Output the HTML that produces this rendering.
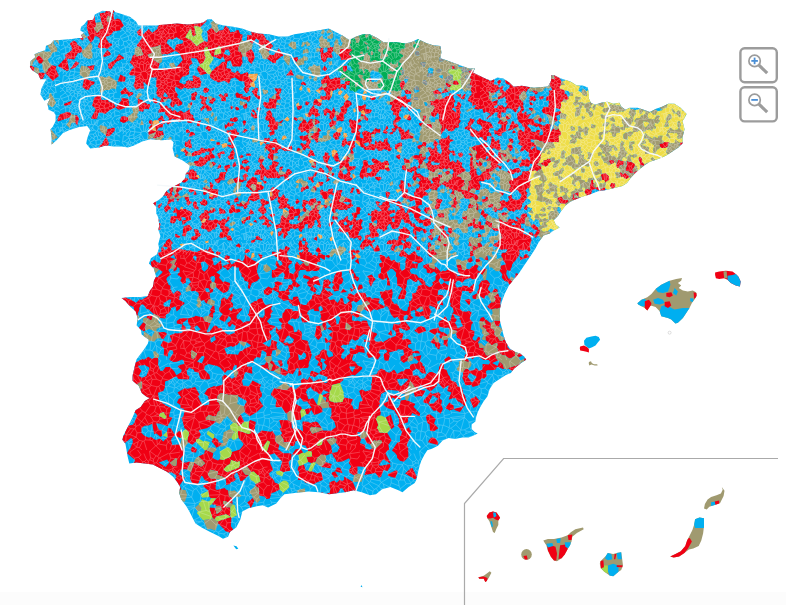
<!DOCTYPE html>
<html><head><meta charset="utf-8"><style>
html,body{margin:0;padding:0;background:#fff;width:786px;height:605px;overflow:hidden;font-family:"Liberation Sans",sans-serif;}
svg{display:block;}
</style></head><body><svg width="786" height="605" viewBox="0 0 786 605"><rect x="0" y="592" width="786" height="13" fill="#fcfcfc"/><polygon points="136.0,21.4 129.9,16.8 120.8,13.7 115.4,12.2 113.1,9.9 111.6,15.3 110.1,11.4 102.4,10.7 99.4,12.2 94.8,14.5 93.3,19.8 87.2,20.6 84.1,24.4 81.1,26.7 80.3,30.5 84.1,32.8 81.1,35.1 82.6,38.1 78.0,38.1 71.9,38.9 62.7,39.7 53.6,40.4 50.5,44.2 46.0,45.8 45.2,50.3 38.3,52.6 34.5,54.2 35.3,57.2 30.7,61.0 29.9,67.1 32.2,70.2 38.3,74.2 40.4,79.3 46.5,79.3 44.4,82.4 41.4,88.5 40.4,94.6 44.4,100.7 50.5,97.6 47.5,103.7 48.5,109.8 53.6,111.9 55.6,114.9 55.6,121.0 52.6,127.1 50.5,129.2 51.6,137.3 51.6,144.4 56.6,140.3 62.7,133.2 68.9,130.2 79.0,127.1 87.2,126.1 90.2,130.2 87.2,138.3 86.2,143.4 90.2,148.5 99.4,147.5 105.5,145.4 113.6,146.4 121.8,146.4 127.9,147.5 134.0,145.4 142.1,141.4 150.3,139.3 162.5,140.3 170.5,139.2 173.6,142.2 172.6,148.3 174.6,156.4 182.7,160.5 189.9,165.6 188.9,169.7 185.8,173.7 184.8,178.8 180.7,182.9 176.6,184.9 170.5,188.0 166.5,191.0 162.4,197.1 158.3,200.2 153.2,203.2 156.3,207.3 156.3,213.4 158.3,217.5 159.3,225.6 158.3,229.7 160.4,235.8 158.3,243.9 159.0,248.1 157.0,254.2 150.9,258.3 148.9,263.4 153.9,268.5 156.0,276.6 153.9,280.7 152.9,286.8 149.9,290.8 147.8,295.9 140.7,296.9 130.5,296.9 121.4,298.0 125.4,301.0 130.5,307.1 135.6,311.2 137.7,318.3 136.6,325.4 140.7,329.5 141.7,334.6 148.9,339.7 147.8,343.7 143.8,349.8 136.6,359.3 134.6,366.4 132.6,375.6 132.6,380.7 138.7,385.8 141.7,392.9 146.8,396.9 149.9,398.0 144.8,401.0 140.7,407.1 135.6,410.2 132.6,417.3 128.5,425.4 123.4,435.6 122.4,439.7 125.4,443.7 126.5,449.8 127.5,455.9 129.3,463.6 136.5,462.5 144.6,463.6 152.7,464.6 158.9,467.6 167.0,471.7 173.1,476.8 177.2,481.9 180.2,486.9 179.2,493.1 181.2,499.2 186.3,506.3 189.4,511.4 192.4,517.5 195.5,523.6 201.6,527.6 209.7,531.7 217.9,535.8 223.0,538.8 228.1,536.8 230.1,531.7 236.2,527.6 240.3,519.5 242.3,511.4 248.4,508.3 256.6,506.3 262.7,505.3 268.1,507.5 276.3,503.4 280.4,498.3 284.4,494.2 292.6,493.2 300.7,492.2 308.9,491.6 319.0,492.2 329.2,494.2 337.4,493.2 345.5,492.2 353.6,490.2 361.8,492.2 369.9,495.3 376.0,494.2 382.1,489.2 390.3,487.1 398.4,490.2 402.5,492.2 408.6,487.1 414.7,483.1 416.7,479.0 417.8,472.9 419.7,465.6 421.2,461.0 424.3,454.9 427.3,450.3 431.9,448.8 438.0,445.8 442.6,440.4 448.7,438.1 454.8,438.9 462.4,437.4 468.5,437.4 473.1,435.8 477.7,433.6 474.7,432.0 471.6,429.0 471.6,424.4 475.4,421.4 476.2,416.8 477.7,412.2 480.0,407.6 483.5,401.4 487.5,396.3 489.6,389.2 493.6,383.1 499.7,379.0 505.9,374.9 510.9,372.9 514.0,368.8 520.1,363.7 526.2,359.7 524.2,356.6 520.1,353.6 514.0,351.5 509.9,348.5 505.9,342.4 503.8,336.3 501.8,328.1 499.7,320.0 499.7,309.8 501.7,301.7 504.8,293.6 508.9,285.4 513.9,279.3 519.0,273.2 523.1,267.1 527.2,261.0 531.2,254.9 535.3,248.8 538.4,242.7 541.4,238.6 543.5,235.6 549.6,233.6 553.6,230.5 559.7,227.5 555.7,224.4 553.6,220.3 557.7,216.3 561.8,210.2 565.9,205.1 569.9,202.0 574.0,200.0 576.6,198.9 582.7,196.6 590.4,194.3 598.0,191.3 604.1,190.5 610.2,189.0 616.3,187.5 622.4,185.9 627.0,182.9 631.6,176.8 637.7,170.8 643.8,165.8 649.9,161.7 656.0,159.7 662.1,157.6 666.2,155.6 672.3,151.5 678.4,147.5 682.5,143.4 682.5,137.3 684.5,129.2 682.5,121.0 684.5,118.0 686.6,113.9 680.5,107.8 674.4,103.7 668.2,103.7 662.1,106.8 656.0,108.8 649.9,111.9 643.8,109.8 637.7,107.8 629.6,107.8 625.5,109.8 621.4,106.8 619.4,102.7 613.3,103.7 607.2,101.7 601.1,102.7 595.0,104.7 590.9,102.7 588.9,98.6 588.9,93.6 587.8,87.5 582.7,85.4 576.6,85.4 570.5,81.4 566.5,80.3 560.4,78.3 554.2,75.3 551.2,75.3 551.2,80.3 548.1,86.4 534.0,87.8 527.9,86.8 521.8,85.8 513.6,86.8 509.6,82.7 503.5,78.6 497.4,77.6 491.2,80.7 485.1,78.6 479.0,75.6 472.9,72.5 475.0,68.5 468.9,68.5 460.7,65.4 452.6,62.4 446.5,60.3 440.4,58.3 441.4,52.2 440.4,46.1 432.2,45.1 426.1,43.1 418.0,38.9 411.1,42.3 404.3,43.5 397.4,42.3 390.5,42.3 383.7,42.3 376.8,37.8 369.9,34.3 363.1,34.3 356.2,36.6 349.3,40.0 342.4,35.5 335.6,32.0 328.7,28.6 321.8,29.7 315.0,30.9 308.1,32.0 301.2,33.2 294.4,34.3 287.5,36.6 278.3,36.6 269.2,34.3 258.4,33.6 250.3,31.5 242.1,28.5 232.0,26.4 223.8,25.4 215.7,23.4 211.6,19.3 207.5,19.3 203.5,22.4 197.4,23.4 187.2,24.4 177.0,23.4 166.8,24.4 156.6,25.4 146.5,25.4 138.3,25.4" fill="#00aff0" /><path d="M103.1 28.5L101.0 28.8L97.1 33.0L93.8 28.3L96.2 26.3L95.9 22.8L95.3 22.2L94.7 16.0L94.3 16.2L93.3 19.8L87.6 20.5L87.6 24.0L86.8 25.6L87.1 27.0L86.7 27.8L89.2 35.4L87.0 37.0L90.9 42.9L93.4 39.5L94.8 36.4L96.1 36.1L99.6 37.9L100.0 42.0L99.0 43.3L97.8 46.6L98.9 48.2L103.8 48.1L104.5 47.7L107.1 49.0L112.2 45.1L111.7 43.7L109.2 42.9L106.4 38.9L105.9 36.4L108.8 36.0L111.8 34.1L113.1 31.4L120.3 30.3L120.7 28.4L123.9 25.4L120.2 19.5L117.5 18.4L115.3 19.8L113.9 18.8L113.3 12.9L114.5 11.3L113.1 9.9L111.6 15.3L110.1 11.4L106.0 11.0L105.1 12.6L100.1 13.2L99.7 13.5L101.2 21.8L103.4 27.2ZM106.6 20.0L108.2 15.6L111.9 19.0L109.6 21.3L108.0 22.0ZM143.3 54.3L142.0 55.2L136.9 56.3L134.5 54.3L132.6 56.0L131.5 59.5L129.7 62.6L132.5 65.3L133.9 67.6L131.9 69.3L128.8 74.1L131.0 75.6L135.5 75.4L134.9 81.6L133.4 85.5L135.7 89.6L137.5 89.4L139.6 88.2L143.7 88.9L143.9 88.0L143.4 81.4L147.6 85.5L149.6 85.9L149.6 77.5L156.6 77.5L156.0 86.4L157.6 88.1L156.2 92.8L157.6 96.6L161.3 98.2L159.8 102.6L164.0 102.1L163.6 99.2L164.6 98.9L167.1 99.5L168.0 98.2L171.0 98.9L171.8 101.0L170.1 103.9L171.0 106.8L173.5 107.3L174.7 104.8L176.2 103.7L177.2 105.3L178.8 106.3L182.2 104.3L182.3 102.2L180.4 100.8L180.2 99.9L176.9 96.8L178.1 95.1L174.6 89.8L175.7 86.6L180.6 89.5L182.8 89.0L184.0 87.5L188.3 88.7L190.1 88.2L191.2 88.5L194.9 87.6L195.7 88.3L199.0 87.5L200.5 86.7L201.4 81.4L200.7 80.9L199.5 77.3L198.1 77.2L193.9 75.2L192.5 76.1L193.1 81.0L188.4 80.2L186.0 81.4L185.8 83.4L184.5 84.6L179.2 82.4L179.7 80.2L182.5 76.4L183.3 76.7L185.5 76.1L189.2 73.9L188.9 71.3L189.8 69.6L188.8 67.6L190.1 65.1L192.6 63.6L190.8 58.9L191.6 58.1L196.7 58.5L200.0 64.6L203.3 62.4L206.0 57.3L204.8 56.0L204.3 48.6L207.1 46.4L211.5 56.5L213.1 56.8L213.6 56.4L220.4 59.3L223.0 56.6L225.6 61.5L222.3 62.1L218.2 66.3L217.3 66.2L211.8 70.9L209.7 74.5L210.4 77.7L214.1 80.5L215.9 80.9L218.4 82.5L224.5 80.7L229.1 83.7L231.0 78.6L235.2 77.6L238.3 79.8L239.0 80.9L244.2 81.6L244.9 87.1L243.6 89.1L245.5 92.5L246.3 93.1L247.0 93.0L249.3 90.3L248.6 88.4L251.0 86.4L249.9 84.1L253.2 81.2L248.2 76.5L248.6 74.1L247.4 72.1L240.7 74.5L237.7 70.5L234.9 73.1L231.5 71.7L230.8 69.0L226.3 67.9L227.3 61.8L229.6 60.6L230.7 61.0L232.6 66.4L240.5 66.4L242.6 62.8L242.0 57.4L242.6 56.8L241.3 52.2L238.5 50.9L238.6 47.0L240.6 41.4L241.9 39.9L242.7 34.7L240.2 33.9L238.5 30.1L236.4 30.3L234.1 32.0L232.5 31.7L230.4 32.5L228.7 28.6L225.9 26.0L224.9 26.6L223.1 30.0L218.9 30.6L216.5 33.1L211.4 27.6L206.8 31.7L207.5 32.8L207.9 40.1L207.4 42.0L204.1 40.9L199.0 44.3L198.8 44.9L196.4 45.9L191.1 40.1L185.9 37.8L185.5 36.8L189.6 30.0L190.8 29.1L192.8 36.9L196.0 35.0L194.3 26.4L194.9 25.7L200.4 27.3L206.8 21.0L206.2 20.3L203.5 22.4L197.4 23.4L187.2 24.4L177.0 23.4L159.2 25.1L157.7 26.8L157.4 29.1L152.3 32.7L149.8 30.4L148.9 28.8L143.2 34.2L140.6 28.4L136.6 32.1L138.8 35.4L142.8 36.5L142.9 37.1L136.7 45.3L137.0 46.4L140.2 47.2ZM154.2 60.2L154.2 59.3L148.5 56.4L147.7 54.8L152.2 53.3L150.8 47.9L153.5 46.8L154.9 47.1L159.9 45.2L160.6 45.3L161.1 53.4L162.7 54.5L165.7 54.1L167.3 54.6L174.8 51.0L177.1 51.8L179.8 54.0L182.8 60.0L176.3 67.3L176.3 68.0L175.3 68.4L171.1 67.8L167.0 69.6L165.5 67.7L158.0 70.2L159.6 63.4ZM172.9 39.5L176.6 36.9L179.3 39.3L183.3 40.5L182.6 43.6L177.4 44.3L176.0 44.9L174.7 50.4L166.5 42.9L167.9 39.8L169.7 39.0ZM164.5 96.7L163.0 96.1L164.8 92.0L167.8 95.4L167.5 97.2ZM214.8 50.8L218.5 46.3L220.7 46.8L221.1 53.4L214.4 55.3ZM225.7 49.8L228.4 49.5L230.5 53.7L229.0 55.7L223.9 53.7ZM79.3 38.1L82.4 40.4L83.8 38.7L81.6 34.8L81.1 35.1L82.6 38.1ZM66.9 71.1L69.0 69.9L67.0 58.6L74.2 59.6L77.7 53.3L81.6 52.2L82.5 50.0L81.0 46.6L77.9 45.2L76.2 42.0L73.4 40.6L69.8 43.6L72.0 48.2L71.4 50.6L65.0 55.0L65.8 57.4L57.8 66.0ZM102.7 56.0L104.3 57.1L110.6 54.9L110.5 53.0L107.5 50.1ZM110.8 69.4L116.6 61.4L116.9 61.6L124.6 58.1L119.0 53.9L115.6 59.5L108.1 64.1L108.4 67.9ZM43.9 60.1L39.9 55.8L39.0 55.6L36.3 57.3L36.2 59.0L39.1 63.5L41.5 63.4ZM79.4 63.1L75.9 61.2L70.0 69.4L75.3 67.5ZM93.6 69.8L94.5 65.1L87.0 66.5L90.8 70.4ZM43.1 78.6L45.2 73.1L53.2 81.2L54.0 79.8L59.0 75.8L55.7 69.1L56.5 66.4L51.6 65.0L47.6 69.6L46.9 71.9L45.2 73.0L39.8 72.6L37.5 73.7L38.3 74.2L40.4 79.3ZM34.3 67.3L32.1 65.9L30.1 65.7L29.9 67.1L32.2 70.2L34.2 71.5ZM125.6 77.3L120.2 74.6L117.7 81.5L125.0 81.8ZM85.2 78.0L84.3 78.0L82.4 87.1L86.2 89.8L88.8 89.7L91.0 85.5L93.9 84.6L94.8 82.0L86.2 78.9ZM128.8 97.1L133.3 94.1L132.9 92.2L128.9 91.8L125.5 87.2L120.3 91.8L121.5 94.6L127.2 93.8ZM98.6 112.6L102.2 112.8L105.0 113.9L108.5 111.2L108.9 110.4L115.7 107.3L113.6 103.3L108.6 101.6L108.3 99.8L101.6 100.1L100.5 94.5L94.5 97.5L93.9 98.6L92.1 105.4L94.8 107.9L95.6 109.8L91.0 118.3L93.5 119.0L97.0 118.7ZM121.5 109.5L126.6 107.6L127.2 106.9L129.3 106.1L128.6 99.7L128.2 99.0L121.5 97.7L121.4 100.6L115.8 107.4L118.1 109.5ZM138.9 111.1L143.1 111.7L144.0 109.2L147.1 108.7L148.6 109.6L150.3 106.0L149.6 104.0L147.1 104.2L146.3 103.1L143.1 102.0L142.9 100.5L138.4 98.6L137.7 98.7L137.9 106.1L138.2 106.3ZM64.6 105.7L70.1 104.7L72.5 100.4L64.3 103.8L64.0 104.8ZM69.7 117.4L71.4 113.9L70.7 112.7L67.1 111.7L59.7 114.6L57.6 118.8L57.6 121.5ZM127.8 117.3L124.1 115.9L121.3 116.7L119.9 120.4L120.5 121.8L123.8 123.0L128.7 120.7ZM77.3 125.5L79.0 118.2L76.9 115.3L75.2 115.2L75.3 123.1ZM115.1 130.3L114.4 127.4L107.3 129.2L105.7 135.2L106.4 136.5L109.8 135.9ZM108.9 143.0L106.2 137.0L105.1 137.9L101.8 144.3L100.5 144.7L98.6 147.6L105.5 145.4L108.1 145.7ZM138.1 315.3L137.6 314.0L139.4 309.5L139.1 308.2L140.6 305.2L142.3 304.2L144.0 305.1L146.6 309.3L148.2 308.9L153.6 314.1L154.1 313.8L159.5 317.2L159.8 318.1L165.5 318.5L166.1 314.4L168.8 313.3L171.0 309.6L170.8 308.2L175.3 306.2L176.6 311.5L180.3 308.4L180.4 306.8L184.3 304.1L184.6 302.8L179.2 299.7L179.5 295.9L181.4 294.4L180.3 292.1L177.1 290.4L173.3 294.0L170.3 288.9L170.5 285.8L168.6 284.7L166.3 279.3L167.3 277.3L171.0 274.6L168.4 270.5L169.0 268.9L170.5 268.4L173.0 264.6L169.8 262.2L175.6 259.2L170.3 257.6L170.6 256.9L173.7 254.3L175.9 259.2L176.6 259.6L174.0 264.7L175.8 266.3L173.2 269.3L173.9 271.5L176.5 270.1L177.3 267.1L179.5 268.2L179.7 272.2L178.6 272.9L177.4 274.8L181.8 277.8L180.3 280.5L182.7 284.0L185.7 282.8L186.2 278.3L188.9 278.2L191.0 282.0L188.5 284.6L190.4 286.7L190.6 290.7L192.1 291.3L195.0 290.7L198.4 292.7L199.0 295.3L198.3 296.5L201.0 300.9L203.7 300.1L206.2 303.5L206.8 303.3L208.5 299.6L210.6 298.9L209.6 295.0L210.5 292.8L212.5 292.3L213.4 289.2L210.8 288.1L209.8 284.4L212.2 281.9L210.5 279.3L210.2 277.2L212.2 275.9L214.8 276.6L215.2 278.7L214.2 281.9L216.0 283.9L215.9 287.1L223.1 293.1L226.8 292.1L229.1 288.9L229.4 286.4L229.9 285.6L229.9 282.9L224.8 281.2L223.1 282.2L219.1 277.8L220.2 274.9L216.2 272.2L221.6 268.7L222.1 266.4L221.8 266.0L220.9 260.2L215.3 265.3L214.3 265.3L213.4 264.5L213.6 262.4L212.1 258.9L212.4 258.2L215.7 257.1L218.4 258.0L218.3 255.9L220.9 252.9L220.5 252.2L217.2 251.2L215.8 252.4L216.4 253.8L215.5 256.1L212.8 254.7L214.3 252.5L212.1 250.2L212.1 249.3L209.7 246.7L207.8 250.9L206.1 249.0L203.4 250.4L200.9 249.6L199.4 250.9L198.1 251.1L197.4 252.1L192.9 251.5L190.2 250.2L186.8 250.7L185.8 250.1L176.5 248.6L172.1 250.5L171.8 250.4L171.2 244.9L172.9 242.9L169.3 238.5L166.0 241.1L166.1 242.1L162.3 246.5L167.1 247.0L167.6 248.6L164.9 250.1L162.2 246.8L161.3 248.1L161.4 251.7L158.1 252.7L158.1 254.2L159.7 256.6L160.5 256.9L160.8 261.6L160.0 263.0L156.8 262.0L154.4 259.7L150.8 262.0L151.4 265.9L152.9 267.5L154.0 267.3L158.9 269.2L159.1 269.7L162.6 271.7L162.0 273.1L157.2 277.5L155.8 276.9L153.9 280.7L152.9 286.8L149.9 290.8L147.8 295.9L147.1 296.0L147.4 296.6L141.5 299.9L139.8 299.2L136.2 302.7L132.0 300.5L131.8 299.7L127.2 298.5L126.1 297.4L121.7 298.3L125.4 301.0L129.4 305.8L130.3 305.4L133.9 307.3L134.0 309.9L135.6 311.2L137.0 315.9ZM169.2 299.4L171.2 299.7L169.5 306.8L164.0 306.6L163.3 304.3L163.9 303.1ZM209.9 292.5L206.1 291.8L205.0 289.0L206.4 288.1L208.9 288.5ZM202.5 261.6L205.1 261.8L208.7 265.9L208.1 267.3L208.0 268.6L204.4 271.7L201.4 269.3L201.9 267.8L200.6 263.1ZM195.5 261.3L192.9 257.4L194.4 255.5L195.8 255.8L196.8 257.8ZM144.1 331.2L145.0 330.7L145.9 323.9L143.2 322.3L139.2 327.2L139.1 327.9L141.3 330.0ZM135.9 413.3L137.2 415.6L134.4 421.9L134.6 422.5L132.2 424.9L128.5 425.4L124.9 432.7L125.2 434.0L123.3 436.0L122.4 439.7L124.9 443.0L130.7 438.3L132.1 438.6L132.9 442.0L130.3 448.4L129.3 449.1L127.2 453.1L127.3 453.6L134.7 459.8L135.0 460.8L133.5 463.0L136.5 462.5L152.7 464.6L167.0 471.7L168.5 473.0L168.9 472.3L172.1 472.5L176.5 475.5L175.4 479.7L177.2 481.9L180.2 486.9L179.5 491.1L181.2 489.3L179.8 485.3L185.0 477.5L179.0 474.2L181.0 469.4L185.8 469.3L187.2 469.8L190.2 461.7L189.0 461.4L186.6 462.4L182.7 462.4L180.1 458.9L184.4 453.5L183.9 450.9L180.0 444.5L173.9 444.7L172.5 445.2L171.3 441.5L171.2 439.0L174.6 435.2L179.4 437.7L181.0 438.1L182.0 436.2L182.0 432.4L179.2 430.9L174.5 434.2L171.0 428.4L168.1 427.8L167.0 431.5L167.4 437.6L163.2 441.4L160.3 438.6L155.8 440.0L150.6 436.7L149.0 437.7L144.4 435.8L141.4 432.8L141.5 428.3L144.4 425.8L148.6 425.4L152.1 423.7L154.2 434.0L156.5 433.5L160.4 437.1L162.3 435.6L161.8 430.3L159.0 429.8L156.0 423.4L159.2 423.4L167.4 426.3L172.5 417.8L168.9 416.4L171.1 407.9L165.7 405.6L164.8 404.5L163.9 404.2L159.2 400.1L157.9 392.7L163.3 391.1L164.9 387.5L165.0 381.9L165.8 381.1L167.9 380.8L176.2 376.3L178.5 379.0L188.5 379.5L189.2 378.5L189.4 376.6L187.2 374.6L186.6 370.8L189.3 367.7L193.9 369.7L194.3 371.4L198.6 372.8L200.8 379.2L207.9 379.4L210.1 378.7L209.4 374.8L204.2 369.7L204.9 365.8L208.8 364.0L215.5 365.7L216.1 365.4L220.0 367.6L224.9 372.9L227.3 370.3L232.5 369.9L233.7 366.3L235.2 364.9L237.0 365.5L236.3 370.2L238.1 372.3L237.6 374.3L236.1 376.9L234.7 377.2L232.2 378.8L224.8 374.4L222.3 376.7L222.8 384.1L221.5 385.1L216.4 386.6L213.5 385.9L213.2 386.4L207.7 388.5L204.3 393.8L207.8 396.3L208.7 399.0L209.5 403.3L208.6 404.7L204.2 405.6L202.5 404.5L200.0 400.7L198.1 396.3L199.7 394.8L195.1 387.1L187.7 388.8L184.6 388.3L177.5 392.5L181.3 397.6L178.6 399.0L176.9 402.6L180.6 405.2L180.5 407.7L183.8 409.0L184.6 410.7L183.5 416.2L181.4 418.5L182.1 419.1L184.4 428.3L185.9 429.1L189.2 432.6L187.2 440.8L188.2 442.6L192.2 444.8L195.8 441.8L196.4 439.2L199.0 438.6L200.8 434.4L198.8 430.6L198.9 430.1L207.6 428.1L208.0 427.3L209.1 427.1L215.8 422.1L215.4 421.1L206.0 419.4L206.0 417.4L208.8 415.1L215.3 416.7L216.6 415.2L218.0 411.8L219.8 410.9L220.0 405.1L218.8 402.5L217.4 401.7L217.5 396.3L218.9 394.6L220.3 393.5L222.9 393.3L228.9 395.0L229.2 394.8L237.5 395.1L238.4 396.6L245.6 400.3L246.7 401.4L244.1 406.3L244.6 410.4L244.3 411.9L249.7 416.3L256.3 412.4L263.3 406.1L258.9 399.2L261.9 396.3L261.8 392.8L260.6 391.6L259.6 388.8L261.0 384.7L252.6 380.6L248.6 386.2L243.0 385.5L242.0 380.4L243.5 378.4L244.1 374.7L245.7 372.1L252.3 373.8L252.0 366.8L246.9 366.4L247.3 361.9L253.0 363.0L254.1 359.1L256.9 356.9L260.4 357.7L261.6 351.0L262.3 350.3L266.1 352.3L266.6 356.2L271.1 356.1L272.5 350.6L275.7 350.1L277.4 349.0L276.3 345.0L277.3 341.9L271.6 339.8L270.7 345.2L268.9 347.1L262.6 343.3L270.9 338.9L271.4 336.0L269.2 331.8L270.3 330.8L271.9 330.2L275.6 326.3L270.1 324.7L266.9 321.3L270.9 317.1L270.6 314.2L272.8 311.3L270.6 308.7L272.7 305.3L272.2 303.9L265.6 304.9L264.3 303.5L261.6 297.9L258.1 299.3L256.3 301.2L254.8 300.9L248.8 304.9L250.1 306.4L248.9 313.4L247.7 314.4L250.3 317.6L249.8 321.3L246.6 321.3L243.4 322.8L240.3 319.6L237.7 319.2L236.5 317.8L236.7 315.2L242.2 309.4L241.1 308.0L235.2 309.6L233.1 308.1L231.6 311.0L228.6 309.6L229.6 308.0L232.8 307.0L233.3 304.2L231.7 301.9L230.5 301.2L233.6 295.0L231.7 293.3L226.9 299.7L224.1 297.2L220.8 299.8L221.0 303.1L220.6 303.8L220.3 307.0L219.1 307.6L219.2 311.2L222.7 314.0L218.8 319.0L224.7 322.1L228.9 316.1L231.1 317.9L230.1 321.2L227.3 323.1L228.6 326.5L230.3 326.7L232.1 323.8L235.8 326.0L234.4 330.6L234.9 332.7L230.4 334.6L227.4 334.4L225.4 332.8L221.1 328.1L218.7 328.3L216.7 325.9L214.2 325.4L209.4 332.0L207.7 332.5L207.1 332.3L206.6 331.6L210.5 323.0L205.1 321.2L204.0 319.7L203.2 317.5L202.5 317.2L195.3 315.7L194.8 316.5L188.1 318.5L183.0 318.0L181.3 318.5L180.5 318.2L176.7 320.9L176.8 323.4L182.5 324.5L181.2 328.5L182.8 332.1L181.2 333.1L176.6 333.5L175.9 333.1L169.6 335.6L171.7 340.8L168.7 342.9L163.3 340.4L160.6 345.3L160.8 345.8L164.1 348.4L163.8 355.1L165.2 356.1L167.8 356.6L167.9 353.7L169.9 350.0L172.6 350.4L173.5 352.9L169.5 358.4L169.6 359.9L173.4 362.0L176.8 361.8L182.2 359.6L184.1 361.5L184.1 364.1L179.5 365.1L177.7 366.8L181.7 370.1L181.2 372.2L176.4 375.2L174.2 371.2L170.0 367.1L165.6 367.1L163.0 370.8L160.1 370.8L158.6 365.5L158.0 365.2L158.3 360.7L158.0 358.0L154.1 357.7L152.0 359.1L148.3 356.8L144.0 359.8L142.3 358.9L135.7 362.4L132.6 375.6L132.6 380.7L137.0 384.4L142.0 381.3L141.5 388.4L140.4 389.8L141.7 392.9L146.8 396.9L149.9 398.0L144.8 401.0L140.7 407.1L135.6 410.2L134.4 413.0ZM227.8 354.5L226.7 353.9L224.3 348.4L231.2 346.0L232.8 346.9L237.6 344.4L239.0 342.5L238.9 341.3L247.1 342.4L251.0 345.4L250.4 346.3L244.5 348.7L243.0 350.3L239.8 351.6L237.8 355.1L236.9 354.5L228.9 354.0ZM176.3 465.7L174.1 466.2L172.3 464.9L170.1 462.7L175.8 458.2L177.2 458.9ZM169.2 462.6L165.7 467.1L158.8 462.5L167.1 459.6ZM141.4 370.7L137.8 365.7L145.2 365.0L145.9 365.7L148.9 367.2L149.4 368.2L146.3 375.9L142.1 377.8L139.4 376.3L139.0 375.6ZM160.4 413.3L163.5 412.2L166.4 416.7L165.3 418.8L164.4 418.7L158.9 415.7ZM193.8 359.1L191.6 358.1L190.9 352.3L191.7 350.5L192.4 350.5L197.2 353.8ZM187.9 319.0L188.2 322.9L190.9 326.4L189.5 329.9L185.8 329.6L185.6 326.9L182.7 324.4L182.9 322.7ZM194.3 327.2L196.9 325.2L200.8 329.6L196.4 332.1L195.6 331.7ZM210.6 341.4L210.5 338.2L214.8 335.7L215.8 339.9L211.1 342.8ZM197.2 361.8L201.9 356.0L204.2 356.3L204.6 357.1L201.9 363.2ZM264.4 309.2L264.8 314.6L263.1 317.8L259.3 317.2L258.5 315.3L258.3 312.9L262.2 309.7ZM146.2 25.8L146.5 25.4L145.4 25.4ZM152.9 97.9L153.2 102.3L156.0 103.6L157.6 103.1L156.8 99.1ZM160.7 107.8L158.6 110.3L158.4 112.6L159.1 112.8L161.1 112.2L164.7 111.7L165.0 112.0L165.4 114.5L168.3 117.0L169.2 119.1L166.3 122.5L167.9 124.4L171.4 122.2L170.6 119.7L172.6 119.1L177.7 120.1L178.4 121.5L179.7 122.0L185.4 118.9L185.9 119.1L187.2 120.9L187.3 122.5L191.5 123.2L192.1 122.3L193.5 122.2L194.7 119.2L193.1 117.2L193.4 115.4L190.3 113.4L189.9 109.0L185.3 112.2L183.8 112.7L181.3 110.8L180.4 110.5L177.3 112.5L175.0 109.9L172.3 111.1L170.2 108.0L169.0 108.5L166.7 105.4L165.7 105.6L164.8 106.8L159.0 103.2ZM156.2 130.7L155.7 131.2L151.4 129.5L152.4 124.4L152.7 124.3L152.6 121.6L151.4 119.9L149.2 120.5L148.7 123.2L151.6 124.3L148.6 127.8L149.7 129.8L148.3 132.8L148.7 135.2L155.3 132.2L155.4 134.0L152.7 138.3L153.5 138.6L159.9 136.7L160.8 135.4L164.0 135.2L162.6 130.6L161.2 131.1L156.9 130.3L159.2 127.4L162.9 127.3L163.1 124.2L166.1 122.4L163.6 119.1L163.0 116.5L160.8 115.6L160.1 117.4L158.2 118.7L158.0 120.0L159.0 121.0L161.9 120.0L162.8 124.0L159.4 123.4L158.4 124.5L154.6 124.6ZM168.5 198.7L168.5 200.7L167.4 202.4L167.5 204.6L165.9 206.3L164.9 206.7L164.1 208.2L164.7 211.1L166.2 212.4L168.5 209.7L170.5 209.4L171.1 208.1L167.8 204.6L169.1 204.1L171.6 201.6L173.5 202.0L174.7 197.9L170.7 199.1L169.6 198.4L170.5 196.4L172.8 195.5L171.6 193.3L173.3 190.2L173.3 187.5L173.9 186.9L176.2 187.0L176.9 188.7L175.3 190.7L176.9 192.8L175.1 194.2L174.0 195.9L174.9 197.8L179.8 195.6L177.8 192.8L179.6 190.4L181.8 190.1L182.3 187.8L179.2 185.2L180.2 183.1L169.5 188.7L169.3 189.9L170.1 193.1L169.2 193.6L166.8 191.7L167.2 190.5L166.5 191.0L163.3 195.7L164.6 195.4L166.9 196.0L167.1 198.1ZM155.6 206.2L156.2 202.1L156.1 201.5L153.2 203.2ZM158.7 204.7L157.8 207.2L159.3 208.2L162.0 204.4L161.5 203.1ZM158.5 230.0L160.6 229.4L159.8 226.1L160.6 225.3L160.5 223.6L159.0 222.9L159.3 225.6L158.3 229.7ZM159.4 219.8L158.5 219.3L158.9 222.2ZM146.3 317.6L150.7 320.3L151.6 319.9L152.9 316.5L152.8 315.7L147.5 316.1ZM163.4 339.3L166.9 334.2L166.6 333.6L165.6 332.4L163.9 332.0L158.3 332.2L158.3 332.9L161.5 338.6ZM190.1 132.6L188.7 136.1L188.9 136.6L191.5 136.5L192.4 135.5L195.2 135.1L194.6 133.3L192.0 131.7L190.3 132.3L188.0 128.9L185.8 130.2L186.4 132.9ZM185.2 141.6L184.7 145.0L185.5 147.2L187.6 146.7L189.4 148.4L191.6 148.0L191.9 147.6L191.6 143.9L190.9 143.7L190.6 139.6L189.7 139.0L187.1 142.0ZM185.0 155.2L187.3 156.0L188.1 151.7L185.4 149.3L183.1 151.5L185.4 153.2ZM189.2 178.5L191.8 178.9L193.7 179.7L197.8 179.2L198.6 178.2L195.8 176.0L196.9 174.8L196.2 171.2L194.7 171.3L193.1 169.4L192.3 169.1L189.2 170.5L188.6 172.5L187.2 171.9L185.8 173.7L185.6 174.6L186.2 174.8L188.2 173.5ZM182.0 182.0L184.2 182.7L187.5 180.9L188.2 179.0L185.1 177.5L184.8 178.8L182.0 181.6ZM188.9 196.9L187.0 196.4L184.3 197.5L187.0 201.9L186.1 203.0L188.2 205.7L192.2 202.3L189.0 200.6L189.4 198.5ZM176.3 198.8L177.9 201.9L179.3 198.8ZM176.7 216.6L173.8 215.8L170.9 216.5L170.0 221.5L170.4 222.4L172.4 223.6L174.8 223.0L176.9 218.4L179.1 221.0L181.8 220.5L181.4 216.7L185.0 217.6L186.0 218.9L185.9 219.7L181.9 220.6L182.8 225.3L187.0 221.4L191.3 219.6L190.1 216.6L191.5 215.4L192.4 213.0L190.2 211.2L187.7 210.3L185.8 209.1L180.2 209.3L179.3 210.2L178.1 210.1L175.1 207.0L174.0 210.7L172.6 211.6L173.9 213.0L176.3 212.8L177.0 214.9ZM185.5 236.5L187.0 231.6L190.6 230.3L192.3 228.5L189.1 224.6L183.3 226.7L183.6 227.3L182.7 230.9L183.0 231.7L182.2 235.7L183.6 236.3ZM175.1 237.1L179.4 238.0L180.3 236.5L176.4 233.9L175.2 234.1ZM200.4 75.2L207.1 73.5L204.2 70.0L199.3 65.9L198.2 66.6L196.9 68.9ZM206.4 87.4L203.8 88.2L203.2 91.4L204.8 93.1L207.3 92.5L208.7 91.1L209.1 89.2ZM191.5 96.4L190.7 98.8L191.9 99.9L195.4 100.3L195.6 96.6L197.5 94.0L196.0 91.4L191.2 94.1ZM211.7 110.4L211.9 110.1L211.7 107.9L206.6 104.3L206.1 104.4L205.4 102.0L207.4 97.3L203.9 97.0L203.6 96.3L200.2 94.9L199.7 98.6L201.9 99.4L200.5 103.0L204.0 105.0L200.1 108.9L201.0 111.6L205.9 107.5L207.5 111.3ZM189.1 103.6L191.4 105.6L192.1 105.3L192.3 102.3L191.9 101.8ZM196.8 125.6L199.6 126.5L200.2 124.1L199.6 123.7L201.3 120.2L197.2 121.5ZM208.3 125.5L205.0 128.1L209.4 131.6L210.6 130.3L211.1 127.8ZM194.7 151.3L191.6 153.5L192.0 156.5L195.0 156.1L195.7 155.5L198.9 154.8L199.6 155.2L202.6 152.8L204.9 152.9L205.5 151.6L209.6 151.7L209.0 154.7L206.0 154.9L206.0 155.5L203.3 158.0L201.7 156.9L200.1 156.6L198.2 160.7L194.8 160.9L193.8 162.2L195.9 165.9L201.2 166.8L204.2 164.9L205.0 164.8L208.1 160.7L209.6 160.8L211.0 158.5L215.1 158.0L215.1 156.6L214.1 155.2L212.8 154.2L211.4 151.4L214.5 149.4L214.5 147.6L213.9 147.3L210.0 148.8L209.4 148.1L205.4 149.3L205.1 148.8L202.4 147.8L201.0 147.8L200.0 149.7L197.9 150.8ZM207.9 192.3L209.5 194.4L212.8 193.2L213.3 194.1L212.6 196.6L209.2 196.6L209.0 197.0L209.0 198.3L212.7 199.7L213.7 198.1L217.6 197.0L218.4 194.7L218.0 192.9L218.5 189.4L212.7 189.1L212.2 188.7L213.5 185.8L213.2 184.4L211.2 182.3L209.7 182.3L210.4 188.6L209.1 189.5L204.0 187.2L202.7 187.7L202.7 188.9L208.1 191.0L207.9 191.9L203.3 192.0L203.0 193.4L204.0 195.3L205.7 194.5ZM188.6 189.8L188.8 191.3L190.7 192.8L194.2 191.0L193.4 195.2L196.8 194.6L195.4 190.7L194.5 190.8L191.2 187.7ZM207.5 203.4L207.2 201.2L204.0 198.6L202.7 199.2L202.2 200.8L200.1 201.9L199.8 203.0L201.6 205.0L202.4 204.8L204.7 205.9L206.6 205.1ZM198.4 207.0L196.9 205.9L196.8 202.4L194.9 200.9L192.9 202.6L193.3 206.2L194.3 208.6L198.7 209.7ZM199.1 216.5L201.0 221.8L203.9 218.6L205.8 219.0L206.4 219.5L204.4 222.4L201.6 222.7L201.8 224.5L200.7 227.8L202.9 229.2L204.9 228.7L206.9 230.1L208.0 231.8L209.7 231.4L210.3 231.6L213.5 228.9L214.6 229.7L216.1 226.9L217.0 226.8L217.4 222.7L220.4 226.1L219.9 227.5L222.7 231.0L222.7 231.5L220.2 232.6L219.2 236.8L220.9 238.2L224.3 237.3L226.0 236.2L227.1 239.5L228.1 240.3L232.3 240.5L230.7 235.7L227.1 235.2L228.9 230.8L230.1 229.5L227.8 226.7L225.4 226.6L224.9 225.6L224.9 224.5L227.1 221.8L229.2 219.9L229.5 217.3L229.0 216.5L227.3 216.7L226.6 220.4L224.7 218.4L221.9 219.6L220.8 220.7L218.4 220.6L215.5 219.1L213.2 220.3L208.5 220.2L208.3 219.8L209.7 217.0L208.2 214.0L208.6 213.3L212.6 212.9L215.7 210.8L215.8 210.3L214.4 208.1L213.5 208.1L212.2 210.5L210.3 209.9L208.4 211.6L207.2 210.0L204.5 210.3L203.7 212.9L201.6 213.4L199.8 216.1ZM198.9 231.5L197.9 229.5L193.8 229.0L195.0 233.3L196.0 235.3L191.6 236.7L190.7 239.1L193.7 240.5L196.4 239.4L197.6 238.2L197.6 237.6L200.9 235.4L201.3 234.6L198.9 232.5ZM213.1 313.2L215.0 312.0L214.3 305.4L212.6 306.0L209.8 309.9L210.9 312.0L208.3 315.7L212.9 317.9L213.3 315.4ZM192.6 446.4L190.5 449.4L192.0 452.2L196.0 452.4L197.0 449.2ZM190.3 476.7L189.9 477.8L190.8 480.4L192.6 483.5L193.4 483.7L198.2 483.8L201.2 476.1L202.3 476.1L204.8 480.3L208.6 481.2L208.3 482.5L202.7 485.9L208.3 490.4L208.0 491.0L209.3 496.9L211.1 498.3L216.0 498.2L211.8 504.3L216.0 505.1L216.2 506.2L220.6 506.6L221.7 509.9L216.8 513.9L215.0 507.9L209.8 507.6L209.3 508.3L212.7 518.6L214.7 518.9L216.1 516.8L226.2 514.3L230.5 516.7L230.3 507.3L226.6 507.2L223.0 503.0L223.1 500.9L224.8 501.1L232.5 503.9L232.4 497.9L229.1 496.3L228.1 490.5L225.6 489.3L224.8 488.1L216.8 490.0L215.4 488.6L216.4 481.2L216.2 479.4L215.5 478.5L210.6 478.2L207.9 474.7L208.0 473.5L210.6 469.8L218.0 471.6L217.0 474.8L224.1 477.3L224.1 477.9L226.0 479.6L226.2 485.1L230.0 484.0L231.2 482.1L233.1 481.8L236.3 479.6L234.5 477.5L234.2 474.9L236.3 472.3L237.6 473.1L240.0 479.7L239.9 480.7L242.2 481.0L248.7 475.3L245.3 474.4L242.7 471.3L242.7 468.3L247.1 466.2L251.1 472.0L253.8 471.5L257.3 475.0L258.9 475.4L260.5 481.5L255.6 483.9L255.4 485.8L258.7 488.3L259.4 491.9L258.7 493.2L259.7 495.7L264.6 496.4L266.5 499.1L269.7 498.5L271.6 492.9L273.9 492.6L279.9 489.4L278.6 484.0L274.7 482.5L274.2 480.5L269.5 475.5L269.2 473.1L273.2 470.1L270.1 463.1L270.4 461.9L269.7 457.4L270.0 454.7L274.5 453.3L282.4 461.8L281.8 462.6L279.7 470.8L283.7 472.3L284.5 471.7L289.8 470.7L290.3 470.0L288.7 462.0L291.1 459.3L291.6 454.6L290.0 453.2L283.6 453.3L278.2 449.2L279.4 445.0L275.5 441.5L275.5 435.8L272.5 431.0L270.8 431.8L261.6 430.4L258.0 433.8L256.5 434.8L254.0 433.5L255.8 422.0L250.3 420.0L249.0 421.6L248.6 426.7L251.0 433.1L248.5 434.1L238.4 430.6L237.6 431.4L238.5 437.7L243.3 443.5L243.4 444.9L239.8 449.4L232.0 452.1L230.6 456.7L223.3 460.1L219.6 459.2L218.0 460.5L213.9 458.8L212.5 457.5L213.2 452.9L206.3 450.0L204.9 450.4L204.1 453.8L198.5 456.6L205.3 463.5L201.1 466.8L194.3 462.7L191.2 471.3L190.4 472.1ZM223.7 469.3L225.9 466.7L230.3 463.5L231.0 460.0L237.2 461.9L239.9 461.3L240.1 462.7L239.1 467.6L227.4 472.1L225.0 470.9ZM267.5 440.6L270.1 442.0L266.6 452.2L264.4 451.7L262.9 447.5ZM227.5 93.2L224.5 93.4L224.1 96.6L220.6 93.7L218.5 95.2L221.6 98.7L221.0 101.1L226.1 101.3L225.6 97.0L228.0 96.6ZM208.9 102.8L212.7 104.0L213.7 101.9L215.8 100.0L214.9 97.9L213.0 97.7L209.7 100.6ZM233.6 106.9L230.8 105.5L230.5 107.7L231.4 109.8ZM236.9 121.2L237.9 120.1L237.4 117.4L234.1 117.3L233.4 118.2L230.6 118.1L229.7 121.0L234.6 122.0ZM232.8 126.1L234.4 122.9L230.1 123.6L228.4 121.8L226.8 124.7L224.9 124.5L224.6 127.0L225.3 128.9L227.8 126.5L229.8 126.8L230.3 126.4ZM233.0 148.5L234.7 146.8L232.2 141.9L233.9 140.2L234.1 138.8L236.2 137.4L239.4 133.3L238.6 132.4L237.1 131.7L236.0 128.6L234.5 128.8L233.9 129.5L230.2 130.0L229.9 130.6L226.5 130.2L226.8 134.1L230.1 131.7L231.4 133.5L231.2 134.4L228.1 137.5L228.5 138.2L228.3 141.6L230.8 142.2L231.6 145.3L227.3 144.5L227.1 145.9L232.1 148.4ZM216.1 142.6L216.6 145.1L218.8 145.2L220.6 144.6L219.2 141.9ZM230.0 159.7L234.2 158.8L233.9 157.0L234.9 153.0L233.0 149.0L230.3 152.8L230.1 154.8L227.7 156.4L228.5 158.2ZM219.6 158.8L220.5 157.5L220.6 153.9L225.0 153.9L224.2 151.5L223.6 150.9L220.0 151.9L219.7 152.7L217.4 153.4L217.3 155.1ZM213.4 165.9L215.2 165.1L215.9 163.2L213.6 161.8L211.3 161.9ZM235.1 161.3L232.1 165.4L233.5 167.2L236.6 165.6ZM216.5 178.9L214.5 179.2L215.7 182.0L217.8 183.4L219.8 182.3L220.8 180.2L224.7 180.3L224.6 177.0L225.0 176.7L225.4 174.5L226.5 171.9L227.1 171.9L227.5 169.1L229.7 168.1L230.4 165.2L229.1 164.5L224.5 166.1L224.0 167.8L226.4 171.9L221.1 172.0L220.0 172.8L218.6 177.8ZM217.8 166.4L217.2 169.0L220.9 167.5L221.1 165.2L219.5 164.3ZM228.1 200.1L226.0 202.4L228.3 204.8L229.7 205.2L230.2 202.3ZM230.2 205.8L230.8 208.1L228.8 209.6L229.3 212.7L230.3 213.7L232.0 213.2L233.2 211.9L236.6 213.1L237.5 212.4L241.0 211.8L239.1 208.8L236.7 209.4L234.6 208.6L234.9 207.4L233.6 204.5ZM222.5 209.5L220.1 207.3L219.0 209.0L219.4 213.9L220.8 214.0L221.9 213.4L224.7 213.8L225.8 212.5L224.3 209.6ZM227.7 270.5L232.6 266.0L234.8 267.5L238.8 267.4L239.2 270.4L241.7 274.3L241.4 276.2L243.3 277.3L244.7 280.8L248.5 282.0L247.9 288.0L249.6 288.9L251.7 283.8L251.4 283.2L257.3 281.1L258.5 279.3L259.9 278.3L258.7 276.6L256.9 271.7L258.0 265.2L259.0 263.9L258.8 263.4L257.7 262.4L252.1 259.7L251.0 258.0L249.5 257.8L245.1 254.3L244.6 254.9L244.7 258.2L243.2 260.8L242.0 261.5L238.9 258.7L237.6 259.2L236.3 261.3L232.0 264.4L230.6 263.6L229.4 258.5L230.0 256.4L226.2 255.1L224.7 256.9L224.3 258.8L225.5 260.6L229.8 263.5L223.4 265.7L222.2 266.4L226.1 268.5ZM218.7 442.5L218.1 440.0L215.4 438.1L214.1 437.8L212.8 439.0L211.6 441.5L215.5 446.0L216.0 447.7L219.5 446.2L222.1 443.1ZM231.3 519.3L231.8 517.9L230.6 517.0L217.2 521.4L218.2 523.4L223.9 528.9L225.2 531.1L229.7 532.7L230.1 531.7L233.2 529.6L230.9 526.3ZM259.2 40.5L258.1 44.6L259.8 46.7L265.1 44.1L266.1 49.3L267.2 50.6L268.5 51.4L273.1 45.9L268.1 39.9L266.9 40.3L263.2 34.1L258.4 33.6L251.2 31.7L251.8 35.2L247.3 34.7L247.0 40.5L249.5 41.5L252.3 43.9L256.0 38.6ZM246.0 52.2L246.0 56.5L247.4 57.1L248.4 61.1L251.5 64.0L254.9 57.4L253.7 53.3L253.8 52.7L251.5 49.3L250.4 49.2ZM259.9 99.4L261.2 98.5L260.8 97.1L256.9 94.5L258.3 88.5L255.6 87.6L251.7 91.4L251.8 91.7L255.2 96.5L258.7 99.5ZM249.8 95.8L246.3 97.3L245.6 96.5L242.6 96.5L242.6 94.5L242.3 94.2L238.9 93.7L238.5 92.9L236.7 92.2L235.3 94.6L236.6 97.8L239.5 97.8L240.5 98.5L246.6 100.0L247.6 101.7L248.8 101.5L249.7 100.6L250.6 96.5ZM242.9 105.4L243.8 108.4L245.7 108.8L247.0 107.8L247.3 106.1L246.6 103.1ZM236.8 106.4L235.1 107.6L235.0 108.1L236.6 110.4L239.2 109.8L239.1 108.3ZM258.4 107.1L256.5 108.6L258.4 111.4L259.8 111.6L260.8 108.5ZM256.3 113.8L256.5 113.2L253.3 109.2L252.9 109.3L251.3 110.8L255.1 113.8L253.5 114.9L251.0 112.0L250.9 116.3L253.1 117.3L254.0 118.5L257.9 118.0ZM242.6 121.7L243.8 125.6L245.0 125.2L246.3 121.5L244.6 120.2L242.7 121.0ZM245.0 128.5L242.4 132.0L242.4 132.5L244.6 132.8L247.4 130.5L247.6 129.9ZM246.0 155.4L250.2 155.9L251.2 155.6L251.1 154.3L250.3 153.4L245.9 153.7ZM239.2 156.5L240.8 158.5L243.7 156.8L241.8 154.5ZM245.6 159.3L241.9 161.1L242.0 163.5L245.2 163.2L245.9 163.9L249.1 161.4L246.5 159.5ZM246.3 166.0L245.6 166.9L244.1 167.4L241.5 164.4L239.8 164.9L239.3 165.5L240.4 169.7L242.7 169.3L243.4 168.8L247.0 172.3L248.0 171.5L248.0 169.9L250.3 167.7L248.5 165.7ZM262.9 180.6L262.7 181.4L264.7 184.1L267.0 182.7L265.9 180.9L263.1 180.5L264.2 175.5L267.6 178.3L269.4 178.4L270.0 177.8L274.7 178.2L276.0 177.5L278.7 178.4L280.5 177.2L280.7 176.5L284.6 176.4L284.5 179.2L288.6 180.4L289.3 179.1L288.3 175.7L292.3 172.4L290.0 169.6L289.1 169.0L288.2 169.0L287.1 169.5L285.9 172.4L286.0 173.3L280.5 175.3L278.3 173.3L278.4 172.8L275.3 169.5L275.8 167.1L277.5 165.8L279.1 162.5L273.0 160.7L273.8 155.6L273.1 154.4L273.9 153.7L278.1 152.7L277.2 151.0L279.1 148.9L281.9 149.1L282.4 150.1L285.6 151.3L286.6 150.6L291.6 151.4L292.2 150.8L292.2 146.9L291.7 145.6L287.1 147.8L286.7 147.3L284.4 146.7L281.9 148.8L280.8 144.8L277.8 143.2L276.1 138.6L273.5 139.3L272.6 141.3L270.0 141.6L269.4 137.6L267.1 138.5L265.0 138.0L264.1 138.9L263.4 141.7L263.9 142.7L265.5 143.9L267.3 141.7L269.6 142.1L269.8 144.3L265.6 144.3L265.3 147.0L264.8 147.6L266.7 149.6L269.3 151.4L269.9 153.1L268.1 154.5L267.5 157.7L272.6 160.8L271.8 164.8L269.1 166.0L269.8 169.2L266.7 170.1L265.0 167.4L264.5 167.4L261.9 163.3L264.4 159.3L260.7 158.5L259.4 157.5L258.2 160.6L258.2 161.8L260.7 163.5L259.3 165.9L261.2 169.3L260.7 169.8L257.1 169.6L255.1 171.6L254.0 174.8L260.1 174.7L260.2 179.6ZM271.6 147.9L274.3 147.3L275.2 148.2L275.0 149.3L272.9 150.2ZM243.7 177.6L243.3 179.9L240.3 179.6L239.2 175.8L238.4 176.7L233.1 179.1L234.9 182.5L235.9 183.0L239.5 181.8L241.2 182.6L243.3 182.0L243.7 180.7L247.1 180.2L246.2 177.7L248.3 176.3L246.3 173.3L245.0 173.6L242.3 175.9ZM245.8 186.4L247.1 187.0L252.3 191.6L251.6 192.3L251.0 195.5L249.6 196.1L248.0 198.6L248.0 200.7L243.3 205.1L240.7 201.9L239.3 204.6L236.4 203.6L237.0 206.3L241.3 206.6L242.8 206.1L244.4 208.9L245.5 208.9L247.4 207.4L247.2 205.2L249.4 203.9L249.3 201.9L248.8 201.0L250.7 200.1L253.6 201.6L254.9 200.9L256.1 201.0L257.4 199.5L259.8 199.2L259.3 195.1L258.5 194.2L258.5 191.8L258.0 190.6L261.6 190.1L264.1 188.0L264.1 186.4L262.3 186.0L261.2 184.6L256.7 184.1L257.6 181.1L256.2 177.8L252.9 176.6L248.3 180.8L247.8 180.8L246.9 182.4ZM256.3 189.7L253.2 190.9L250.4 186.1L252.1 184.0L255.9 185.1ZM237.6 197.1L233.8 199.5L234.4 202.3L235.5 202.5L239.0 200.9ZM254.1 213.1L251.4 209.3L250.5 209.2L248.8 213.0L249.8 214.7L253.8 213.6ZM245.9 219.0L241.4 221.6L242.7 223.8L244.1 224.0L246.7 220.0L247.8 220.2L249.6 219.9L250.5 217.1L249.8 215.5L245.6 217.7ZM257.1 222.8L256.0 220.1L254.7 220.0L253.1 221.8ZM256.1 239.5L261.8 240.4L262.4 239.8L257.8 235.5L255.7 236.6L255.9 239.0L251.0 240.7L251.1 242.7L253.8 242.8ZM240.3 245.0L238.7 243.3L235.8 245.4L235.9 246.2L239.4 247.8L240.8 246.4ZM248.0 249.0L245.7 249.5L244.6 251.7L245.5 253.2L247.4 253.1L249.8 251.5L249.7 250.1ZM240.8 414.4L238.0 417.7L236.6 423.0L238.8 426.1L240.1 425.6L244.2 421.8ZM254.5 500.8L252.8 498.1L247.3 502.6L249.8 505.9L250.4 507.8L251.1 507.6ZM273.4 55.2L269.7 54.6L266.8 58.5L273.1 63.0L276.0 63.2L276.1 60.8L281.7 56.3L283.4 55.8L278.8 48.2L274.2 54.6ZM274.4 88.8L277.3 93.0L275.2 94.1L275.9 96.4L275.4 98.8L272.6 99.0L270.4 97.9L269.2 98.5L269.1 101.3L268.3 102.8L263.9 101.8L263.1 104.1L264.0 105.9L263.9 106.5L266.8 108.4L270.0 108.8L273.1 108.2L275.9 108.7L275.9 106.8L276.6 104.9L276.3 102.6L277.0 100.2L279.3 99.5L280.3 99.5L280.9 99.0L279.1 95.1L279.6 93.6L280.6 93.3L281.6 89.5L280.4 87.9L278.7 88.6L274.6 88.2ZM269.4 124.1L268.0 125.6L267.8 126.6L269.9 127.2L269.6 130.1L271.9 130.8L271.7 131.6L268.9 132.7L270.5 136.0L271.9 134.9L273.8 134.8L274.7 133.8L274.2 130.2L275.5 129.4L277.5 129.4L277.8 125.9L278.2 125.5L278.7 122.5L281.0 123.5L283.1 120.5L283.2 119.5L278.7 122.4L277.6 121.5L275.6 121.7L274.1 117.5L272.5 116.9L272.1 114.8L272.4 113.9L269.8 109.8L266.3 112.3L266.7 114.5L264.8 118.8L266.7 120.6L268.9 120.8L269.3 121.3L269.0 122.2ZM279.6 166.9L279.2 170.1L279.5 170.7L281.7 170.2L283.1 167.0L282.7 166.5ZM268.4 197.3L269.6 200.7L273.4 200.2L277.0 197.2L277.7 197.3L277.6 201.3L280.1 204.6L278.4 207.5L278.9 208.4L282.8 209.1L283.3 208.5L286.6 207.3L289.4 209.4L288.3 211.7L289.0 213.4L287.8 216.1L286.1 217.9L285.5 217.9L282.4 215.1L280.9 216.5L280.4 222.4L279.7 223.8L275.3 225.3L275.3 228.8L276.8 229.4L278.0 228.2L281.7 227.8L281.1 231.2L278.6 231.6L277.8 233.1L278.0 235.7L278.7 236.4L280.0 235.9L282.9 232.8L283.7 234.2L283.0 237.0L284.2 239.0L286.6 235.5L288.0 235.3L287.1 231.6L289.8 230.7L290.2 228.6L293.3 228.5L294.1 229.6L297.7 228.1L298.5 228.6L299.5 230.9L301.3 231.9L302.8 229.1L304.4 228.3L304.8 224.7L306.0 224.0L308.0 224.3L307.8 228.5L312.1 228.1L312.5 226.0L314.1 225.1L314.7 220.2L316.7 219.9L318.4 224.5L317.2 225.7L317.6 227.1L320.8 227.7L321.0 224.8L320.1 224.1L320.8 222.2L319.1 219.3L321.2 216.9L318.4 213.0L319.2 210.3L317.6 209.4L316.5 207.6L319.0 204.8L320.9 204.4L320.7 200.8L316.8 201.7L317.7 203.6L314.3 205.9L314.9 207.0L312.1 210.1L309.9 210.9L308.6 214.3L309.5 216.3L305.8 215.7L301.0 222.4L300.3 222.2L296.1 224.6L294.6 224.0L294.1 224.3L290.9 224.2L289.0 222.3L289.0 220.6L291.2 219.4L293.7 219.4L294.7 216.2L298.9 215.5L297.3 220.1L299.4 221.3L300.1 215.8L299.2 215.3L299.2 214.5L300.4 212.8L299.7 208.9L298.8 208.4L297.2 208.9L293.9 208.9L293.4 206.0L290.3 206.8L289.3 204.4L287.5 204.1L286.8 202.3L288.6 200.0L287.9 198.2L285.6 198.3L283.4 193.9L280.8 197.3L278.6 196.9L278.3 192.9L280.2 190.8L275.3 188.4L275.0 187.9L272.8 186.8L270.5 189.2L270.5 191.8L272.4 192.4L272.4 196.4L270.2 196.2ZM258.6 218.0L260.2 220.1L262.6 218.9L265.0 220.1L264.6 222.1L262.0 224.1L262.1 224.7L266.6 225.3L267.2 226.2L267.3 227.7L271.3 226.1L271.7 224.9L269.4 223.9L268.8 222.5L269.2 220.8L273.5 224.0L273.7 222.8L270.5 219.9L269.2 220.2L263.2 214.5L266.5 212.2L266.0 209.1L264.5 207.7L264.0 205.4L268.8 203.5L269.0 201.8L264.2 199.9L263.8 198.5L260.4 199.5L260.4 202.0L261.6 204.3L262.4 204.7L258.3 209.1L258.1 210.1L258.8 211.6L259.5 211.7L262.9 214.6L262.6 215.3ZM275.0 214.0L272.1 213.5L269.4 214.7L269.4 215.0L271.9 217.4L274.8 215.7ZM275.3 256.4L277.5 257.4L278.2 259.5L281.1 261.1L282.5 263.5L282.2 264.8L279.8 265.9L277.1 260.9L276.3 261.1L275.5 264.4L277.5 267.5L274.6 269.9L272.0 270.0L271.7 275.9L272.5 278.1L278.4 276.6L278.7 275.2L282.8 272.2L284.6 273.9L284.8 275.4L284.3 276.2L284.0 279.0L287.7 279.2L290.6 278.4L292.9 282.3L291.7 284.6L288.7 285.2L288.2 285.8L287.9 288.3L285.5 290.8L280.7 290.9L279.3 291.6L278.9 290.2L279.1 285.8L282.0 284.8L282.3 284.5L282.4 282.8L277.8 281.3L274.4 282.6L275.2 285.7L274.1 287.2L272.4 288.6L268.2 286.5L264.3 289.9L263.7 290.8L264.1 293.9L267.9 295.2L271.6 292.9L272.6 289.5L278.7 292.7L278.7 294.7L277.9 296.4L283.7 301.1L288.2 300.1L290.3 303.6L291.6 303.8L292.4 305.4L298.4 306.6L298.0 310.9L292.8 311.1L291.9 309.2L287.7 308.7L285.7 309.1L283.9 312.5L282.4 312.9L282.3 317.8L278.6 318.7L279.1 320.8L282.2 323.5L282.3 324.0L281.0 325.3L281.8 328.6L278.5 329.9L276.1 326.8L275.7 331.9L278.0 334.6L279.4 337.6L278.9 340.7L283.0 343.3L284.7 345.6L287.9 345.6L289.1 348.4L288.7 350.7L290.0 352.5L289.6 354.1L290.5 356.2L287.4 360.5L287.0 363.6L288.2 364.7L287.6 371.6L280.8 367.4L280.4 367.6L280.4 373.9L285.4 376.1L288.2 372.9L292.8 374.2L296.8 368.0L298.8 368.4L298.2 375.9L301.0 375.0L301.7 374.0L299.4 368.4L308.0 367.8L308.9 365.4L308.5 364.3L309.5 360.6L310.0 360.5L311.8 354.7L309.0 345.8L308.5 345.1L308.4 342.5L307.3 340.7L301.4 339.6L302.1 334.3L301.4 331.8L298.2 329.2L296.5 332.0L294.2 332.2L293.1 326.7L287.8 323.6L288.4 320.9L292.3 318.2L294.7 319.2L298.5 318.2L300.8 312.5L301.4 313.5L301.8 317.7L300.9 318.7L302.6 322.4L307.1 322.2L309.8 320.4L308.8 315.7L307.0 313.4L308.6 310.6L313.3 308.6L314.5 310.9L319.3 311.2L318.4 307.6L320.3 305.8L320.7 305.8L322.4 307.6L323.1 310.0L319.7 311.6L321.3 316.9L320.0 319.0L323.3 322.1L322.1 325.1L324.4 330.1L325.5 329.9L326.5 328.8L326.2 322.4L327.6 322.0L331.1 326.6L327.1 328.6L332.8 331.2L329.2 334.3L329.2 335.1L332.5 337.9L328.5 340.7L325.8 337.7L325.0 337.8L324.7 339.5L325.7 342.7L326.4 343.3L328.5 342.1L330.7 343.2L329.1 346.5L329.6 347.8L328.9 349.9L332.5 352.4L333.3 356.1L328.7 357.6L326.7 353.9L326.8 350.7L323.5 349.3L320.9 350.8L319.5 354.2L315.2 356.3L315.2 358.5L318.9 361.7L317.1 365.4L319.2 365.8L322.0 370.2L320.0 371.8L319.3 373.6L320.1 374.3L327.4 377.0L327.5 382.4L325.2 383.2L323.8 382.3L320.6 379.0L317.8 379.6L313.6 382.1L309.7 376.8L307.4 380.1L303.5 378.3L300.7 380.6L301.7 384.6L295.4 389.5L292.2 387.2L289.9 386.9L286.9 390.0L274.0 388.3L271.0 393.8L271.0 395.1L276.6 400.0L275.4 405.9L276.4 407.3L281.5 407.0L285.6 413.1L287.0 413.8L290.2 410.6L294.7 416.1L295.4 420.2L300.9 419.8L301.2 417.9L300.4 410.9L301.8 409.0L301.3 406.9L294.0 402.7L300.1 397.6L303.4 401.6L307.1 401.5L311.5 407.5L311.2 407.9L304.6 409.2L306.4 414.3L308.1 414.2L311.4 410.0L313.9 414.6L314.5 414.9L322.5 412.0L322.2 408.5L321.0 406.5L319.4 405.4L317.0 404.8L313.2 398.3L308.3 399.3L306.7 393.6L305.8 392.8L307.2 389.2L310.5 387.0L314.0 391.3L317.0 391.8L318.4 393.7L319.3 394.2L321.0 394.3L323.3 389.9L329.1 392.2L322.4 395.3L323.1 396.7L326.4 397.7L325.6 400.9L326.0 402.4L328.1 402.1L329.2 407.5L331.4 407.9L331.5 414.9L330.1 418.0L333.1 419.9L334.4 421.8L336.0 426.9L331.1 430.8L323.0 430.4L322.7 430.1L312.4 433.8L309.9 430.1L311.0 426.7L321.8 428.0L317.9 422.4L315.7 421.5L310.0 422.9L308.5 421.7L302.7 421.4L302.4 423.8L303.1 431.2L296.8 428.2L292.5 428.6L291.8 427.8L291.5 422.1L287.7 420.0L287.0 420.2L279.2 419.9L281.3 427.4L279.5 428.5L280.6 430.9L282.2 432.9L280.6 434.9L283.7 439.7L283.1 442.5L288.7 442.3L290.8 446.1L294.1 446.0L295.7 441.1L299.0 441.2L300.9 443.9L301.2 445.0L305.5 445.5L308.0 450.2L308.0 450.9L311.3 451.6L312.0 452.8L311.7 456.4L306.4 456.7L308.2 461.9L311.3 462.9L315.4 462.3L317.3 458.0L321.8 454.4L326.2 455.5L332.0 453.3L333.9 457.6L335.6 459.2L336.7 462.0L342.4 461.4L349.0 458.2L349.9 460.1L348.8 463.0L351.3 466.5L349.1 469.7L349.3 472.4L354.0 475.5L357.5 473.4L357.4 466.5L360.4 466.4L365.9 467.2L366.2 469.5L364.5 474.7L365.0 474.9L375.5 473.0L378.9 477.8L381.1 476.8L383.5 469.9L387.5 471.0L390.6 466.2L389.9 464.1L380.9 465.8L378.8 465.0L382.3 460.3L383.8 459.4L390.1 463.4L390.5 462.8L385.8 453.9L385.7 453.0L387.3 450.8L389.2 449.8L388.4 444.9L391.6 440.3L387.3 432.9L379.8 432.4L377.0 427.8L378.3 425.1L376.0 418.8L377.8 416.0L380.4 415.3L380.8 412.2L378.6 405.6L380.2 403.7L379.3 401.9L381.1 393.9L388.9 389.6L390.0 390.3L391.0 390.0L398.1 390.8L403.0 393.8L404.5 393.6L407.4 392.1L407.0 390.2L410.3 380.9L416.4 389.4L413.3 391.8L415.1 396.7L421.0 396.1L421.9 396.8L425.6 390.7L417.1 389.4L420.6 385.0L430.4 391.5L436.2 386.6L437.5 382.9L438.0 382.5L443.3 388.8L448.2 385.2L448.6 386.2L447.3 391.0L451.4 392.5L448.8 398.7L448.8 399.8L452.7 398.3L455.5 398.2L458.3 401.8L459.1 401.6L464.5 405.9L465.1 405.9L466.5 400.4L464.9 395.5L463.4 393.7L462.0 387.3L457.7 386.6L456.0 382.6L451.0 380.3L449.7 376.2L448.3 374.8L446.5 369.9L444.4 369.2L443.7 368.5L443.9 362.9L440.8 363.8L438.9 367.5L439.2 368.1L437.3 374.3L432.0 372.0L429.8 371.9L426.7 374.2L426.7 375.0L424.0 378.4L420.3 378.8L417.9 375.5L412.9 375.5L412.6 371.1L416.3 368.8L419.0 369.7L420.1 371.6L422.0 373.3L426.1 373.8L424.4 366.7L422.5 365.5L422.5 363.3L419.8 361.0L421.4 355.5L421.0 355.2L413.7 357.0L413.8 357.4L418.7 361.4L416.9 363.7L414.1 363.4L410.1 364.7L409.8 369.0L405.9 368.9L403.1 371.4L401.7 371.3L397.1 374.0L394.7 370.3L393.8 369.8L389.3 372.7L385.6 371.4L385.3 370.4L381.8 368.7L380.9 368.7L377.8 371.2L377.2 373.6L375.6 374.6L371.1 375.2L372.3 378.2L371.6 383.3L370.8 384.7L371.7 386.0L370.7 390.0L365.3 391.6L363.5 390.0L361.5 389.4L359.1 391.0L362.6 400.8L359.5 402.1L358.3 409.2L353.6 409.2L352.5 406.0L351.1 404.2L351.2 403.1L353.1 399.3L344.1 397.6L342.4 402.1L334.7 402.6L329.9 401.0L328.6 397.5L329.9 394.4L329.4 392.2L331.3 389.1L332.0 385.1L340.0 382.9L342.8 380.4L344.1 377.5L352.9 374.7L354.9 375.6L362.1 368.9L362.2 367.2L357.7 365.4L355.0 361.5L353.2 361.3L351.9 359.2L353.7 354.2L356.9 353.7L358.8 351.9L364.7 352.9L364.2 347.2L360.1 345.5L359.5 345.9L356.5 345.0L354.7 349.8L350.6 347.7L349.5 350.2L350.1 352.9L348.1 355.0L347.6 355.1L343.6 359.4L341.0 357.5L341.9 353.1L343.1 352.6L344.7 350.0L340.5 346.6L343.2 344.4L345.6 345.1L349.1 344.3L349.5 341.4L351.9 339.1L355.2 340.8L358.7 339.2L359.6 337.1L363.5 333.9L368.1 335.5L369.7 340.9L364.1 339.2L363.8 341.7L369.6 341.8L369.7 344.4L368.9 345.8L369.7 347.9L366.5 353.5L368.6 358.1L373.1 356.9L377.8 359.8L380.7 355.0L378.6 352.8L380.1 349.5L386.1 349.6L387.3 351.8L383.5 354.6L384.5 360.3L388.4 361.1L389.9 355.0L388.8 352.5L397.0 350.5L397.9 349.3L402.8 349.7L403.4 350.2L404.1 354.6L403.2 355.5L400.8 356.6L400.5 360.6L403.9 363.1L405.8 361.6L407.4 361.2L408.6 356.6L412.4 355.0L412.6 353.0L420.0 353.6L419.0 351.6L417.2 350.4L412.6 351.6L412.5 350.0L408.1 347.3L407.8 345.0L411.6 343.5L410.5 340.4L407.6 338.8L401.8 339.7L403.6 333.5L399.7 332.4L399.2 328.5L399.5 327.8L406.4 330.8L408.8 330.1L409.8 329.2L410.1 327.8L404.8 321.0L404.1 320.8L403.4 317.8L403.9 316.3L406.6 314.6L407.7 315.2L407.6 318.3L405.3 320.8L409.6 320.4L411.8 318.6L413.3 318.0L413.4 317.7L410.7 315.5L410.7 311.3L414.2 310.0L415.1 310.7L415.4 316.2L420.0 316.7L421.1 316.0L423.2 316.0L426.9 319.8L429.6 318.8L429.5 316.6L431.0 312.8L431.4 312.6L431.5 311.7L429.3 307.4L429.4 305.3L434.9 307.4L436.5 310.2L440.0 308.5L439.3 306.8L439.8 304.8L437.2 303.8L437.3 301.6L440.3 300.2L440.9 300.4L439.9 304.8L443.4 305.4L442.4 301.0L441.8 300.4L443.9 297.5L442.6 295.2L439.3 294.8L437.6 295.0L438.1 290.7L440.3 289.3L442.3 289.8L445.3 289.6L446.0 290.1L448.1 290.2L449.8 291.9L448.4 295.4L450.1 298.3L449.7 302.1L450.8 303.5L450.2 306.0L453.0 308.2L453.7 311.8L452.5 313.2L450.6 319.3L450.9 320.2L447.9 322.1L446.1 317.1L445.3 316.2L441.7 320.3L440.2 320.6L438.3 323.3L439.4 326.5L444.4 328.1L448.5 327.6L449.8 329.6L456.5 330.7L456.7 331.5L456.0 333.4L457.2 338.1L459.8 339.3L461.3 342.6L460.1 346.7L464.5 350.2L466.7 353.2L465.0 355.0L464.4 358.0L463.2 359.5L463.5 359.9L467.1 362.1L469.7 361.3L466.7 358.1L469.5 356.5L472.5 359.2L476.2 355.8L478.5 356.4L483.1 359.4L483.3 360.0L488.7 360.1L489.9 361.5L489.9 362.5L489.2 363.9L488.5 364.4L482.6 364.0L482.4 369.8L478.9 370.7L476.6 368.2L475.3 368.6L473.5 370.2L469.5 370.8L468.0 368.9L466.1 368.5L464.7 369.5L463.0 372.5L463.1 376.2L462.2 377.2L465.4 385.2L471.4 385.0L472.7 386.9L479.4 384.9L481.2 378.5L484.0 378.6L486.8 376.2L485.9 371.5L487.1 370.2L494.9 370.1L497.6 366.8L503.0 369.0L504.1 368.8L502.6 363.9L499.5 361.6L497.6 366.0L492.2 362.9L498.1 360.4L496.3 358.5L495.3 353.6L492.9 353.2L487.2 355.8L485.6 354.6L485.6 353.7L483.6 350.5L483.7 347.5L480.4 347.9L479.4 347.4L478.5 343.1L477.9 342.5L480.6 338.9L479.2 336.8L478.0 336.9L475.9 340.7L473.3 339.9L472.7 339.2L472.4 338.0L474.2 335.3L474.4 331.0L470.7 329.8L471.5 324.4L472.9 323.0L472.8 322.3L469.6 318.4L471.8 312.8L468.9 310.7L466.3 311.8L462.2 311.2L459.8 308.4L460.1 306.2L460.5 305.7L460.0 302.6L460.8 296.8L461.2 296.3L462.3 290.7L468.5 291.3L469.1 292.8L470.3 293.2L474.8 290.0L474.2 289.1L474.9 285.1L473.7 283.8L469.6 287.3L468.8 287.5L467.2 286.0L462.7 285.4L461.4 287.0L456.9 287.5L455.5 285.7L455.6 283.1L456.8 281.2L458.5 280.5L459.6 280.8L462.2 283.1L464.9 279.6L467.4 279.1L470.4 277.7L471.5 278.7L473.2 279.5L477.0 278.4L477.7 273.5L478.9 272.4L482.4 275.1L486.7 268.7L483.7 268.4L479.2 271.6L477.0 269.0L478.6 265.7L475.9 264.3L473.6 266.0L472.5 265.9L469.2 269.2L466.7 268.7L464.5 270.3L462.3 269.5L461.0 264.4L456.6 265.2L458.1 270.2L457.6 271.2L461.3 275.2L457.9 276.5L455.8 273.5L455.6 272.4L451.5 271.6L449.8 268.2L445.1 271.2L442.5 270.5L441.0 272.0L436.4 267.0L435.3 267.0L434.3 269.2L429.2 267.0L428.6 263.4L428.1 263.4L423.2 265.4L423.5 268.1L425.4 268.4L426.6 269.6L426.8 272.4L430.0 273.4L431.0 273.4L434.0 271.4L436.8 274.3L435.4 276.7L435.7 279.9L432.2 282.5L433.1 284.4L431.4 286.6L429.4 287.3L425.1 284.6L425.7 283.5L424.5 280.9L421.2 278.0L418.7 277.7L416.6 274.7L411.0 273.5L409.6 270.1L412.5 267.7L417.2 268.8L418.1 263.5L421.4 262.0L423.3 260.2L422.5 258.2L420.0 256.2L418.5 256.4L416.6 254.8L416.6 253.5L415.3 251.5L414.0 251.3L409.9 254.5L408.4 254.9L403.3 250.1L407.0 247.6L409.2 248.6L410.3 248.5L411.8 244.1L411.5 243.0L409.0 241.5L405.8 242.1L406.2 238.7L407.0 238.1L408.6 237.7L410.4 232.6L409.4 230.7L407.6 229.4L406.6 228.0L403.4 226.8L402.5 228.9L398.6 228.7L399.5 231.8L399.1 233.1L400.3 234.4L398.1 237.5L398.7 238.9L396.8 240.6L393.6 239.3L391.9 240.5L389.9 239.9L387.5 241.3L386.7 243.9L390.7 244.6L392.7 243.5L392.9 243.7L390.4 248.8L390.9 249.9L393.7 251.2L395.3 246.2L398.5 246.3L398.7 245.4L402.6 244.9L403.2 246.0L402.9 250.0L401.4 250.4L400.6 251.4L399.0 255.8L401.8 256.9L402.7 256.0L406.5 257.9L405.1 262.6L405.7 263.3L405.0 269.0L402.7 270.6L401.5 270.4L400.1 268.3L400.1 262.6L396.6 262.6L394.1 259.8L391.6 260.8L390.9 260.6L388.8 255.9L386.2 257.9L384.5 255.9L380.5 254.4L379.7 255.6L380.0 259.0L382.2 262.1L378.9 264.0L379.8 266.7L381.0 267.3L380.9 273.0L378.4 274.3L378.1 277.2L382.7 280.0L383.6 279.8L385.6 278.3L387.0 278.1L387.0 285.2L390.3 285.8L389.0 277.7L388.4 277.7L386.8 272.3L390.9 268.4L392.8 269.0L396.2 272.8L395.8 276.3L397.1 277.7L397.1 285.2L399.5 286.2L402.9 288.9L401.2 290.6L398.3 296.9L398.1 298.8L398.8 299.1L404.7 298.9L406.5 291.5L405.2 289.3L406.5 286.8L407.1 280.8L408.0 279.6L411.0 279.1L414.2 281.8L416.4 281.9L418.2 279.8L422.3 284.6L417.6 286.1L417.6 288.7L416.5 290.3L416.2 292.4L411.9 293.6L412.3 297.5L411.1 300.7L409.0 301.3L409.2 306.3L407.9 307.3L407.6 310.1L406.4 311.2L402.7 310.5L400.7 308.5L399.5 308.2L398.6 306.0L396.5 303.6L394.5 304.0L392.1 301.1L391.6 299.8L392.8 292.7L391.8 289.0L387.7 290.6L385.4 290.2L384.2 291.5L380.1 291.4L379.8 291.7L381.4 298.1L382.2 298.1L383.8 301.2L385.0 306.5L378.3 302.9L379.9 298.7L379.1 298.4L374.0 298.1L372.8 299.1L369.8 297.1L366.8 297.4L365.3 292.7L360.0 292.8L358.4 291.6L353.8 295.2L350.2 293.3L348.3 294.0L347.1 297.8L349.9 300.7L346.0 304.1L344.5 304.2L342.6 298.2L341.1 297.9L340.7 298.2L337.6 303.1L333.9 299.3L329.7 300.3L328.0 297.5L332.9 294.7L332.9 294.2L329.6 291.2L328.4 291.6L327.4 291.3L324.0 287.9L330.7 288.6L331.1 288.2L328.4 285.9L331.4 282.2L329.7 281.2L328.6 279.4L323.8 279.8L322.7 286.8L322.7 289.1L319.9 295.1L316.5 294.4L315.2 293.2L312.1 295.8L312.1 298.5L309.7 299.9L309.5 300.7L307.4 302.8L307.2 303.7L305.9 304.9L303.6 305.1L300.4 303.8L299.7 301.9L299.1 301.2L298.3 297.4L297.8 296.7L296.4 296.4L293.5 297.0L293.0 297.6L292.7 300.1L288.6 298.8L288.6 297.3L287.7 295.5L289.9 293.9L288.4 288.7L292.2 290.4L293.5 286.3L297.4 287.4L300.2 285.4L295.3 281.3L296.5 277.9L298.3 276.5L298.6 271.0L299.6 270.8L300.2 269.9L305.2 269.8L306.8 271.4L309.7 271.2L312.0 270.6L314.6 271.1L316.6 271.1L318.9 270.2L320.0 267.6L316.4 264.7L317.4 262.2L320.7 261.4L319.7 258.0L320.5 257.7L324.8 259.9L325.4 256.3L328.6 258.1L330.2 256.5L328.8 254.7L325.3 255.8L324.4 254.9L323.4 254.9L320.2 252.8L320.9 250.4L318.5 247.1L318.1 247.1L315.7 250.2L316.6 252.1L318.6 252.8L317.3 256.5L314.8 254.6L312.5 255.2L311.9 253.6L310.0 252.3L308.6 252.1L307.9 251.1L308.9 249.0L306.5 246.3L308.2 243.6L306.9 241.7L305.6 241.3L306.1 239.0L303.7 237.5L302.1 240.5L305.6 241.3L304.3 245.4L302.3 244.1L301.6 240.7L299.8 240.2L298.3 244.1L298.9 244.9L299.2 247.1L298.3 248.9L299.5 250.9L302.7 249.1L303.9 250.2L301.6 252.7L299.6 251.8L298.9 252.5L299.6 255.6L300.4 257.0L298.7 259.1L303.4 262.6L300.3 265.1L299.8 264.9L297.0 261.6L296.6 261.9L294.8 265.1L295.2 266.4L294.8 268.7L296.0 270.3L293.4 273.9L289.4 272.7L289.2 268.6L288.1 267.5L288.8 265.1L291.8 263.3L292.1 261.4L288.7 259.4L286.9 253.2L287.3 251.9L290.1 248.1L287.4 246.7L286.9 245.9L285.1 246.8L284.4 249.4L281.9 249.8L280.2 248.6L279.7 249.0L278.4 252.5L276.3 252.4L275.7 251.9L272.8 251.5L271.9 252.3L272.0 255.0L274.9 255.7ZM349.4 366.4L355.6 366.5L352.3 372.3L349.3 367.4ZM345.3 329.1L346.0 322.6L350.2 325.5L351.7 327.6L349.6 330.3ZM294.1 339.5L292.4 343.0L289.0 344.0L287.4 342.2L283.3 343.0L287.0 336.5L288.7 335.4ZM309.4 262.2L308.1 265.8L305.5 265.3L303.4 262.6L304.8 261.2ZM298.0 354.2L301.3 355.5L303.5 352.3L305.4 353.2L306.4 356.2L304.5 358.9L298.9 360.2ZM321.4 358.1L325.9 359.9L323.7 362.1L327.1 365.8L326.4 366.2L324.5 370.0L322.2 370.1L322.3 362.7L320.4 361.4ZM339.7 447.3L337.3 452.0L332.3 452.9L331.1 445.7L326.5 439.8L333.2 437.2L336.5 439.4L335.8 442.7ZM322.7 438.4L322.9 438.6L322.0 444.6L317.9 446.1L317.0 444.8L317.1 443.7L320.2 439.3ZM336.6 324.4L335.8 318.7L334.0 317.6L334.5 315.8L338.2 315.2L338.9 316.7L340.5 317.5L338.5 323.9ZM456.9 319.7L454.5 317.2L452.8 313.6L459.9 316.8L459.4 319.1L460.6 320.0L461.1 322.7L463.1 325.9L457.7 328.2L456.1 324.4L454.9 323.0ZM381.3 340.9L378.0 341.8L375.6 341.4L374.1 339.6L374.5 337.7L377.1 334.6L376.3 333.1L372.7 332.2L369.3 326.3L368.3 325.2L367.0 320.7L362.9 320.4L361.0 321.7L356.9 320.5L356.3 321.3L352.2 320.4L351.9 319.7L352.3 315.0L356.7 317.7L359.2 316.7L360.2 312.6L360.1 312.0L356.9 310.8L351.7 313.9L350.6 313.5L352.2 306.2L351.4 304.0L351.6 301.4L353.7 300.9L356.4 302.5L361.1 298.8L363.0 303.0L366.8 301.0L370.1 303.4L364.1 307.7L364.4 309.3L367.1 311.1L370.5 311.9L373.5 309.3L377.5 310.2L378.2 309.6L383.9 308.1L385.0 306.5L386.7 306.2L388.2 307.2L391.1 314.5L394.1 317.9L397.5 316.7L401.2 322.7L398.8 324.7L393.8 323.6L392.4 329.2L395.1 331.1L396.2 333.0L395.7 336.1L388.1 338.8L387.9 339.3L382.7 342.3ZM417.2 262.2L418.1 263.5L412.4 263.4L412.5 261.3ZM401.4 239.9L403.5 240.5L405.4 242.8L403.1 243.6L401.1 241.4ZM415.5 310.6L420.8 306.4L422.6 307.2L422.7 308.9L423.5 310.4L420.5 312.2ZM440.4 284.2L438.6 280.2L440.6 277.4L443.9 280.5L444.1 281.4L450.4 281.0L450.1 285.2L449.6 285.9L443.9 282.2L442.6 283.9ZM469.9 373.1L475.5 375.9L476.7 376.9L471.9 382.7L467.4 376.5ZM359.7 436.6L357.7 436.0L357.4 432.1L361.9 432.6L363.3 430.8L367.0 432.3L366.8 436.5L364.4 438.3L367.1 443.4L367.9 443.3L370.2 444.7L374.4 439.9L376.0 441.0L379.6 440.2L382.1 441.1L381.6 443.1L375.3 448.8L372.1 448.3L369.7 449.8L365.4 448.6L365.0 444.9L360.0 443.1L361.2 438.8ZM406.5 378.4L408.5 379.6L401.8 385.7L399.8 385.8L396.8 379.3ZM258.3 254.4L260.7 258.7L262.2 257.6L262.4 255.1L258.5 253.5ZM269.4 362.6L272.9 365.0L270.9 370.8L273.5 371.1L279.6 367.6L274.6 363.9L274.7 363.1L271.6 360.2ZM280.9 367.1L282.8 364.7L281.6 360.2L277.5 360.7ZM264.8 364.6L260.5 365.8L261.9 368.8L262.6 369.0L266.2 368.6L269.2 370.2L268.3 362.7L266.2 361.8ZM297.5 57.0L292.6 58.0L296.4 62.3L298.3 59.5ZM286.8 75.6L293.9 75.5L291.1 69.3L286.1 75.4ZM301.2 84.4L306.4 85.2L305.0 82.7L302.6 81.3L300.8 83.7ZM309.6 102.7L305.8 100.9L305.2 104.4L307.5 105.5ZM302.0 105.4L296.5 106.0L297.5 109.4L299.0 110.0L301.7 108.1ZM293.6 119.3L296.6 120.9L297.6 119.4L297.8 118.4L294.1 116.9ZM298.4 129.4L300.4 130.4L301.2 132.3L301.8 132.5L304.6 131.1L305.4 131.0L307.9 133.7L308.9 132.8L309.8 129.2L312.7 128.3L313.0 126.6L314.1 125.8L312.5 121.9L312.8 119.6L310.4 118.7L307.5 123.0L304.3 118.7L303.9 118.7L301.9 122.1L299.3 124.6L299.6 125.7L298.1 127.8ZM302.6 135.5L299.3 136.2L300.4 139.2L301.7 139.4L302.3 140.7L306.0 140.6L306.6 141.5L306.6 142.2L305.3 144.7L301.8 142.7L300.0 144.0L302.6 147.3L302.1 148.8L302.9 149.9L304.6 150.3L306.4 148.1L310.3 149.0L310.5 148.2L308.9 145.6L309.7 143.6L311.0 142.6L310.8 140.7L308.3 137.2L308.5 135.6L307.9 134.6L303.2 136.3ZM296.4 151.1L299.7 150.8L300.9 148.9L297.9 147.6ZM308.9 188.6L308.5 186.5L307.5 185.2L304.7 187.2L302.7 186.5L301.4 187.6L300.7 191.5L302.0 191.9L305.5 189.3ZM297.8 203.5L300.0 201.3L297.1 198.8L295.2 202.1L296.4 203.9ZM307.1 209.7L305.0 207.7L305.9 204.3L308.0 203.8L308.7 204.9L310.5 206.0L313.3 204.7L313.3 203.8L316.7 201.7L315.5 198.0L313.3 198.8L311.8 198.4L309.6 199.9L308.8 201.6L304.6 199.8L302.8 200.3L302.3 201.0L302.8 202.4L302.0 205.7L303.4 207.8L302.4 209.1L302.5 211.1L305.2 212.5ZM309.3 279.8L307.0 282.6L307.8 285.6L310.7 287.4L310.1 290.1L315.1 292.8L316.8 289.5L313.0 286.1L315.0 284.1L320.7 286.1L318.4 279.7L319.4 277.7L317.4 276.6L314.3 276.3L311.4 278.1L310.6 278.2L310.1 276.9L303.8 274.6L303.0 277.0L303.4 278.1ZM300.5 448.5L295.6 449.2L292.0 454.4L298.5 454.8L303.1 452.6ZM317.7 481.9L322.5 480.1L322.8 479.7L322.8 478.1L321.0 472.1L317.6 473.4L311.7 471.2L309.5 471.4L308.3 470.6L305.8 470.5L303.9 464.5L299.1 465.9L298.3 467.0L297.5 469.7L299.2 472.0L298.1 478.1L298.1 480.0L302.5 480.1L305.8 482.9L314.1 484.1ZM327.0 57.4L329.2 57.8L332.3 57.7L332.6 57.4L332.5 56.1L331.3 53.0L333.1 50.9L333.2 47.2L330.6 46.9L327.5 48.0L327.6 51.1L326.9 52.0L324.0 53.0L323.2 52.4L323.5 47.7L321.1 48.1L320.4 48.8L319.3 51.3L320.7 52.3L320.5 56.1L320.9 56.6L321.3 59.7L322.5 60.6L323.7 62.6L326.2 60.9ZM327.0 69.2L326.9 68.2L324.5 65.7L322.1 69.3L325.3 71.4ZM326.3 87.0L323.1 87.9L321.7 86.1L318.4 88.7L318.3 89.1L320.5 90.7L323.1 89.5L325.4 92.1L326.3 95.2L326.0 95.7L322.9 96.5L320.9 95.2L319.9 98.8L322.2 100.0L325.3 100.0L326.4 99.4L328.9 100.4L331.4 97.0L330.6 96.3L330.3 92.3L330.8 90.5L332.9 91.0L335.1 89.8L335.7 89.9L337.8 88.1L340.3 89.5L341.4 87.3L343.4 87.9L344.5 90.0L346.5 88.7L346.1 85.2L347.6 85.0L349.4 85.3L350.3 80.7L347.4 80.9L345.2 81.6L344.4 83.9L340.9 83.9L340.3 82.9L340.7 79.4L339.6 77.6L337.7 77.8L335.1 77.4L331.3 79.6L329.5 78.3L328.5 75.2L326.8 74.1L325.8 76.0L323.1 78.8L321.6 79.8L320.9 82.0L321.8 84.5L326.9 83.1ZM313.7 104.9L309.3 110.2L309.4 110.7L308.2 113.4L308.2 116.7L309.7 117.5L312.5 114.1L315.2 116.0L315.5 117.7L320.2 115.3L320.0 114.0L317.9 112.2L318.6 109.9L314.8 108.0L314.0 105.0L315.4 104.8L319.6 106.4L321.8 104.3L321.3 102.7L318.0 101.5L317.0 98.9L314.0 99.6L313.2 103.8ZM329.8 116.5L329.1 118.0L331.6 120.0L331.1 121.5L329.0 123.4L329.7 126.4L330.6 127.6L333.1 125.8L334.9 125.5L336.2 124.1L336.2 121.6L332.3 119.9L335.1 115.2L334.7 114.6L335.8 111.5L335.3 111.0L333.6 107.0L332.1 110.7L331.4 111.5L329.0 109.1L327.9 109.0L326.9 108.1L323.4 110.2L324.1 115.6L326.5 115.5L326.9 112.9L327.3 112.7L329.3 113.2ZM315.1 118.9L315.0 125.0L319.8 122.8L319.2 121.1L315.4 118.8ZM312.9 139.3L314.2 139.2L316.5 142.8L318.5 141.9L317.7 138.3L318.7 137.2L318.6 135.7L319.5 135.1L319.0 131.7L321.3 130.7L318.5 127.7L317.9 128.0L317.2 130.2L317.4 131.1L315.4 133.1L314.2 132.9L313.2 133.6L312.5 135.2L310.4 136.0ZM308.2 154.2L307.5 156.7L308.3 158.1L311.4 155.2L312.8 156.0L315.3 155.9L312.6 150.6L310.5 149.6L309.6 150.8L308.8 153.7ZM328.2 168.5L328.8 171.4L331.1 170.9L332.8 168.1L332.1 167.4L330.1 167.0L327.3 162.4L330.3 156.0L328.2 155.1L328.6 152.9L325.3 152.3L324.6 153.2L324.5 155.8L322.6 156.5L324.2 162.3L326.4 162.9L325.8 165.0L326.4 167.0ZM311.4 165.5L311.3 166.4L314.0 167.9L316.0 167.7L315.6 165.2L316.5 163.6L315.1 161.2L313.3 162.3L315.5 165.2ZM318.0 170.7L316.0 171.0L313.3 175.2L313.8 176.3L307.9 176.9L308.8 180.1L310.7 180.3L312.3 183.0L314.3 181.9L312.6 179.3L314.2 176.7L315.4 176.8L318.1 170.8L319.6 172.2L323.9 174.4L324.4 170.8L323.7 170.4L321.7 167.9L320.2 167.7L318.2 169.8ZM327.1 177.2L326.1 181.7L327.1 181.7L330.0 179.7L327.4 177.3L329.9 176.5L329.5 173.7L328.5 172.6L325.8 175.7ZM318.4 181.8L319.6 185.8L322.4 185.5L323.6 182.1ZM315.8 191.0L316.6 189.9L316.3 187.5L315.0 186.0L312.8 186.5L312.5 187.2ZM331.1 194.3L334.3 196.6L334.1 199.1L331.7 199.9L332.8 202.6L329.9 203.8L329.6 205.9L330.4 206.8L331.4 209.3L331.2 209.8L333.9 213.5L335.8 212.6L335.2 210.1L336.0 209.3L337.5 209.0L339.3 209.9L341.0 210.1L344.6 209.4L347.0 210.2L347.9 208.3L349.4 208.2L353.4 205.8L351.2 203.1L351.7 201.2L351.1 199.4L347.4 198.1L346.0 197.1L343.0 202.0L339.4 201.8L339.2 200.8L341.3 195.8L340.9 193.8L342.6 190.9L341.5 189.8L338.6 190.4L336.8 190.1L336.0 193.0L332.5 192.8L333.3 188.5L332.9 188.4L328.6 189.2L327.7 191.4L323.8 191.2L322.6 189.7L321.0 189.6L320.3 190.8L320.0 194.0L322.6 196.0L322.0 197.5L324.9 199.8L327.3 199.5L328.4 196.9L328.4 195.9L329.6 194.4ZM343.1 202.1L348.3 202.0L350.5 203.2L347.8 205.1L343.5 202.7ZM323.3 205.3L323.7 206.8L325.7 208.7L327.8 206.2L327.0 205.3L324.3 204.4ZM313.5 239.1L317.1 241.0L316.9 236.1ZM315.8 331.0L314.5 335.9L318.3 340.0L322.0 336.1L320.4 325.7L316.2 325.7ZM319.1 373.6L312.1 370.8L311.0 371.2L309.8 374.6L310.1 375.6L314.8 377.2ZM331.6 464.0L325.6 462.1L321.2 467.1L330.3 468.2L331.7 464.7ZM321.1 492.6L323.8 493.1L321.9 491.9ZM338.5 492.3L340.5 488.2L342.2 488.3L344.9 492.3L353.6 490.2L356.5 490.9L352.7 481.8L344.1 476.6L344.1 480.1L342.0 481.1L339.8 479.7L336.8 482.7L334.1 480.5L329.8 482.3L329.5 482.6L329.4 486.7L330.3 488.7L329.9 492.4L326.6 493.7L329.2 494.2L336.6 493.3ZM346.1 60.3L347.6 59.0L350.7 59.8L351.1 58.0L351.9 56.5L351.6 55.8L349.5 54.7L349.5 52.8L352.0 50.4L351.7 48.8L351.4 48.5L347.0 48.9L345.9 47.7L343.0 49.1L340.5 48.7L339.4 49.9L340.1 52.1L338.8 55.6L340.4 57.0L341.1 60.3L344.5 59.7ZM343.3 71.7L345.5 71.7L347.4 69.4L346.7 65.7L342.5 66.1ZM336.7 118.2L336.4 121.4L340.0 120.6L341.4 121.4L343.6 120.7L344.5 117.3L343.8 116.0L344.3 114.6L346.5 112.9L347.3 108.1L347.9 108.1L351.9 104.3L350.9 101.8L347.2 100.1L345.5 100.7L343.8 103.5L344.0 105.1L340.1 108.0L341.1 111.4L339.4 112.9L339.0 114.8L335.5 115.3ZM340.4 132.3L338.0 132.4L336.8 131.8L333.5 133.4L332.8 136.5L335.7 139.7L339.0 139.2L338.3 137.3L340.6 134.9ZM344.7 137.9L342.3 140.7L341.5 145.3L343.0 146.9L343.5 146.9L346.4 144.1L349.7 145.9L348.3 148.6L350.7 150.0L350.3 153.7L353.5 154.6L353.6 152.1L352.4 150.0L353.2 148.0L354.6 147.5L355.2 146.7L354.6 145.0L355.0 140.9L351.1 140.7L346.9 141.7L346.0 137.6ZM339.5 169.1L340.2 169.7L343.8 166.0L346.3 168.1L347.6 171.6L346.9 173.4L344.8 174.6L343.0 173.9L342.3 171.2L340.2 169.7L338.2 173.4L337.9 175.1L338.3 177.0L340.9 179.3L344.1 179.6L345.4 181.1L350.5 180.7L352.8 179.0L350.0 176.6L349.9 175.1L350.8 173.9L349.9 171.8L351.1 170.4L354.4 169.6L356.3 166.4L349.4 165.9L348.4 162.1L350.2 158.3L347.0 155.8L345.8 159.8L344.8 159.7L342.2 161.2L339.3 160.6L339.4 159.9L338.2 156.6L338.5 155.1L337.1 152.4L335.9 153.1L333.2 157.3L334.4 159.7L336.5 161.7L338.6 161.3L339.9 164.5L339.1 166.4ZM332.1 176.6L334.5 174.6L334.0 172.9L332.7 172.4L331.4 174.6ZM343.5 233.3L347.2 232.0L348.0 232.1L349.6 237.6L350.2 238.1L352.4 237.7L354.0 238.7L357.2 237.2L358.7 239.7L360.7 240.8L362.0 237.4L360.4 235.4L357.9 235.4L359.5 230.9L361.7 229.1L362.8 228.9L361.0 225.1L361.9 222.3L363.2 220.1L360.3 219.0L356.4 220.8L355.4 218.8L357.3 216.4L356.8 215.1L360.1 213.6L359.6 211.2L361.0 209.1L359.8 207.2L356.8 207.1L356.0 211.9L355.6 212.6L351.4 213.1L353.5 217.7L352.1 220.3L350.5 221.2L348.2 219.8L347.8 219.0L348.0 216.4L347.1 216.1L344.6 218.1L344.2 219.3L341.1 219.8L340.3 220.6L339.5 220.7L337.3 223.9L337.4 224.8L339.9 226.9L337.8 230.9L342.1 231.9ZM343.3 223.0L345.4 221.2L346.2 221.7L347.5 224.1L347.3 224.6L346.2 225.2L344.5 225.0ZM352.8 224.4L353.3 225.0L351.2 229.8L350.6 230.0L348.8 225.9ZM338.1 219.4L337.3 216.7L333.1 215.9L332.4 216.6L332.0 217.7L333.2 219.9ZM328.8 225.8L329.9 226.7L331.5 226.6L333.6 222.2L333.3 221.6L328.8 222.9ZM334.4 291.4L337.6 290.7L338.6 290.9L339.5 285.8L339.3 284.8L342.0 283.5L343.4 280.1L342.3 277.7L341.6 277.0L342.0 273.0L341.1 271.0L337.1 271.5L334.5 275.7L333.8 279.1L332.0 282.4L334.0 284.4L332.2 287.8ZM347.0 291.9L343.3 288.7L340.4 292.3L340.6 292.7ZM340.1 467.7L337.2 467.6L336.3 468.2L335.0 471.3L342.3 473.3L342.2 472.0ZM332.1 472.5L331.5 473.5L334.4 477.8L338.2 476.7L334.9 471.3ZM370.5 113.1L371.9 110.6L370.8 109.4L365.5 109.0L366.0 106.1L365.2 104.1L361.5 105.9L357.7 105.6L356.0 107.3L358.5 110.0L359.2 111.7L360.4 111.6L363.4 109.8L363.8 109.9L365.5 114.0ZM363.9 116.4L363.5 119.1L367.6 121.2L368.5 119.0L364.8 115.3L361.4 113.6L360.6 116.3ZM349.4 126.6L351.4 128.4L351.2 132.6L352.0 133.6L354.8 132.6L356.4 135.4L355.7 137.0L356.0 139.7L355.7 140.3L359.5 142.0L360.5 146.0L360.3 146.5L363.7 148.1L364.4 149.3L365.6 150.1L368.8 150.0L369.5 149.7L374.4 150.4L375.0 148.8L376.7 148.3L378.3 150.7L381.0 150.9L384.3 149.0L388.0 150.6L388.8 151.6L391.3 150.3L392.1 148.0L389.9 147.2L389.8 144.2L388.6 143.5L388.3 142.6L387.5 141.9L387.6 138.2L387.2 138.0L384.0 139.4L383.8 141.8L382.8 142.2L380.0 140.3L377.8 142.8L375.9 140.2L375.0 140.8L374.9 144.2L374.0 144.5L370.3 143.5L371.9 141.2L371.3 137.1L371.6 134.1L374.7 134.4L375.5 134.1L376.5 132.6L379.9 133.2L380.7 128.2L378.2 129.4L375.6 128.0L375.2 128.2L371.2 133.0L365.5 130.6L363.9 131.1L361.7 133.0L362.3 133.9L363.9 138.4L360.3 137.7L359.7 134.7L360.7 133.1L358.0 130.3L361.2 127.7L361.3 126.1L360.9 125.5L358.0 124.7L357.2 123.7L361.6 120.7L359.5 118.7L358.9 118.7L356.5 121.5L354.4 120.1L353.0 120.5L350.0 119.1L348.8 121.0L349.7 123.3ZM369.3 143.5L368.0 146.2L365.5 146.5L364.7 144.9L363.4 143.7L368.0 142.3ZM362.7 179.1L364.3 176.5L367.4 177.7L368.7 176.0L371.6 177.6L373.0 176.3L375.0 176.8L377.1 172.4L377.6 172.4L380.4 169.3L383.3 169.9L384.7 168.9L387.8 171.6L389.9 170.6L389.9 169.6L388.3 166.9L385.3 167.9L385.0 165.6L388.8 165.3L389.2 164.5L387.8 161.1L385.2 160.5L383.5 162.0L381.5 162.7L380.3 161.3L377.5 160.3L376.6 159.0L374.8 159.2L373.7 158.2L371.3 159.5L372.5 162.3L374.5 163.7L374.0 164.6L368.9 165.2L368.0 163.7L367.5 160.8L365.0 160.1L363.0 160.8L362.7 162.0L363.2 165.6L362.0 167.6L359.5 174.4L359.7 176.7L360.9 178.3ZM370.1 172.8L369.1 173.2L366.6 172.5L367.3 168.3L368.9 167.4L372.3 170.0ZM350.1 193.1L352.3 193.3L354.3 188.3L353.4 187.3L351.1 188.8ZM357.3 193.4L359.8 193.9L360.7 192.5L358.8 189.3L356.0 188.7ZM372.1 222.8L373.5 222.3L374.1 221.2L376.1 219.9L377.0 220.2L377.4 222.5L376.5 224.1L376.9 225.3L374.9 226.7L372.2 223.9L372.0 222.9L369.6 223.0L368.9 223.6L369.4 226.8L368.8 227.2L369.1 230.0L370.6 230.9L370.3 231.5L370.5 234.0L368.4 235.1L367.4 234.4L365.0 236.0L364.8 237.1L365.5 238.3L361.8 242.4L359.7 246.6L362.0 249.7L363.6 249.5L365.0 246.7L368.3 246.3L369.4 244.8L373.8 249.8L373.6 250.9L375.5 251.7L379.3 251.1L379.8 250.0L379.6 248.0L377.5 244.7L374.0 249.2L372.6 245.0L371.1 243.3L372.7 243.2L375.3 240.6L374.2 239.2L371.2 241.6L370.5 239.9L366.9 238.9L369.0 236.4L370.5 237.0L371.0 238.0L374.5 237.7L375.1 236.9L377.7 237.1L378.6 236.5L379.0 235.2L378.8 233.9L378.0 232.7L377.2 232.4L376.3 229.7L378.9 228.2L380.3 229.3L382.1 229.5L383.3 231.4L384.6 231.2L387.4 228.8L386.6 227.3L389.1 223.9L390.6 224.0L390.7 225.9L392.4 228.7L393.6 229.2L394.9 229.0L397.8 227.9L398.1 227.2L399.5 225.9L399.7 223.5L400.4 222.9L400.8 221.9L400.7 221.0L402.3 218.8L403.6 219.9L404.1 222.1L405.3 223.2L407.2 222.7L408.0 223.4L410.2 224.1L410.8 226.2L414.0 226.9L414.0 228.0L412.9 229.8L413.3 231.0L412.7 232.2L415.7 235.9L414.1 236.8L413.6 240.0L416.6 240.1L416.8 237.3L416.0 235.8L416.5 235.4L416.2 230.9L419.8 232.0L420.2 231.1L422.5 230.0L424.4 233.5L425.3 233.7L427.0 231.7L425.5 229.0L422.9 229.0L422.6 228.1L418.6 226.8L418.0 227.1L415.5 225.7L415.4 224.7L414.6 223.6L411.3 223.3L411.7 221.7L409.7 219.7L409.2 216.8L409.6 216.3L408.0 213.4L411.0 211.7L414.1 214.8L414.0 216.4L415.6 219.4L419.6 223.5L422.3 222.4L423.3 225.5L426.3 226.6L430.7 224.7L431.1 222.4L430.3 220.6L433.1 218.1L430.8 214.9L430.5 214.8L428.6 218.9L425.6 218.3L424.4 220.1L420.9 219.7L418.9 217.3L422.1 215.0L420.5 213.1L420.6 210.9L421.1 210.5L418.9 207.9L417.6 207.4L419.6 205.0L421.8 204.9L422.1 201.4L421.7 200.9L421.6 198.7L423.7 196.3L427.8 195.3L427.7 192.9L424.5 191.1L425.1 190.4L428.3 189.7L429.2 188.2L431.2 189.1L431.5 189.6L436.9 190.5L437.6 188.2L441.7 184.3L445.2 185.7L445.9 187.3L448.3 186.8L449.5 189.2L451.1 188.9L452.6 191.2L450.5 193.4L454.0 195.3L454.9 195.2L454.1 191.3L455.6 190.1L458.2 192.0L461.1 191.7L461.9 193.7L463.6 195.1L464.6 198.0L465.7 198.8L469.0 199.1L472.7 197.1L475.3 200.4L476.9 200.9L478.5 197.5L477.0 194.8L469.6 192.0L469.1 191.3L471.8 188.7L473.9 188.5L476.0 190.0L479.3 189.9L480.6 185.8L479.4 183.9L479.2 180.9L483.2 181.5L486.3 178.9L487.9 180.3L491.0 177.5L491.3 176.4L490.4 175.5L488.9 172.1L492.7 171.4L492.8 170.5L493.8 169.5L495.2 169.1L495.5 168.3L497.8 167.0L500.6 169.5L501.9 166.7L501.8 166.2L498.0 165.2L497.5 163.8L501.9 162.7L502.4 160.8L501.2 154.8L501.8 154.1L504.4 157.3L506.6 156.6L506.8 155.7L505.6 153.6L502.1 153.2L498.8 151.7L498.0 153.6L498.4 155.8L497.5 157.7L493.5 156.5L494.5 153.3L494.3 152.2L492.0 151.2L491.7 149.3L493.8 148.0L498.4 150.5L501.1 149.1L500.2 146.5L500.7 144.5L499.2 143.9L499.5 140.6L499.0 139.5L498.2 139.5L495.8 141.4L495.3 141.3L493.9 137.7L492.1 136.6L491.5 137.6L491.2 141.9L490.2 145.8L489.0 146.6L490.7 148.8L487.1 152.8L486.4 152.3L484.7 148.1L488.6 146.5L486.5 142.1L485.3 143.2L481.4 143.7L481.0 144.5L477.1 145.2L476.8 144.9L471.6 147.3L473.6 150.4L475.1 150.4L476.2 151.0L476.8 152.7L475.7 155.6L475.2 155.8L475.9 158.9L476.7 159.9L478.8 159.7L479.8 158.5L481.5 158.1L482.9 159.8L485.4 159.7L486.2 156.0L486.6 155.7L488.8 157.3L486.0 160.3L486.8 161.5L489.1 160.7L491.2 162.0L490.2 163.9L491.4 166.5L489.4 168.3L486.1 169.0L485.9 170.1L485.4 170.8L482.1 172.7L480.2 175.2L478.8 175.6L478.3 175.4L476.6 173.7L476.3 168.9L474.3 168.4L473.0 163.6L473.2 161.5L472.4 160.5L473.2 159.3L472.4 154.9L470.8 152.7L468.4 153.8L468.3 154.2L471.7 156.5L470.0 158.2L470.4 163.2L469.3 164.9L470.2 166.5L470.4 168.2L470.2 171.1L469.2 172.2L470.8 176.5L470.4 178.0L471.6 179.6L468.1 181.4L468.7 185.3L467.5 187.1L468.1 190.4L461.8 189.6L461.3 187.4L464.1 186.1L465.0 183.6L464.3 182.6L464.6 180.3L461.9 179.5L461.5 177.3L456.9 176.1L457.1 175.4L462.1 173.1L462.2 172.4L465.4 170.9L465.4 169.6L462.2 167.0L461.6 165.7L462.3 162.7L460.2 162.1L457.6 159.4L457.3 159.4L456.0 163.1L452.6 160.2L450.9 161.9L450.1 161.4L448.9 157.6L449.4 156.5L448.7 155.4L450.4 152.2L452.3 153.3L452.8 155.4L455.3 155.6L455.9 154.7L454.6 152.6L454.9 151.2L452.8 150.4L450.2 151.1L448.6 149.3L448.4 148.4L449.4 147.6L449.4 143.7L450.2 142.2L453.5 140.8L453.5 139.9L449.6 139.1L449.5 135.2L448.7 135.3L445.5 138.5L442.0 138.6L439.3 140.2L439.3 142.7L438.8 143.9L434.8 139.5L433.4 142.2L433.7 142.9L433.2 145.0L434.9 146.8L432.8 149.8L430.6 146.9L427.5 147.6L430.7 155.3L427.2 158.3L428.9 160.4L427.5 163.1L426.1 163.6L425.9 164.0L427.9 169.5L433.7 172.7L436.2 169.4L437.8 168.8L440.7 169.1L442.5 170.1L443.9 168.5L444.7 168.2L446.8 169.4L448.8 167.8L450.7 169.6L452.1 169.0L453.8 171.8L452.2 174.8L453.0 175.8L451.7 177.5L451.1 179.2L449.2 179.4L447.8 182.4L445.8 181.2L444.1 181.0L441.6 184.1L439.2 182.9L440.7 177.7L442.2 177.2L441.6 174.6L437.7 174.4L438.3 176.8L434.0 177.6L433.1 177.0L431.8 179.9L433.3 182.3L432.8 183.2L431.3 183.7L430.2 180.6L429.5 180.5L427.4 177.2L426.2 177.6L423.5 176.5L421.2 174.9L419.9 173.4L417.3 173.7L416.1 171.3L417.0 168.3L420.1 168.4L420.3 164.5L421.5 164.4L423.4 160.5L426.2 158.0L425.6 156.3L422.2 156.9L422.3 153.6L419.3 154.2L418.6 155.6L416.4 155.0L411.9 155.9L413.9 158.7L418.1 160.1L418.2 162.1L419.5 163.8L417.0 168.3L415.3 165.9L410.8 167.8L410.5 168.4L408.0 168.6L406.2 168.4L405.7 165.8L404.5 164.8L402.1 165.8L401.9 169.1L404.7 170.6L405.2 170.4L408.6 172.1L411.4 172.8L412.7 170.8L414.4 171.5L413.5 174.1L413.8 174.5L412.0 177.8L414.1 181.0L416.0 180.1L416.8 177.1L417.5 177.3L420.8 180.3L418.5 181.9L418.2 183.4L419.9 185.4L418.5 188.2L416.6 188.4L415.9 189.5L415.6 191.0L413.8 192.9L414.3 196.5L411.4 195.6L409.1 196.2L406.9 194.5L406.4 193.6L408.4 191.5L407.8 189.4L404.3 188.2L404.5 183.5L403.8 181.4L402.8 180.4L400.5 180.3L400.6 183.9L398.7 185.1L400.4 189.2L402.5 192.6L401.9 197.0L403.6 198.1L404.3 197.8L407.0 199.6L409.0 199.2L410.3 201.5L414.5 199.9L415.2 200.8L415.1 201.7L415.7 203.6L415.4 206.2L412.6 206.1L411.4 207.0L408.4 206.5L408.6 208.3L406.3 212.9L405.3 213.0L404.5 211.1L404.6 209.0L402.4 207.4L402.2 205.1L401.4 203.9L401.2 202.5L398.4 200.9L395.7 202.5L394.3 199.8L388.2 201.0L387.7 200.3L382.4 202.8L382.3 204.6L378.0 206.3L380.0 202.1L375.9 200.9L375.6 202.2L377.6 206.4L379.3 207.4L381.8 210.8L378.6 211.5L375.1 208.8L373.8 210.7L371.6 211.3L370.6 215.0L368.8 212.7L367.6 215.1L370.7 215.8L371.7 216.7L370.7 218.4ZM394.5 218.7L394.7 221.7L392.3 222.2L392.0 217.9ZM392.1 210.5L391.3 210.0L388.9 211.0L387.8 209.3L389.8 206.9L389.0 202.1L391.8 203.4L395.5 203.0L396.7 206.1L398.3 205.9L400.5 209.3L400.0 210.1L397.8 209.7L395.7 213.0L395.4 215.2L391.6 217.2L390.0 216.5L389.4 214.5L393.2 212.8L395.5 212.9L394.7 209.5ZM434.2 161.2L434.7 162.7L436.4 162.4L440.3 163.3L438.3 165.2L434.2 164.7L433.5 165.5L431.2 164.2L431.2 161.7ZM440.8 145.4L440.5 146.6L441.7 150.2L442.3 150.5L441.2 153.4L440.2 153.9L436.8 151.0L437.8 149.6L436.5 146.6L437.7 144.4L438.8 143.9ZM355.6 256.7L355.2 255.2L352.9 255.0L352.9 252.1L356.2 253.8L357.6 253.8L360.2 251.4L358.0 250.0L355.7 250.7L353.3 249.2L348.9 251.3L348.4 252.5L349.7 252.9L351.8 255.3L350.3 258.6L351.7 259.5L352.5 259.5ZM358.2 258.6L357.7 258.5L355.1 261.0L355.3 261.8L359.4 264.3ZM352.8 269.3L349.1 269.6L348.9 270.2L350.2 274.9L353.6 273.2L353.6 277.8L353.2 278.3L357.5 281.4L359.3 278.8L358.6 277.1L356.3 276.5L354.9 272.9L354.1 272.6ZM371.0 286.4L373.8 280.9L375.4 280.1L375.6 279.5L371.6 274.6L367.2 276.2L369.7 279.7L368.5 280.9L370.5 286.3ZM353.3 289.4L349.8 287.8L351.2 291.8L353.1 290.8L353.6 289.7L355.9 288.6L353.7 284.2L352.1 284.0ZM358.4 290.1L362.9 288.2L362.1 284.8L359.0 284.4L357.6 289.1ZM371.3 81.1L371.4 79.1L370.0 77.1L369.0 78.5L369.0 80.5ZM375.4 97.2L370.3 95.7L369.8 96.4L370.1 98.5L371.4 100.2L374.4 99.8L375.7 98.6ZM392.2 105.6L390.5 109.5L393.4 111.5L392.8 114.5L395.2 115.0L396.2 116.1L394.9 119.4L393.0 121.2L393.6 122.7L392.9 124.3L395.1 128.1L391.8 128.6L391.4 129.4L392.9 131.6L389.3 133.0L390.3 134.6L392.9 134.0L393.3 131.9L395.3 131.4L396.5 128.8L398.0 128.0L399.7 133.7L400.6 133.8L400.8 139.0L401.8 139.7L403.1 139.2L403.9 139.5L407.9 139.1L408.3 138.5L412.4 138.5L413.6 137.4L413.5 136.2L409.8 134.8L409.2 132.3L409.2 129.6L408.3 129.6L404.9 132.4L403.9 129.5L402.3 129.3L400.9 127.4L400.0 127.0L398.8 127.2L395.4 123.3L398.5 121.6L400.2 120.1L401.2 117.9L398.9 116.3L399.3 111.8L401.4 110.8L400.3 108.2L402.8 106.0L404.4 107.8L408.2 106.2L407.2 104.0L408.3 101.9L410.7 102.1L411.0 98.4L407.8 99.2L407.1 98.9L405.7 94.8L403.3 96.7L400.6 96.6L398.2 95.6L395.2 98.9L393.4 99.9L392.3 101.3L390.0 102.0L389.7 104.2ZM385.9 130.3L388.4 128.4L387.3 126.0L386.8 125.8L386.3 126.0L384.7 129.7L383.6 130.2L382.9 132.6L384.2 133.3L386.5 133.7L388.1 132.3ZM375.3 178.6L378.5 181.0L381.4 178.9L381.2 176.9L377.2 176.7L375.2 177.0ZM390.3 193.3L389.0 192.0L385.6 191.5L385.9 195.1L387.3 199.5ZM392.3 334.9L391.1 330.0L388.0 334.1L392.2 336.0ZM399.0 419.1L399.2 423.8L397.4 425.3L402.1 431.7L401.0 435.5L400.0 436.2L399.9 441.9L397.4 442.6L392.0 450.5L395.1 453.1L397.0 455.4L397.1 457.7L400.0 460.8L403.8 461.7L408.4 457.0L408.2 448.1L406.7 445.1L410.1 437.7L409.5 435.0L411.6 431.1L409.6 429.5L409.3 426.9L405.7 429.6L402.3 424.3L407.9 422.2L408.0 418.0L411.0 415.6L412.2 412.9L419.3 416.2L419.7 415.9L420.1 413.6L413.5 406.8L415.2 404.4L414.8 403.7L407.6 400.6L407.1 400.7L405.5 399.8L400.7 400.5L400.0 403.9L398.4 407.5L395.8 408.5L394.5 405.7L391.6 402.3L392.1 397.4L395.5 398.9L396.7 398.0L400.5 399.7L401.3 396.6L396.5 395.7L395.9 394.6L391.3 395.5L390.4 395.0L388.3 396.2L388.3 401.3L384.1 403.1L383.4 403.9L384.8 406.1L387.3 408.0L394.2 410.6L397.9 416.5ZM385.7 417.6L390.8 429.0L391.9 428.8L394.4 426.8L390.7 414.6ZM400.9 81.3L399.3 84.5L401.4 89.7L402.5 89.8L405.4 83.2L404.0 81.0ZM411.1 94.1L410.9 91.6L406.8 89.5L404.3 90.6L405.9 94.1ZM409.7 111.3L412.4 107.8L410.3 106.3L408.3 106.2L408.0 109.8ZM411.2 118.1L409.6 114.5L406.6 119.3L407.7 120.0L410.0 120.4L410.9 119.7ZM402.2 144.2L401.4 142.4L399.9 142.5L396.4 144.3L395.1 144.6L394.9 148.7L396.7 149.6L398.0 148.4L398.8 147.0L401.7 146.3ZM400.1 159.0L400.4 156.2L399.7 154.3L396.6 155.2L396.1 156.9L399.1 159.7ZM408.0 159.7L404.5 158.3L403.7 159.0L404.7 163.7L406.2 162.9L410.5 163.3L408.9 159.6ZM411.9 186.2L409.2 183.1L407.4 183.5L408.4 187.3ZM387.7 475.7L395.3 478.0L397.8 471.8L396.9 470.6L396.0 470.2L388.1 474.0ZM441.5 93.3L446.0 92.6L448.6 91.6L446.3 88.7L445.0 89.0L441.7 92.4L441.5 93.3L437.0 89.2L432.7 91.5L434.3 94.7L437.4 94.0L441.2 94.3ZM434.5 107.4L432.8 111.3L431.1 111.9L430.8 115.2L434.6 117.4L437.6 112.8L439.3 114.9L439.2 118.7L438.6 119.1L440.0 124.0L442.3 126.4L440.7 129.6L440.3 129.7L440.9 134.7L443.3 131.2L443.9 131.2L445.7 127.9L448.5 130.9L451.5 131.5L453.8 130.6L455.5 127.8L458.3 127.8L459.3 126.3L458.4 124.2L460.5 121.8L460.8 120.8L459.0 119.1L460.4 117.1L459.7 114.2L461.1 113.0L460.0 110.6L460.2 108.0L461.5 104.7L459.2 101.7L457.6 101.7L456.9 106.1L454.0 107.1L454.0 104.1L454.4 102.1L455.5 101.4L452.9 96.7L454.1 95.1L449.6 92.9L448.9 95.9L446.7 95.9L443.4 98.5L442.8 98.3L439.6 99.6L436.0 98.5L433.6 101.2L432.7 100.7L429.9 100.9L430.5 102.5L430.3 104.4L431.6 105.7L433.5 105.5ZM453.9 107.3L456.4 109.8L456.0 112.4L451.6 108.9ZM423.5 118.1L421.7 120.4L422.9 122.2L425.3 119.6L425.2 119.2L426.6 116.6L425.2 115.2L423.2 115.4L422.8 116.0ZM423.4 123.5L423.0 122.6L419.3 123.0L418.8 124.1L420.1 126.1L420.7 126.2ZM432.1 128.6L432.3 126.0L430.7 123.9L427.2 123.8L426.3 124.8L426.6 127.4ZM426.6 143.4L425.4 141.4L423.3 141.7L422.5 142.4L421.9 144.8L418.0 145.3L417.3 146.9L418.0 148.5L420.0 149.5L422.7 145.8L424.2 146.7L425.5 147.0ZM427.9 207.5L425.8 207.0L423.7 210.5L425.9 213.6L426.8 213.4L428.4 210.6L432.1 209.8L432.4 209.3L430.9 207.1L429.4 206.5ZM431.4 233.9L434.2 229.1L434.0 228.9L430.7 228.9L429.3 231.3ZM432.6 239.9L433.1 238.1L431.4 234.3L427.7 236.7L431.2 240.5ZM434.3 249.5L433.3 249.3L430.2 251.1L429.3 247.6L430.6 247.0L431.5 245.0L429.9 242.3L427.7 243.1L427.9 247.2L428.7 247.5L427.1 251.4L427.3 253.0L429.3 256.3L431.5 257.2L433.1 255.2L437.5 254.5L434.2 250.5ZM420.0 246.5L416.4 246.5L416.7 249.9L420.2 250.2ZM426.2 331.0L424.9 327.8L420.6 325.7L419.7 326.7L418.6 326.8L414.3 330.8L418.8 333.8L420.1 333.6L420.8 332.9ZM440.9 339.1L443.0 336.1L447.1 335.9L447.5 334.9L442.9 331.8L442.2 332.4L438.8 330.3L438.8 327.2L435.2 328.7L434.3 328.3L430.3 329.9L429.1 331.5L435.1 335.1L436.3 333.1L437.3 332.6L440.6 333.8L439.1 336.0ZM439.2 349.4L440.6 344.7L438.5 341.7L436.3 342.2L433.4 337.9L430.3 342.3L433.5 343.7L434.7 343.7L435.2 346.1L437.5 348.5ZM423.6 402.5L428.0 403.7L433.4 410.8L436.6 410.6L440.6 413.7L442.9 408.9L441.2 404.8L442.0 400.5L439.7 398.5L440.6 394.3L438.6 392.3L432.1 394.1L430.6 392.2L423.4 400.7ZM438.3 398.7L433.4 403.4L428.4 403.5L432.6 395.3ZM427.2 422.4L428.7 424.1L429.5 424.2L430.2 431.0L434.0 431.2L438.3 428.2L434.0 423.4L435.8 419.0L430.0 414.2L427.6 414.8L425.9 416.8ZM432.8 437.5L430.6 437.7L428.2 441.7L428.6 442.5L437.6 445.1L438.3 442.6L434.9 438.0ZM416.9 476.8L412.4 468.0L410.8 468.2L405.1 473.4L415.3 479.6ZM451.8 65.4L451.5 65.8L451.9 68.8L454.6 69.4L454.8 66.6ZM458.2 85.0L459.1 84.0L456.8 80.2L453.5 80.5L452.9 84.5L453.8 84.8ZM451.5 85.3L446.3 82.6L445.6 84.7L447.7 87.2L449.9 87.3ZM449.7 171.4L447.5 170.6L444.7 172.2L446.7 175.3L449.8 173.6ZM455.7 195.7L452.7 200.1L453.3 200.7L453.5 203.5L451.1 205.6L451.4 206.8L453.9 207.9L455.1 208.0L456.4 207.4L456.3 205.6L458.0 203.1L456.3 200.4ZM439.1 208.4L440.1 206.0L439.9 205.1L442.5 200.6L441.9 199.5L437.5 198.4L435.7 200.2L436.5 203.0L435.0 206.0L435.1 208.9L436.5 209.7ZM441.7 217.6L443.9 217.8L444.4 217.4L444.2 213.6L441.3 212.9L437.9 213.5L437.2 215.3L439.4 217.6L441.1 217.9ZM446.9 237.0L448.7 236.8L449.3 235.1L445.9 233.3L446.2 231.5L443.8 229.8L444.9 226.1L443.1 225.0L439.2 226.5L439.1 227.6L443.7 229.8L440.8 232.8L440.9 234.9L442.5 235.3L444.6 238.2L445.8 237.9ZM450.2 234.1L451.7 233.6L452.8 231.1L452.3 230.6L451.6 227.6L448.3 228.0L448.1 230.5L447.5 231.1ZM439.4 241.5L441.1 242.0L440.5 235.3L439.1 235.6L437.4 239.2L437.5 240.1ZM443.6 245.7L445.9 246.9L448.1 244.4L445.6 243.5L442.2 244.2ZM443.8 342.4L443.2 344.3L447.1 346.7L447.6 346.5L447.4 342.3L448.1 339.8L447.8 339.3L443.6 340.2ZM444.3 359.4L444.8 361.6L445.6 361.9L452.2 361.3L450.3 357.4L448.7 356.2ZM454.0 408.9L453.5 405.5L449.4 402.6L445.3 408.1L449.7 410.6ZM470.8 88.3L470.8 91.1L471.7 92.2L471.3 95.2L469.6 95.9L467.8 100.0L468.3 100.9L471.9 102.9L472.4 106.4L474.6 104.9L476.0 105.3L474.0 108.8L478.8 109.8L479.2 108.9L482.3 108.8L483.6 112.7L484.4 112.9L485.5 112.0L486.3 111.8L490.4 114.0L490.6 114.6L489.3 115.1L486.5 118.3L486.5 119.5L491.7 115.6L495.3 112.2L497.8 112.3L497.2 116.7L498.4 118.0L499.9 118.8L501.5 117.1L501.1 112.6L502.5 112.2L505.3 112.9L506.9 108.2L510.2 108.6L513.2 109.9L514.1 111.5L515.8 112.4L519.1 106.3L520.6 106.5L520.7 109.9L516.9 114.0L517.6 117.1L517.3 117.9L518.5 121.5L521.8 123.9L521.7 124.3L522.7 126.4L524.8 127.6L524.2 131.8L523.0 131.4L521.0 129.7L520.2 129.6L517.9 131.6L517.6 133.2L518.0 138.5L518.4 139.5L520.0 141.2L518.0 144.0L522.8 146.4L521.4 147.3L519.9 151.9L524.0 150.4L524.6 149.4L528.3 152.3L529.0 152.3L528.5 156.6L529.9 157.0L530.0 160.6L529.7 160.8L526.7 157.9L525.9 159.3L525.2 159.7L521.6 159.3L521.1 160.4L521.7 161.8L519.1 164.6L519.6 166.8L521.6 166.6L524.0 165.7L525.3 166.6L527.2 166.3L528.1 167.2L529.9 165.2L530.3 163.5L532.3 164.0L532.3 166.5L529.3 169.8L529.3 170.3L532.0 170.9L535.1 170.4L537.1 171.7L538.8 169.8L541.6 169.4L541.1 166.8L537.5 164.7L537.6 163.5L538.7 162.9L541.1 157.6L540.5 157.0L541.9 152.4L541.0 151.1L536.6 149.5L536.2 146.3L536.4 145.8L533.4 142.5L531.1 142.0L530.6 140.6L531.1 139.6L531.8 139.3L534.7 140.0L535.7 139.6L538.7 140.3L539.4 141.6L541.6 141.3L544.6 143.2L545.5 143.2L549.0 142.1L550.9 142.8L552.9 142.5L553.6 142.0L558.5 142.2L559.0 141.2L558.7 135.8L561.1 135.3L561.1 132.0L559.4 130.4L558.9 128.7L555.7 130.2L553.7 128.0L551.1 131.6L550.0 129.1L550.7 124.6L549.3 123.8L546.0 123.9L544.7 125.7L541.8 125.1L539.6 123.6L539.0 123.9L534.5 122.4L533.4 118.7L528.4 118.8L527.9 118.2L531.2 113.9L530.4 113.7L526.4 115.0L526.6 111.4L525.6 111.2L523.2 113.6L522.0 113.2L521.9 111.8L524.2 109.7L523.1 105.8L523.5 104.3L523.0 101.7L520.3 99.3L519.5 99.2L519.1 95.5L521.2 94.1L521.5 92.4L524.4 91.1L526.1 92.6L528.1 88.9L528.7 88.9L530.2 87.2L521.8 85.8L513.6 86.8L509.6 82.7L505.4 79.9L504.6 80.7L506.1 83.4L510.0 85.5L509.0 88.3L506.0 90.3L505.3 92.3L502.2 89.4L503.5 86.2L503.0 85.8L502.0 85.9L499.3 87.7L498.4 86.9L498.3 85.3L493.4 84.2L494.1 82.8L494.5 79.9L493.9 79.4L491.2 80.7L489.5 81.0L488.9 79.9L485.1 78.6L472.9 72.5L473.8 70.7L472.9 70.0L471.7 70.0L467.6 71.8L470.7 73.6L471.0 74.4L470.0 77.3L470.1 78.2L471.3 79.3L471.2 80.0L470.3 81.3L469.5 84.4L471.1 85.3L471.7 86.6ZM495.6 92.2L499.6 88.8L500.0 92.5L502.5 93.4L500.4 95.9L498.0 96.8L497.8 97.8L498.1 99.6L502.9 97.9L505.1 96.2L505.8 99.4L506.6 100.1L505.3 102.5L507.4 103.8L506.1 107.2L503.7 106.9L502.1 105.1L499.7 105.6L498.1 105.3L496.9 108.1L494.3 108.0L494.2 106.2L497.7 104.8L497.2 103.5L497.8 100.1L492.2 101.7L491.9 101.5L488.9 98.2L488.9 97.3L489.6 96.7L488.6 91.8L489.6 91.6L491.7 93.6ZM541.0 129.6L542.5 129.9L543.1 134.2L542.1 135.1L539.6 135.4L539.3 133.6L540.6 129.9L536.9 130.0L536.7 130.7L535.1 132.1L531.3 131.4L531.0 130.9L531.2 129.7L527.5 126.1L527.6 124.8L529.6 124.2L532.8 125.7L533.3 125.3L536.8 127.3L538.3 126.1ZM532.1 149.5L530.5 149.4L531.8 146.5L535.1 146.5ZM457.0 95.3L461.2 98.4L461.5 99.1L464.0 99.4L465.8 94.4L465.3 93.7L464.6 93.8L461.4 97.5L460.9 94.2L456.4 94.1ZM464.6 129.0L467.2 129.5L470.3 131.3L470.5 135.8L473.1 137.1L474.9 136.5L477.0 138.3L478.3 138.2L480.6 137.1L482.4 137.6L483.2 139.5L486.4 141.0L486.9 140.1L486.9 137.2L487.5 136.0L491.9 136.4L491.0 133.2L488.6 132.0L489.2 128.5L493.2 127.8L493.4 127.4L490.8 122.7L482.7 120.2L479.7 118.0L476.6 121.2L477.5 124.1L480.3 124.7L482.0 127.0L482.0 128.7L478.3 131.7L475.5 129.7L472.4 128.8L470.3 126.1L472.5 123.8L474.7 120.6L474.4 119.5L469.8 118.3L469.9 120.5L467.5 123.2L468.6 125.1L464.6 127.7ZM458.6 152.9L457.9 154.4L459.6 157.2L461.5 157.2L463.3 154.6L461.8 152.6ZM478.7 166.4L482.2 165.4L482.4 163.6L479.1 160.6L478.4 163.5L475.9 161.4L475.5 164.3ZM478.4 207.4L478.8 206.6L476.8 203.0L475.8 203.9L476.7 207.4L475.6 208.7L477.3 210.4L477.9 210.5L478.6 209.4ZM468.1 207.7L470.5 208.3L473.5 207.3L473.9 205.6L469.7 203.5L468.2 205.7ZM467.1 220.3L467.1 216.1L462.2 216.8L462.0 217.8L463.1 219.2ZM478.8 227.6L479.8 229.3L482.8 229.7L483.9 229.1L484.4 228.2L483.7 225.3L481.1 225.1L481.2 221.8L478.5 221.2L477.4 224.2L474.9 223.7L475.5 219.2L474.1 217.6L472.1 220.2L472.4 223.1L470.3 222.9L467.9 223.7L468.3 226.9L473.0 225.6L473.7 228.0L475.8 228.8ZM478.1 234.0L478.0 237.4L479.3 237.6L481.3 237.1L481.5 235.2L479.1 233.5ZM468.0 261.9L470.4 262.7L472.9 260.6L471.1 256.8L473.8 255.6L473.1 250.9L475.0 250.4L477.7 248.2L481.5 247.1L482.7 245.9L480.1 242.4L477.5 243.0L477.2 247.3L473.5 245.5L472.6 245.8L470.3 242.0L469.2 241.8L468.4 245.9L470.2 246.5L472.4 246.0L472.5 250.7L470.2 250.8L470.0 255.4L470.8 256.8L467.4 259.7ZM476.1 262.2L479.7 261.8L480.6 261.0L479.0 258.2L476.1 259.1L475.5 260.6ZM480.2 296.2L484.3 299.0L485.2 295.5L487.4 295.6L490.5 292.2L487.6 289.0L490.2 283.9L487.7 280.5L486.3 279.9L481.5 280.7L478.6 285.4L479.1 287.7L477.8 290.7L477.2 291.1L477.1 293.2L472.3 295.7L472.6 298.5L476.1 299.2L477.3 293.6L480.3 295.7ZM468.7 299.0L464.8 300.0L468.4 304.5L469.4 305.0L469.9 304.4L470.7 299.7ZM471.2 398.3L470.1 400.2L473.6 408.2L474.6 407.2L476.4 406.5L480.2 401.4L475.6 396.0L474.4 397.6ZM454.1 409.0L454.6 410.0L459.9 412.0L464.2 406.1ZM500.0 83.9L501.4 81.1L500.6 80.1L498.9 79.9L497.1 82.2L498.4 85.1ZM501.7 124.7L501.4 127.7L500.6 128.3L499.4 128.5L497.3 131.0L494.0 129.9L493.8 130.4L494.8 134.6L496.7 134.0L498.1 135.8L501.5 135.9L501.7 133.6L502.2 132.9L506.8 130.8L505.8 129.2L506.1 125.5L506.9 125.1L507.4 123.6L507.6 121.6L507.0 120.7L503.7 121.7L499.9 118.9L499.4 120.6L497.4 123.6ZM499.7 191.6L499.2 192.5L502.3 195.4L503.3 194.9L503.6 193.0ZM487.3 196.3L485.7 196.5L485.2 199.0L482.0 199.2L481.6 201.5L482.8 202.5L483.8 202.7L487.6 200.7L488.4 198.0ZM501.3 204.9L499.2 208.5L497.3 209.5L496.6 207.7L494.0 206.6L494.3 211.5L495.1 212.2L496.5 211.7L497.3 209.9L501.5 210.4L502.8 209.3L503.5 207.6L506.5 207.4L507.6 209.7L509.6 211.3L512.1 211.1L513.2 211.8L514.1 211.8L516.2 209.5L520.5 210.1L520.7 208.5L521.7 207.3L522.4 203.2L523.2 203.1L526.3 198.8L527.3 198.3L526.4 195.2L527.6 193.3L525.5 190.7L527.6 188.0L529.0 188.2L530.4 186.8L530.6 184.3L530.2 183.4L531.0 180.8L529.0 177.4L530.0 176.9L530.9 174.1L529.2 171.5L529.1 170.6L525.7 171.5L524.4 171.1L522.2 171.8L521.6 174.8L518.4 176.2L518.0 177.0L516.2 178.2L512.5 178.4L511.9 179.9L509.6 180.2L508.4 183.2L509.1 183.4L510.8 186.5L509.2 187.7L509.2 191.6L510.8 192.3L514.8 191.0L516.0 189.6L518.3 190.4L519.5 193.1L520.2 193.3L521.6 195.1L519.9 198.8L517.3 199.9L512.6 199.1L511.4 194.6L507.9 196.8L509.4 199.2L507.6 201.8L506.5 202.0L503.7 200.1L500.3 201.1L499.1 202.8ZM493.3 206.1L493.1 204.2L491.4 203.6L488.4 204.9L488.0 206.0L488.2 207.4L492.1 207.5ZM482.0 209.9L480.6 213.9L481.0 214.7L481.9 214.9L485.5 219.2L488.2 214.9L488.1 213.9L484.4 213.2L484.6 211.6L483.9 209.9ZM505.2 215.0L508.1 213.3L504.7 212.5L504.3 212.0L501.2 213.6L501.8 215.8L503.7 215.8L504.7 215.0ZM491.9 227.5L492.3 222.6L490.1 222.4L486.7 220.3L485.9 220.2L485.2 224.0L488.2 225.8L488.9 227.2L491.7 227.8L492.8 229.8L495.9 231.3L498.3 230.7L501.2 234.2L501.1 235.9L501.7 237.5L500.5 239.4L497.8 240.8L498.0 241.7L493.9 244.0L493.2 244.7L493.6 246.1L497.7 247.3L498.3 248.7L502.0 249.9L502.4 249.4L506.7 249.3L507.2 250.6L505.3 252.7L502.6 252.8L501.4 254.1L501.2 255.7L503.1 258.9L503.0 259.9L506.0 264.3L500.8 265.7L500.5 266.4L500.5 268.6L499.6 271.1L501.3 272.8L502.5 274.8L501.7 277.0L502.0 278.0L504.7 281.1L506.4 281.5L507.2 281.2L509.5 284.7L512.2 281.4L509.9 278.4L508.6 278.8L506.2 274.1L506.9 270.0L510.7 271.1L510.7 268.3L511.7 267.2L512.1 264.4L514.3 261.5L514.7 261.6L519.0 255.4L519.6 253.4L519.3 249.7L523.7 250.6L524.2 249.8L527.0 249.8L528.3 251.6L530.2 250.8L530.0 247.1L529.6 246.2L530.3 244.8L531.2 241.0L531.8 240.2L530.7 238.1L531.0 236.0L533.4 235.3L535.7 238.0L537.7 235.7L537.7 234.7L539.8 233.1L539.9 230.3L538.1 229.2L537.9 227.4L533.8 223.9L531.9 225.1L530.6 226.6L533.6 229.4L537.2 229.9L535.8 232.6L536.0 233.1L533.5 235.0L532.4 232.6L529.5 231.9L529.1 233.4L527.1 235.0L523.1 233.6L524.3 231.2L524.0 228.6L521.2 228.2L520.8 224.2L521.5 223.4L524.5 223.8L525.4 220.7L524.5 218.7L527.2 216.4L526.7 213.6L523.8 213.4L523.0 213.4L520.9 215.3L520.3 218.6L519.7 218.7L516.9 216.7L515.9 217.5L517.9 221.0L517.7 221.6L515.2 221.0L514.2 219.6L511.9 219.6L509.9 218.5L508.2 220.1L507.7 221.5L503.9 221.7L499.8 218.2L498.7 218.4L498.7 221.2L500.0 222.4L499.4 227.0L498.7 228.6ZM515.9 224.9L512.3 225.2L511.4 223.6L514.4 222.7ZM484.6 259.7L488.3 260.3L487.3 255.8L485.7 256.5ZM494.8 288.5L494.1 288.9L491.9 292.6L497.6 292.2L497.6 289.8ZM496.8 308.9L500.3 307.6L500.6 306.3L500.3 303.2L501.0 297.6L499.4 297.0L498.0 293.0L493.7 296.7L495.8 299.3L493.8 302.2L491.4 302.2L487.5 305.8L487.7 307.1L490.2 309.2L491.9 309.6L492.9 309.1L496.0 308.5ZM485.7 340.3L488.0 342.0L488.4 342.0L491.5 345.5L495.7 342.9L497.3 343.6L497.7 344.9L496.7 347.1L498.3 351.6L498.2 352.0L502.3 355.3L503.8 355.1L505.2 355.5L509.2 358.6L511.1 358.2L515.3 355.4L514.8 351.8L512.1 350.1L509.7 349.4L507.3 347.0L507.5 344.8L505.9 342.4L505.1 340.1L504.1 339.4L501.8 341.1L499.8 340.7L497.7 337.1L497.0 337.0L494.2 334.0L495.0 331.4L493.1 328.7L491.6 328.4L490.8 327.6L491.3 322.6L489.7 322.4L486.6 319.7L485.3 319.5L483.8 317.0L480.8 317.8L479.5 321.1L482.9 321.9L484.7 321.3L485.7 324.5L481.6 325.8L485.7 329.5L486.8 331.9L489.1 333.3L489.5 334.3L485.3 336.5ZM494.3 320.5L493.7 320.9L495.9 326.1L498.0 326.5L499.0 326.4L500.2 321.9L499.9 320.8ZM510.2 118.4L508.5 116.6L505.9 115.6L505.4 116.7L507.2 119.9ZM507.4 130.8L513.8 129.0L514.3 127.8L515.0 127.9L518.3 126.8L518.7 126.1L517.1 123.7L514.9 123.8L513.4 121.1L512.8 121.1L511.3 122.4L510.9 123.9L509.6 125.9L510.0 127.3ZM516.1 132.8L513.7 129.7L512.0 133.3ZM512.5 142.9L513.5 142.1L512.8 139.2L510.7 138.3L508.4 138.9L509.6 141.9ZM513.2 147.4L512.7 147.1L512.0 144.8L507.5 145.2L507.4 147.1L509.1 148.5L509.7 151.3L511.2 151.0ZM509.1 162.0L509.9 159.5L507.6 158.9L506.6 161.6L507.1 162.6ZM513.0 162.2L515.4 162.9L516.5 162.6L517.8 160.4L517.1 158.8L512.7 158.9L512.4 159.6ZM510.5 168.8L506.9 172.1L510.8 174.6L513.9 174.0L515.2 172.6L516.6 172.2L517.6 172.9L521.1 171.2L519.0 167.8L517.0 168.3L516.0 168.0L513.0 169.8L512.1 169.8ZM526.9 254.2L525.0 253.9L523.1 257.9L519.7 255.9L520.2 260.4L523.3 258.7L523.8 259.0L528.8 257.4L529.1 256.7ZM514.4 278.5L518.1 274.3L517.3 273.2L515.4 273.6L515.6 274.6ZM503.8 337.6L504.2 338.4L504.5 338.3L504.0 336.8ZM516.8 355.6L519.0 357.2L522.5 355.4L520.1 353.6L518.9 353.2ZM508.2 368.6L511.7 370.6L512.8 370.4L514.0 368.8L521.1 363.0L515.9 365.6L509.3 367.6ZM524.3 358.6L524.0 361.1L526.2 359.7L525.1 358.0ZM549.4 84.3L549.6 85.5L551.2 87.4L552.3 90.1L548.8 90.7L549.4 93.7L548.4 96.0L546.5 96.5L546.0 100.8L549.2 100.7L548.3 107.2L547.1 106.8L543.5 107.1L541.8 110.7L543.2 113.0L546.7 114.7L547.3 114.3L548.6 114.4L552.2 117.1L553.0 117.1L553.9 118.3L553.9 119.8L555.5 121.8L557.7 120.7L556.4 117.4L556.5 115.6L559.7 114.7L561.1 112.6L560.2 110.9L554.1 112.6L554.0 112.0L555.2 107.8L560.0 109.2L561.5 106.1L560.8 102.4L562.3 101.5L563.5 99.4L565.5 99.7L566.3 100.3L568.6 99.2L568.3 96.9L567.4 96.3L566.7 94.7L564.6 93.3L564.9 90.7L563.4 89.5L561.0 89.1L560.1 88.5L559.5 87.2L561.3 85.0L561.1 81.3L561.4 80.9L559.6 77.9L554.2 75.3L553.5 75.3L554.1 75.9L554.3 79.4L551.2 78.0L551.2 80.3ZM552.6 75.3L551.2 75.3L551.2 76.8ZM532.6 90.2L531.9 91.1L535.9 94.6L537.5 93.6L537.9 92.6L536.4 90.4ZM543.3 98.7L543.8 96.5L543.5 96.2L539.4 96.6L539.4 99.4L542.1 99.3ZM534.2 101.4L536.4 99.8L534.5 95.8L532.8 96.3L530.3 96.2L529.6 96.6L529.5 101.3L532.6 100.3ZM533.4 104.0L529.5 101.3L529.4 102.7L530.1 105.0L532.8 105.3ZM528.4 109.1L531.8 111.2L533.6 109.3L533.5 108.2L529.5 107.7ZM542.2 118.9L539.8 117.1L538.3 118.3L537.9 119.4L540.0 122.7L541.5 121.3ZM540.6 163.0L542.6 165.6L544.4 165.7L545.1 166.9L548.5 165.2L548.3 163.8L551.3 161.6L549.9 158.7L547.7 158.5L546.4 160.1L543.5 160.3L543.0 162.2ZM523.9 208.2L524.4 209.6L526.8 209.9L527.8 207.1L527.0 205.1L526.2 204.7ZM679.9 142.8L679.5 144.2L680.3 145.6L682.5 143.4L682.5 142.0ZM668.7 141.9L664.3 142.0L663.7 143.0L659.7 143.8L659.3 144.4L660.3 147.3L662.0 148.2L667.3 147.6L669.0 142.6ZM644.2 164.2L642.7 162.3L642.1 162.0L642.1 159.3L641.3 157.5L640.0 156.5L639.6 156.6L638.3 159.3L640.1 163.0L639.7 165.3L643.7 165.9ZM612.2 160.2L610.6 159.6L608.8 160.7L610.6 164.2L611.9 163.7L613.1 163.8L614.4 162.0L614.1 160.2ZM616.7 164.0L615.7 165.5L617.4 168.0L618.8 167.9L620.6 164.7L623.2 166.0L624.2 161.3L621.0 160.7L618.3 159.6ZM631.2 173.8L633.0 172.8L634.4 174.0L637.7 170.8L637.2 170.4L633.1 172.5L632.6 170.2L634.2 167.0L635.3 165.8L634.6 163.4L632.0 162.2L626.8 161.0L626.8 166.0L626.5 166.2L625.2 171.2L628.2 171.0ZM622.9 174.0L620.6 172.0L619.8 172.8L619.7 174.4L620.8 176.7L623.2 177.0L624.6 178.4L626.9 179.0L629.4 177.2L629.6 175.9L625.8 173.5L625.5 172.8ZM605.6 173.0L601.6 173.7L601.0 175.5L602.2 180.0L604.1 180.1L605.3 182.1L605.9 182.2L609.2 180.1L608.9 176.1ZM585.4 193.8L586.2 194.1L586.6 195.4L590.8 194.1L591.8 192.6L591.7 190.5L595.2 188.7L600.2 190.9L600.5 190.6L604.7 190.3L605.4 187.9L603.9 186.9L600.6 189.4L599.3 186.3L595.4 187.7L593.4 185.9L594.0 183.0L593.2 182.7L593.4 179.9L591.2 179.7L590.9 182.6L590.2 183.8L589.8 189.5L586.4 188.7L585.6 189.1L584.2 191.8ZM615.6 185.6L614.7 183.2L611.1 183.0L609.8 186.1L611.9 188.6L614.3 188.0ZM581.5 197.1L575.3 198.2L574.3 197.4L574.5 193.9L578.5 196.6L578.9 195.8L578.6 192.1L574.8 193.1L574.4 193.8L572.4 194.0L572.8 197.5L571.2 197.9L573.5 200.3ZM568.3 200.3L563.2 199.3L561.7 196.8L560.4 196.5L558.5 197.2L557.5 198.3L557.5 199.4L560.9 203.8L561.6 203.5L565.0 204.1L568.5 201.8Z" fill="#f00014"/><path d="M109.6 21.3L111.9 19.0L108.2 15.6L106.6 20.0L108.0 22.0ZM97.1 33.0L101.0 28.8L103.1 28.5L103.4 27.2L101.2 21.8L95.9 22.8L96.2 26.3L93.8 28.3ZM87.1 36.9L83.4 33.3L81.6 34.8L83.8 38.7ZM32.1 65.9L33.5 61.7L36.2 59.0L36.3 57.3L39.0 55.6L39.9 55.8L43.9 60.1L41.5 63.4L42.8 65.7L42.6 68.2L44.9 72.7L45.2 73.0L46.9 71.9L47.6 69.6L51.6 65.0L49.1 62.6L47.9 59.5L51.0 56.0L52.8 52.5L57.0 51.4L57.3 48.5L53.6 43.4L54.1 40.8L53.6 40.4L50.5 44.2L47.4 45.3L51.1 51.5L44.8 51.8L43.9 50.7L34.5 54.2L35.3 57.2L30.7 61.0L30.1 65.7ZM58.2 40.0L54.6 40.5L59.2 44.5ZM81.6 52.2L83.5 56.8L88.9 58.9L92.2 57.9L92.7 53.7L91.1 50.6L92.7 46.5L90.9 42.9L89.8 43.1L83.9 49.8L82.5 50.0ZM154.2 59.3L154.2 60.2L159.6 63.4L161.4 62.6L162.2 61.2L161.9 57.3L162.7 54.5L161.1 53.4L160.6 45.3L159.9 45.2L154.9 47.1L153.5 46.8L150.8 47.9L152.2 53.3L147.7 54.8L148.5 56.4ZM137.0 46.4L134.7 49.1L134.5 54.3L136.9 56.3L142.0 55.2L143.3 54.3L140.2 47.2ZM169.4 63.5L169.1 64.6L171.1 67.8L175.3 68.4L176.3 68.0L176.3 67.3L173.5 62.5ZM34.3 67.3L34.2 71.5L37.5 73.7L39.8 72.6L38.7 68.6L35.7 66.9ZM86.6 66.4L81.4 65.4L79.8 69.9L79.7 74.8L84.3 78.0L85.2 78.0L89.1 76.0L90.8 70.4ZM100.9 93.2L105.2 90.1L109.4 89.9L111.7 88.4L116.1 89.0L117.1 81.9L110.5 76.7L108.7 76.1L106.7 77.4L100.9 76.3L99.1 76.9L98.9 77.7L100.9 84.2L99.9 91.7ZM138.4 98.6L142.5 94.3L139.1 92.5L135.6 97.3L137.7 98.7ZM48.9 104.8L51.4 107.1L53.5 106.7L56.1 102.4L50.7 92.8L49.4 93.8L48.4 98.7L50.5 97.6L47.5 103.7L47.9 105.9ZM163.6 99.2L164.0 102.2L166.7 100.7L167.1 99.5L164.6 98.9ZM191.4 105.6L188.3 103.3L187.4 107.2L190.0 108.8L190.7 108.5ZM138.9 111.1L138.2 106.3L131.7 106.8L133.2 112.5L128.0 116.6L127.8 117.3L128.7 120.7L132.3 122.8L137.9 117.2L137.1 114.9ZM69.7 117.4L68.9 121.6L66.2 124.7L69.7 127.9L71.7 122.9L73.5 122.5L75.3 123.1L75.2 115.2L71.4 113.9ZM141.8 119.1L140.2 125.3L143.8 124.7ZM100.5 125.1L99.5 126.7L100.3 131.2L105.7 135.2L107.3 129.2L106.6 126.7ZM50.6 129.1L52.1 139.8L52.5 140.3L57.8 137.6ZM152.7 138.3L155.4 134.0L155.3 132.2L148.7 135.2L147.9 138.3L148.4 139.0ZM161.4 139.8L163.9 136.8L164.0 135.2L160.8 135.4L159.9 136.7L153.5 138.6L154.5 139.6L161.5 140.2ZM168.1 138.4L168.1 139.5L170.5 139.2L170.9 139.6L172.1 138.0L170.0 136.5ZM52.1 141.3L51.6 142.1L51.6 144.4L53.5 142.9ZM190.4 152.2L188.1 151.7L187.3 156.0L192.0 156.5L191.6 153.5ZM178.7 155.8L177.0 154.1L176.4 154.2L175.1 156.6L177.4 157.8ZM191.2 165.5L195.0 166.1L195.9 165.9L193.8 162.2L191.2 162.8L189.9 161.4L187.1 163.6L189.9 165.6L189.8 166.0ZM175.3 190.7L176.9 188.7L176.2 187.0L173.9 186.9L173.3 187.5L173.3 190.2L172.8 191.0L175.1 194.2L176.9 192.8ZM179.8 195.6L175.0 197.8L176.3 198.8L179.3 198.8L181.7 197.4L181.8 196.9L184.3 197.5L187.0 196.4L188.9 196.9L189.5 195.9L187.1 192.9L185.6 193.4L181.6 196.5ZM174.9 197.8L174.0 195.9L172.8 195.5L170.5 196.4L169.6 198.4L170.7 199.1ZM176.6 259.5L175.6 259.2L169.8 262.2L173.0 264.6L170.5 268.4L173.2 269.3L175.8 266.3L174.0 264.7ZM159.1 269.7L158.9 269.2L154.0 267.3L152.9 267.5L153.9 268.5L155.2 273.7ZM186.2 291.9L190.6 290.7L190.4 286.7L188.5 284.9L185.2 289.0ZM201.0 300.9L198.3 296.5L197.8 296.8L196.7 300.9L197.9 302.8L196.1 305.4L199.0 307.9L201.9 305.3L200.8 303.4ZM150.4 320.3L146.3 317.6L142.7 318.3L143.2 322.3L145.9 323.9L145.0 330.7L149.2 329.1L154.7 331.5L151.6 336.8L144.1 331.2L143.5 335.9L148.9 339.7L148.6 340.9L151.7 340.8L152.4 341.4L154.3 341.4L157.3 338.3L161.5 338.6L158.3 332.9L158.3 332.2L156.4 331.0L156.6 329.1L161.6 326.5L162.1 324.1L159.1 323.2L158.1 320.3L159.8 318.1L159.5 317.2L154.1 313.8L153.6 314.1L152.8 315.7L152.9 316.5L151.6 319.9ZM138.1 315.3L137.0 315.9L137.7 318.3L137.1 322.0L137.5 322.0L139.5 316.6ZM155.2 351.0L153.1 351.7L154.1 357.7L158.0 358.0L159.3 356.3L158.7 354.4ZM197.2 353.8L192.4 350.5L191.7 350.5L190.9 352.3L191.6 358.1L193.8 359.1ZM141.5 388.4L142.0 381.3L137.0 384.4L138.7 385.8L140.4 389.8ZM183.2 449.8L188.2 442.6L187.2 440.8L181.7 439.1L180.0 444.5ZM172.3 464.9L174.1 466.2L176.3 465.7L177.2 458.9L175.8 458.2L170.1 462.7ZM194.3 462.7L201.1 466.8L205.3 463.3L198.5 456.6L197.3 456.7L194.8 459.5L193.9 461.9L190.2 461.7L187.2 469.8L190.4 472.1L191.2 471.3ZM184.9 501.7L187.1 495.1L185.7 490.2L181.2 489.3L179.5 491.1L179.2 493.1L181.2 499.2L182.8 501.4ZM197.7 511.6L200.9 510.5L201.2 507.8L198.7 504.5L195.1 507.5ZM217.5 25.2L219.2 24.3L215.7 23.4L213.1 20.8L210.5 23.3L211.7 25.2L211.4 27.6L216.5 33.1L218.9 30.6ZM241.3 52.2L242.6 56.8L246.0 56.5L246.0 52.2L250.4 49.2L251.5 49.3L252.8 45.4L252.3 43.9L249.5 41.5L247.0 40.5L243.7 41.3L241.7 40.0L240.6 41.4L238.6 47.0L238.5 50.9ZM307.1 46.5L309.9 45.6L310.3 43.9L307.0 41.0L305.6 42.4L302.4 42.1L301.1 46.7L302.8 46.7L305.7 43.7ZM296.4 48.5L295.8 42.0L291.5 41.4L287.9 45.1L293.4 49.2L296.2 48.9ZM266.8 58.5L269.7 54.6L268.5 51.4L267.2 50.6L266.1 49.3L265.1 44.1L259.8 46.7L259.9 48.7L258.4 51.7L260.7 53.4L262.8 58.4L265.5 59.3ZM308.1 49.6L306.7 48.6L303.1 50.2L302.6 54.3L305.2 53.0L308.3 53.4L308.8 51.5ZM298.1 66.1L303.0 64.4L304.2 64.4L304.2 60.8L307.5 60.5L307.9 59.1L307.4 57.1L303.3 56.0L302.6 57.7L298.3 59.5L296.4 62.3L295.7 65.4ZM287.5 54.4L283.7 55.9L283.9 59.7L288.0 65.3L289.3 65.3L290.5 57.0ZM297.6 78.7L302.6 79.6L304.1 77.2L303.9 76.5L298.0 74.4L297.1 74.7L295.2 76.4ZM265.2 94.6L268.0 92.8L268.0 90.2L262.1 89.2L263.4 93.7ZM275.2 94.1L274.8 94.0L270.8 98.0L272.6 99.0L275.4 98.8L275.9 96.4ZM208.1 96.6L207.5 97.5L209.7 100.6L213.0 97.7L211.1 95.9ZM242.9 105.4L246.6 103.1L241.2 101.3L240.5 100.6L239.7 101.4L239.8 104.8L241.1 105.6L241.9 105.2ZM276.6 104.9L280.7 104.7L280.8 104.2L276.6 102.1L276.3 102.6ZM210.5 117.0L213.1 115.9L213.9 113.8L212.1 111.6ZM214.7 121.5L217.2 120.5L217.1 116.3L215.1 116.8L213.8 119.5ZM298.5 117.3L297.6 119.4L301.9 121.6L303.9 118.7L301.9 116.8ZM203.5 118.2L208.8 123.7L209.3 123.4L209.1 117.9ZM281.9 125.9L282.4 125.6L281.0 123.5L278.7 122.5L278.2 125.5ZM253.4 130.8L254.7 129.2L254.6 126.2L254.3 125.5L252.0 125.5L250.8 129.4ZM258.7 140.6L258.5 139.2L254.4 138.1L253.1 138.6L252.0 141.0L252.9 142.4L257.0 142.2ZM264.8 147.6L264.2 148.2L264.8 153.0L265.1 153.1L266.7 149.6ZM299.7 150.8L296.4 151.1L296.2 151.4L296.6 152.4L301.5 153.7L302.9 149.9L302.1 148.8L300.9 148.9ZM262.3 155.5L260.6 155.6L259.2 156.8L259.4 157.5L260.7 158.5L264.4 159.3L265.6 158.6ZM277.5 155.9L273.8 155.6L273.0 160.7L273.5 160.8L278.6 157.9ZM213.4 165.9L211.3 161.9L210.0 161.3L209.2 164.6L209.8 167.3L210.4 167.8L211.8 167.7ZM281.7 170.2L279.5 170.7L278.4 172.8L278.3 173.3L280.5 175.3L286.0 173.3L285.9 172.4L282.8 171.5ZM304.7 187.2L307.5 185.2L308.0 183.4L307.6 182.1L302.7 180.3L302.5 178.3L298.7 179.0L298.9 183.3L300.5 183.1L302.7 186.5ZM206.4 183.4L207.6 182.6L206.4 178.9L203.2 181.3L203.2 181.8ZM228.8 184.7L234.9 182.5L232.5 178.5L230.6 178.6L229.1 179.4L226.9 182.4L227.8 183.9ZM237.6 197.1L241.0 195.3L241.3 193.5L239.9 192.5L235.5 192.5L236.3 190.4L238.0 189.3L238.8 189.4L240.2 187.9L240.1 186.3L241.4 185.5L241.2 182.6L239.5 181.8L235.9 183.0L236.2 184.2L235.6 186.0L234.3 187.5L232.9 192.2L235.0 192.9L235.5 194.7ZM298.4 183.5L295.5 186.9L296.1 188.1L297.4 188.3L298.7 187.0ZM209.1 189.5L210.4 188.6L210.2 188.2L206.1 184.8L204.0 187.2ZM252.1 184.0L250.4 186.1L253.2 190.9L256.3 189.7L255.9 185.1ZM203.3 192.0L207.9 191.9L208.1 191.0L202.7 188.9ZM240.7 201.9L243.3 205.1L245.8 203.0L245.9 202.3L242.3 200.6ZM212.2 210.5L213.5 208.1L211.0 206.9L210.5 207.3L210.3 209.9ZM302.5 211.1L302.4 209.1L299.7 208.9L300.4 212.8ZM282.4 215.1L285.5 217.9L286.1 217.9L287.8 216.1L289.0 213.4L288.3 211.8L283.0 213.1L282.3 214.2ZM305.8 215.7L309.5 216.3L308.6 214.3L309.9 210.9L307.1 209.7L305.2 212.6L301.7 216.4L300.1 215.8L299.4 221.3L300.3 222.2L301.0 222.4ZM245.9 219.0L245.6 217.7L244.4 216.8L242.5 217.3L240.7 220.9L241.4 221.6ZM235.3 223.7L235.3 221.7L232.7 221.6L229.7 223.6L230.0 225.3L231.6 226.2ZM263.6 264.9L263.4 269.9L265.9 272.3L267.0 272.3L271.4 269.7L270.0 267.2L266.7 264.3ZM214.2 281.9L212.2 281.9L209.8 284.4L210.8 288.1L213.4 289.2L215.9 287.1L216.0 283.9ZM212.6 306.0L214.3 305.4L215.0 301.3L211.0 299.0L208.5 299.6L206.8 303.3ZM203.2 317.5L204.0 319.7L205.1 321.2L210.3 322.8L212.9 317.9L208.3 315.7L204.6 316.5ZM239.0 342.5L243.7 346.7L247.1 342.5L238.9 341.3ZM280.5 353.3L281.2 351.1L278.6 349.3L277.4 349.0L275.7 350.1L276.2 356.7ZM264.3 358.3L266.2 361.8L268.3 362.7L269.2 370.2L270.1 371.1L270.9 370.8L272.9 365.0L269.4 362.6L271.6 360.2L272.1 356.9L271.1 356.1L266.6 356.2ZM279.1 374.6L280.4 373.9L280.4 367.6L279.6 367.6L273.5 371.1ZM237.6 374.3L238.1 372.3L236.3 370.2L232.8 370.1L234.7 377.2L236.1 376.9ZM289.9 386.9L285.3 382.0L275.9 388.6L286.9 390.0ZM215.3 416.7L208.8 415.1L206.0 417.4L206.0 419.4L215.4 421.1L215.8 422.1L219.4 424.1L221.4 422.5L223.1 420.0L225.9 417.6L227.1 415.9L233.1 422.7L236.6 423.0L238.0 417.7L240.9 414.0L244.3 411.9L244.6 410.4L244.1 406.3L237.3 403.9L238.4 396.6L237.5 395.1L229.2 394.8L228.9 395.0L222.9 393.3L220.3 393.5L218.9 394.6L217.5 396.3L217.4 401.7L218.8 402.5L220.0 405.1L219.8 410.9L218.0 411.8L216.6 415.2ZM295.4 420.2L294.7 416.1L290.2 410.6L287.0 413.8L287.7 420.0L291.5 422.1ZM222.2 439.1L223.4 442.7L222.1 443.1L219.5 446.2L221.8 446.8L226.5 445.1L226.3 444.6L228.8 438.8L231.2 438.2L232.9 434.1L235.0 432.0L230.2 428.9L223.5 432.3L223.5 434.2ZM280.6 434.9L275.5 435.8L275.5 441.5L279.4 445.1L289.1 450.8L289.5 448.4L290.8 446.1L288.7 442.3L283.1 442.5L283.7 439.7ZM216.3 450.2L216.0 447.7L208.0 447.6L206.3 450.0L213.2 452.9ZM247.1 466.2L242.7 468.3L242.7 471.3L245.3 474.4L249.0 475.2L251.1 472.0ZM217.0 474.8L218.0 471.6L210.6 469.8L208.0 473.5L207.9 474.7L210.6 478.2L215.5 478.5L216.2 479.4L221.2 479.4L224.1 477.9L224.1 477.3ZM253.7 499.8L257.2 502.9L260.4 499.9L258.9 497.1L259.7 495.7L258.7 493.2L259.4 491.9L258.7 488.3L255.4 485.8L248.9 491.9L251.7 495.1ZM297.7 489.9L297.1 492.6L305.1 491.9L305.1 488.2ZM234.0 490.0L233.2 490.9L228.1 490.5L229.1 496.3L232.4 497.9L233.6 496.7L240.0 496.8L241.7 496.1ZM232.8 504.5L232.5 503.9L224.8 501.1L223.1 500.9L223.0 503.0L226.6 507.2L230.3 507.3ZM216.8 513.9L221.7 509.9L220.6 506.6L216.2 506.2L215.0 507.9ZM217.2 521.4L214.7 518.9L212.7 518.6L204.9 519.8L204.1 520.5L203.9 521.3L207.4 529.5L210.8 528.8L214.5 530.5L215.6 529.8L218.2 523.4ZM340.2 37.6L341.4 41.7L342.6 42.4L341.8 45.2L340.6 46.1L339.3 45.3L338.1 43.2L338.7 42.2L337.1 38.4L336.7 38.5L334.1 42.6L334.5 43.7L333.2 47.2L333.1 50.9L335.7 52.6L335.9 53.5L338.8 55.6L340.1 52.1L339.4 49.9L340.5 48.7L343.0 49.1L345.9 47.7L347.0 48.9L351.4 48.5L350.1 44.6L351.6 42.9L350.8 39.5L354.2 38.2L354.9 38.4L355.9 42.6L356.3 43.0L358.4 42.9L359.9 40.9L359.6 35.5L356.2 36.6L349.3 40.0L342.0 35.3ZM332.7 32.1L330.3 29.4L329.4 29.0L326.5 31.7L327.2 33.4L332.6 32.1L328.6 35.9L327.6 36.1L327.1 38.6L331.5 38.9L333.4 36.9ZM322.5 34.4L323.2 34.1L324.9 31.5L323.9 29.4L322.7 29.5L320.5 32.9ZM321.1 48.1L326.3 47.4L327.5 48.0L330.6 46.9L329.4 42.1L327.4 41.7L326.7 39.1L323.4 38.7L322.5 35.6L320.6 36.6L319.0 38.5L319.2 39.7L318.8 40.2L320.1 43.8L318.9 44.9ZM316.5 51.9L319.3 51.3L320.4 48.8L316.9 47.4L316.2 49.1ZM363.4 51.5L360.6 51.1L359.5 54.0L363.3 55.0ZM365.0 72.7L364.3 69.8L366.7 69.3L368.0 70.1L368.4 71.5L370.0 73.0L371.9 70.4L373.3 70.3L374.7 71.2L378.4 72.1L378.9 70.2L378.6 68.6L381.6 66.0L380.4 63.3L381.6 60.4L377.5 61.3L376.2 59.9L373.4 60.1L371.2 61.6L370.8 61.5L370.3 61.0L369.9 55.5L368.6 55.1L367.4 52.3L363.5 55.2L363.9 56.4L363.3 57.8L363.6 59.0L361.2 61.5L360.6 61.2L357.5 62.8L357.3 63.5L359.1 65.2L359.1 69.0L360.1 69.5L361.8 69.3L363.9 74.7ZM332.0 61.1L328.7 62.1L329.2 64.9L330.4 65.5L332.2 64.4ZM311.0 71.2L312.1 74.0L315.3 76.6L313.3 78.7L313.4 80.5L316.2 81.3L317.5 78.3L316.9 76.7L320.9 75.6L321.1 74.8L319.9 73.3L320.8 69.1L320.1 65.6L316.1 65.9L315.1 64.6L313.4 64.5L312.5 66.2L311.8 66.5L309.2 66.2L308.0 68.5L308.5 69.4L310.1 70.1ZM357.7 74.9L358.8 77.8L360.5 78.7L360.3 80.8L359.8 81.9L362.5 85.4L362.7 86.4L362.1 88.4L364.1 90.6L365.3 90.6L368.0 87.8L370.0 90.3L371.7 89.9L373.1 90.3L376.6 88.3L377.5 90.6L381.4 90.6L381.6 88.8L378.0 87.1L377.6 84.2L381.5 82.3L382.9 82.6L383.2 82.2L382.3 77.1L378.9 79.2L378.9 79.6L376.3 82.2L374.6 81.6L373.5 82.2L371.9 82.1L371.3 81.1L369.0 80.5L367.5 81.8L365.7 81.6L365.5 80.8L362.4 77.5L363.4 75.4L359.6 74.1ZM310.3 79.7L311.9 77.8L310.7 75.8L309.2 76.3L308.5 77.1ZM342.7 77.8L340.3 78.3L340.7 79.4L344.7 80.7L344.9 79.3L346.5 77.4L346.8 76.4L345.2 76.4ZM354.6 84.0L355.0 86.6L356.9 86.9L357.6 86.2L358.6 82.2L356.7 82.0ZM321.8 84.5L321.7 86.1L323.1 87.9L326.3 87.0L326.9 83.1ZM334.7 114.6L335.5 115.3L339.0 114.8L339.4 112.9L337.0 110.9L335.8 111.5ZM361.6 120.4L363.5 119.1L363.9 116.4L360.5 116.3L359.5 118.7ZM307.9 133.7L307.9 134.6L308.5 135.6L308.3 137.2L310.8 140.7L312.9 139.3L310.4 136.0L312.5 135.2L313.2 133.6L309.8 132.7L313.0 130.5L314.2 132.9L315.4 133.1L317.4 131.1L317.2 130.2L317.9 128.0L314.1 125.7L315.0 125.0L315.1 118.9L312.8 119.6L312.5 121.9L314.1 125.8L313.0 126.6L312.7 128.3L309.8 129.2L308.9 132.8ZM330.6 127.6L330.3 129.1L336.3 129.6L334.9 125.5L333.1 125.8ZM321.5 141.9L323.3 141.5L325.0 141.8L330.3 139.6L331.5 137.2L329.0 135.3L330.3 130.2L330.0 129.7L327.5 130.2L326.9 131.4L326.7 135.1L325.9 135.6L323.2 135.5L322.8 137.7L319.7 138.2L318.7 137.2L317.7 138.3L318.5 141.9L320.0 141.6ZM353.5 154.6L350.3 153.7L348.9 153.7L347.0 155.6L350.2 158.3L348.4 162.1L351.7 161.9L352.9 159.8L354.1 159.5L354.1 156.5ZM313.3 162.3L310.7 163.3L311.4 165.5L315.5 165.2ZM342.3 171.2L346.3 168.3L343.8 166.0L340.2 169.7ZM329.5 173.7L331.4 174.6L332.7 172.4L331.1 170.9L328.8 171.4L328.5 172.6ZM336.5 183.6L338.5 183.1L339.5 180.9L335.3 179.8L332.4 182.5L335.2 184.5ZM312.0 192.3L315.0 192.4L315.8 191.0L312.5 187.2L310.8 189.6L311.0 191.1ZM341.3 195.8L339.2 200.8L339.4 201.8L343.0 202.0L346.0 197.0ZM329.6 205.9L329.9 203.8L328.6 201.8L331.5 199.9L328.4 196.9L327.3 199.5L328.3 201.7L327.0 202.5L324.8 202.9L324.3 204.4L327.0 205.3L327.8 206.2ZM316.8 201.7L313.3 203.8L313.3 204.7L310.5 206.0L311.5 210.1L312.1 210.1L314.9 207.0L314.3 205.9L317.7 203.6ZM317.6 209.4L319.2 210.3L320.0 210.1L320.4 204.7L319.0 204.8L316.5 207.6ZM335.8 212.6L333.9 213.5L333.1 215.9L337.3 216.7L338.7 214.9L337.4 212.6ZM328.8 254.7L330.2 256.5L332.0 257.0L334.5 253.1L335.4 253.5L337.1 255.3L340.9 255.7L344.4 251.5L345.9 250.9L346.1 248.3L342.7 246.6L341.7 246.9L339.4 245.8L338.0 248.2L332.6 249.0L331.5 250.1ZM308.1 265.8L309.4 262.2L304.8 261.2L303.4 262.6L305.5 265.3ZM360.1 312.0L364.4 309.3L364.1 307.7L370.1 303.4L366.8 301.0L363.0 303.0L362.2 304.7L358.5 304.9L356.9 308.0L356.9 310.8ZM360.2 312.6L359.2 316.7L362.0 317.6L363.6 315.7ZM346.0 322.6L345.3 329.1L349.6 330.3L351.7 327.6L350.2 325.5ZM321.4 331.8L324.4 330.1L322.1 325.1L320.4 325.7ZM321.0 406.5L322.2 408.5L329.2 407.5L328.1 402.1L326.0 402.4L325.6 400.9L322.9 397.8L319.4 405.4ZM322.3 428.4L321.8 428.0L311.0 426.7L309.9 430.1L312.4 433.8L322.7 430.1ZM326.5 439.8L331.1 445.7L335.8 442.7L336.5 439.4L333.2 437.2ZM317.3 458.0L315.4 462.3L315.9 462.9L321.2 466.9L325.6 462.1L326.2 455.5L321.8 454.4ZM354.0 475.5L352.7 482.1L361.6 481.7L363.5 474.9L357.5 473.4ZM369.0 34.7L369.9 34.3L365.7 34.3L364.4 35.2L366.4 38.7L367.1 38.5ZM372.7 39.0L376.3 39.6L377.0 40.7L380.2 41.2L380.9 42.6L378.4 44.7L379.6 47.0L379.5 48.3L377.7 50.0L377.8 51.3L380.2 52.2L380.5 55.6L379.8 56.1L379.9 58.0L381.9 60.1L384.1 56.5L387.4 57.5L388.5 55.0L387.2 53.1L383.7 54.4L382.8 51.9L384.3 49.1L385.1 48.5L387.3 51.0L392.1 50.8L392.2 50.1L388.8 46.3L388.2 46.1L388.6 44.5L388.3 42.3L383.7 42.3L376.8 37.8L370.6 34.7L371.8 36.0L372.1 38.2ZM367.2 45.6L368.2 43.6L364.6 41.3L364.0 43.1ZM405.3 47.4L403.6 48.9L401.7 48.5L399.1 52.5L399.3 53.0L403.5 55.7L401.3 57.4L398.2 61.9L397.9 61.8L395.5 64.3L392.4 63.9L391.1 62.0L390.4 62.3L389.4 63.4L390.7 66.9L387.8 70.3L391.2 71.1L392.0 72.2L395.0 70.6L395.5 68.2L398.7 66.8L398.3 61.9L401.7 64.0L401.4 67.1L402.5 68.6L402.5 69.2L399.4 70.5L401.7 74.6L402.8 69.5L404.4 70.2L403.0 74.5L399.3 75.5L398.4 78.0L398.9 79.1L400.9 81.3L404.0 81.0L404.4 78.9L405.9 76.4L406.7 76.2L409.3 78.3L408.1 79.1L407.6 81.2L404.9 83.9L402.5 89.8L404.3 90.6L406.8 89.5L410.9 91.6L411.2 94.0L410.7 102.1L411.8 103.0L410.3 106.3L412.4 107.8L414.2 108.1L416.3 109.6L419.7 109.0L421.0 111.3L419.4 113.2L420.1 116.8L419.0 117.7L418.7 119.2L421.7 120.4L423.5 118.1L422.8 116.0L423.2 115.4L425.2 115.2L426.6 116.6L425.2 119.2L425.3 119.6L422.9 122.2L423.4 123.5L420.7 126.2L421.8 128.0L419.4 132.9L420.5 134.0L419.4 137.5L418.8 138.3L419.2 140.9L422.5 142.4L423.3 141.7L425.4 141.4L426.6 143.4L428.7 143.5L429.7 143.1L430.4 141.9L433.4 142.2L434.8 139.5L437.7 139.1L439.3 140.2L442.0 138.6L440.1 135.3L440.9 134.7L440.3 129.7L440.7 129.6L442.3 126.4L440.0 124.0L438.6 119.1L435.3 119.4L434.9 122.0L431.2 122.6L430.1 120.0L429.3 119.6L429.3 117.2L430.8 115.2L431.1 111.9L432.8 111.3L434.5 107.4L433.5 105.5L431.6 105.7L430.2 107.3L427.6 107.3L426.8 106.0L425.5 106.0L424.0 102.4L425.0 102.0L427.0 102.7L427.6 103.9L430.3 104.4L430.5 102.5L429.9 100.9L432.7 100.7L433.6 101.2L436.0 98.5L434.0 96.3L434.3 94.7L432.7 91.5L436.8 89.2L440.8 87.4L441.5 88.4L441.7 92.4L444.9 89.3L444.3 86.6L445.6 84.7L446.3 82.6L451.5 85.3L452.9 84.5L453.5 80.5L452.8 79.6L449.8 79.8L446.3 82.5L445.5 81.8L445.6 78.3L446.6 77.0L451.6 74.9L448.1 72.2L449.0 69.6L451.9 68.8L451.5 65.8L451.8 65.4L454.8 66.6L454.6 69.4L455.3 70.0L456.6 69.6L457.9 68.3L461.5 69.8L462.9 67.0L458.3 66.8L458.1 65.9L458.8 64.7L443.4 59.3L443.1 61.3L440.6 61.5L439.4 61.0L439.5 57.4L440.6 57.1L441.4 52.2L440.8 48.6L440.2 48.0L440.0 46.1L436.8 45.7L435.4 46.1L434.9 45.4L432.2 45.1L426.1 43.1L418.9 39.4L420.1 40.8L420.1 42.0L419.1 42.8L415.6 43.1L415.5 42.1L414.2 40.8L411.1 42.3L405.0 43.4L404.6 45.1ZM425.3 80.1L427.0 83.0L427.2 84.2L426.5 85.0L422.7 82.7L423.1 80.4ZM428.2 68.8L429.6 67.6L433.1 68.4L433.5 69.4L432.5 73.4L433.3 74.9L432.7 75.7L429.1 77.0L427.7 77.1L426.8 75.5L428.4 72.9L427.8 70.3ZM425.6 62.8L424.3 67.0L420.0 63.3L422.7 61.9ZM416.8 47.7L415.6 48.5L414.6 48.1L413.5 46.6L413.2 45.1L415.5 43.5L418.6 46.0L419.2 46.8ZM416.5 51.3L417.8 51.3L418.8 51.9L419.3 55.1L418.4 55.8L415.9 55.0L415.3 52.4ZM414.3 97.3L417.2 97.3L417.9 99.2L417.6 99.7L414.1 100.1L413.3 98.9ZM416.4 86.1L418.6 87.8L419.4 90.7L418.7 91.8L414.9 93.2L413.9 89.6L413.5 88.9ZM432.3 126.0L432.1 128.6L426.6 127.4L426.3 124.8L427.2 123.8L430.7 123.9ZM438.8 77.1L439.6 75.4L442.8 75.1L443.0 78.2L442.6 78.5ZM438.8 73.0L437.5 72.6L436.4 70.8L438.7 68.7L441.9 69.8ZM466.9 69.7L467.0 71.1L470.4 69.2L471.7 70.0L472.9 70.0L473.8 70.7L475.0 68.5L468.9 68.5L463.6 66.5ZM367.5 51.0L368.2 50.8L369.6 47.8L369.0 46.7L367.2 45.6L366.5 46.4ZM370.7 51.3L370.4 55.3L373.2 55.0L373.7 52.7L372.2 50.8ZM389.2 79.6L392.2 78.3L393.0 78.6L395.2 78.0L396.1 74.6L395.7 74.1L392.5 74.6L391.9 73.5L387.4 74.2L387.6 78.2L388.4 79.3ZM386.2 102.3L388.3 104.7L389.1 104.7L389.7 104.2L390.0 102.0L392.3 101.3L393.4 99.9L395.2 98.9L398.2 95.6L399.4 96.3L400.8 96.6L401.9 89.8L398.2 90.7L397.4 91.6L393.0 89.9L392.2 90.7L389.4 89.4L388.5 90.5L391.5 93.4L390.0 94.9L389.7 96.8L390.1 97.1L390.5 98.8L389.7 101.6L388.4 100.9L386.6 101.4ZM382.0 97.4L383.0 97.3L384.0 95.7L385.1 95.3L386.4 92.9L386.3 91.5L381.7 92.3L381.2 93.4L380.0 93.9L380.2 95.6L378.0 99.5L378.8 99.4ZM374.7 134.4L371.6 134.1L371.3 137.1L374.7 137.5ZM402.0 146.8L401.7 146.3L398.8 147.0L398.0 148.4L401.3 151.4ZM410.5 168.4L410.8 167.8L410.1 166.1L410.6 163.3L412.2 162.6L413.9 158.7L411.8 156.2L408.9 159.6L410.5 163.3L406.2 162.9L404.7 163.7L404.5 164.8L405.7 165.8L406.2 168.4L408.0 168.6ZM393.3 184.1L392.6 181.0L389.8 183.0L389.6 183.8L390.2 185.9L391.8 185.5ZM410.0 203.2L409.9 202.7L406.5 201.2L407.0 199.6L404.3 197.8L403.6 198.1L403.0 200.5L401.2 202.5L401.5 203.6L406.0 203.2L408.2 206.3ZM374.9 226.7L376.9 225.3L376.5 224.1L373.5 222.3L372.1 222.8L372.2 223.9ZM394.2 252.2L400.6 251.4L401.4 250.4L398.5 246.6L393.8 251.3ZM410.3 380.9L407.0 390.2L407.4 392.1L404.5 393.6L405.5 399.8L407.1 400.7L407.6 400.6L409.6 396.3L408.9 392.8L413.3 391.8L416.4 389.4ZM361.2 438.8L364.4 438.3L366.8 436.5L367.0 432.3L363.2 430.8L359.7 436.6ZM375.3 448.8L376.6 447.9L381.6 443.1L382.1 441.1L379.6 440.2L376.0 441.0L374.4 439.9L370.2 444.7L372.1 448.3ZM413.5 136.2L414.5 134.4L409.4 131.7L409.8 134.8ZM413.6 137.4L412.4 138.5L412.4 142.0L413.0 142.6L415.6 141.4L417.7 144.1L419.1 141.2L415.6 141.3L415.9 138.9ZM425.9 147.4L422.7 145.8L420.0 149.5L420.5 150.0L418.8 153.0L419.3 154.2L422.4 153.6L422.2 156.9L425.6 156.3L425.7 154.3L425.2 153.4L425.5 152.8L428.9 151.3L427.5 147.6ZM423.5 160.7L421.5 164.4L420.3 164.5L420.1 168.4L422.6 168.3L423.1 167.9L427.9 169.5L425.9 164.0L426.1 163.6ZM416.0 180.1L414.1 181.0L414.3 182.3L412.6 184.1L412.2 186.1L415.2 186.5L416.0 184.2L418.2 183.4L418.5 181.9ZM426.4 237.4L422.0 237.4L421.0 239.7L421.1 240.3L423.7 242.2L426.2 238.4ZM422.7 308.9L422.6 307.2L420.8 306.4L419.2 307.5L420.4 310.0ZM413.8 357.4L412.4 355.0L408.6 356.6L407.4 361.2L408.5 361.7L412.5 360.4ZM439.6 99.6L442.8 98.3L441.2 94.3L437.4 94.0L437.3 97.0L436.3 98.5ZM428.6 170.1L428.9 176.0L427.4 177.2L429.5 180.5L430.2 180.6L431.8 179.9L433.1 177.0L434.0 177.6L438.3 176.8L437.7 174.3L438.2 172.9L441.9 172.1L441.6 174.6L442.2 177.2L440.7 177.7L439.2 182.9L441.6 184.1L444.1 181.0L445.8 181.2L447.8 182.4L449.2 179.4L451.1 179.2L451.7 177.5L453.0 175.8L452.2 174.8L449.8 173.6L446.7 175.3L444.7 172.2L442.7 170.9L442.5 170.1L440.7 169.1L437.8 168.8L436.2 169.4L433.7 172.7ZM429.3 204.4L429.4 206.5L430.9 207.1L432.4 209.3L435.1 208.9L435.0 206.0L436.5 203.0L435.7 200.2L437.5 198.4L437.8 192.1L436.6 190.4L431.5 189.6L430.8 191.7L427.7 192.9L427.8 195.3L428.9 196.3L428.6 199.7L432.5 201.6L432.0 202.9ZM436.5 209.7L437.9 213.5L441.3 212.9L444.2 213.6L444.4 217.4L443.9 217.8L439.4 217.6L437.2 215.3L434.6 218.0L433.1 218.1L430.3 220.6L431.1 222.4L434.3 222.4L436.1 223.5L433.9 225.7L434.2 229.1L431.4 233.9L433.1 238.1L435.2 237.2L436.3 234.7L439.1 235.6L440.5 235.3L441.1 242.0L439.4 241.5L437.5 240.1L434.5 241.1L434.9 244.9L431.5 245.0L430.6 247.0L429.3 247.6L430.2 251.1L433.3 249.3L434.3 249.5L434.2 250.5L437.5 254.2L437.5 254.5L433.1 255.2L431.5 257.2L432.1 258.9L432.2 262.3L428.6 263.4L429.2 267.0L434.3 269.2L435.3 267.0L434.2 263.9L436.9 262.1L438.0 259.3L443.6 259.9L447.4 258.1L448.3 258.4L451.9 254.7L452.5 255.4L455.0 256.3L457.1 253.1L455.8 252.0L454.1 252.2L451.7 254.0L449.3 252.5L448.7 251.8L452.7 249.3L453.1 246.9L452.1 246.5L450.8 243.6L449.4 242.8L448.7 236.8L446.9 237.0L445.8 237.9L444.6 238.2L442.5 235.3L440.9 234.9L440.8 232.8L443.7 229.8L439.1 227.6L439.2 226.5L443.1 225.0L444.9 226.1L446.4 225.6L448.3 228.0L451.6 227.6L452.3 230.6L452.8 231.1L451.7 233.6L450.2 234.1L449.3 235.1L449.1 236.5L451.9 237.7L453.8 236.9L454.3 237.0L454.9 239.9L453.1 241.4L453.1 242.2L455.2 245.2L458.5 245.6L459.8 243.6L457.3 240.9L458.8 239.1L458.7 238.4L460.1 235.7L457.6 233.9L456.8 234.1L452.8 231.1L455.3 229.5L455.7 228.8L458.2 228.1L460.5 229.3L462.8 232.7L466.9 233.3L468.3 230.4L467.5 228.4L468.3 226.9L467.9 223.7L470.3 222.9L472.4 223.1L472.1 220.2L474.1 217.6L475.5 219.2L474.9 223.7L477.4 224.2L478.5 221.2L478.1 219.7L479.4 218.5L480.1 215.8L481.0 214.7L480.6 213.9L479.1 212.8L477.9 210.5L477.3 210.4L475.6 208.7L476.7 207.4L475.9 203.7L476.8 203.0L478.8 206.6L478.4 207.4L478.6 209.4L481.2 208.9L482.0 209.9L483.9 209.9L484.9 208.5L487.8 208.5L488.2 207.4L488.0 206.0L488.4 204.9L491.4 203.6L493.1 204.2L493.3 206.1L492.1 207.5L492.3 210.3L494.3 211.5L494.0 206.6L496.6 207.7L497.3 209.5L499.2 208.5L501.3 204.9L499.1 202.8L500.3 201.1L500.3 197.2L501.8 196.2L502.3 195.4L499.2 192.5L498.3 192.9L496.0 191.3L492.8 192.6L492.1 193.4L489.8 192.8L487.7 188.9L484.9 188.3L482.6 189.3L479.4 189.7L480.2 192.0L478.7 194.0L477.0 194.8L478.5 197.5L476.9 200.9L475.3 200.4L472.7 197.1L469.0 199.1L469.8 202.1L469.7 203.5L473.9 205.6L473.5 207.3L470.5 208.3L468.1 207.7L466.3 210.9L463.4 211.1L462.1 213.9L462.2 216.8L467.1 216.1L467.1 220.3L463.1 219.2L463.0 222.1L460.4 223.7L457.9 223.5L457.7 220.2L457.4 220.0L455.1 219.6L454.0 219.9L453.3 219.3L449.3 220.4L448.1 214.5L449.8 213.1L449.1 210.6L450.5 209.8L451.7 211.1L453.0 210.8L453.9 207.9L451.4 206.8L451.1 207.2L445.2 208.6L441.7 210.3L439.1 208.4ZM435.1 245.2L440.4 245.8L439.8 248.0L437.9 249.5L435.1 248.9ZM477.3 202.0L481.6 201.5L482.0 199.2L481.7 197.2L482.4 196.3L487.3 196.3L488.4 198.0L487.6 200.7L483.8 202.7L482.8 202.5L481.4 205.7L477.0 202.7ZM443.6 245.7L442.2 244.2L445.6 243.5L448.1 244.4L445.9 246.9ZM426.8 213.4L430.8 214.9L432.1 213.7L432.1 209.8L428.4 210.6ZM439.1 340.5L435.3 335.2L435.1 335.1L433.4 337.9L436.3 342.2L438.5 341.7ZM449.9 87.3L447.7 87.2L446.3 88.7L448.6 91.6L449.4 91.6L450.3 90.6ZM449.7 171.4L450.7 169.6L448.8 167.8L446.8 169.4L447.5 170.6ZM448.3 186.8L445.9 187.3L445.5 188.8L447.9 190.1L446.5 192.8L447.2 193.3L450.0 193.4L448.7 190.0L449.5 189.2ZM444.3 192.7L445.0 189.2L441.8 188.5L439.0 191.8L443.4 193.4ZM447.7 202.8L451.1 205.6L453.5 203.5L453.3 200.7L452.7 200.1L455.9 195.8L456.3 200.4L458.0 203.1L456.3 205.6L456.4 207.4L455.1 208.0L455.4 212.3L451.9 213.3L452.5 216.1L456.0 215.2L456.6 213.3L457.1 213.0L459.6 208.6L460.6 208.0L458.5 203.4L461.3 203.1L460.0 200.4L460.3 199.2L464.6 198.0L463.6 195.1L461.9 193.7L461.1 191.7L458.2 192.0L455.6 190.1L454.1 191.3L454.9 195.2L454.0 195.3L450.5 193.4L450.1 193.5L449.4 196.9L451.0 197.7L452.2 200.0ZM456.5 265.2L461.0 264.4L462.3 269.5L464.5 270.3L466.7 268.7L465.9 264.6L468.0 261.9L467.4 259.7L466.9 259.5L461.7 261.3L460.7 260.1L457.5 259.0L456.7 259.3L456.1 260.0ZM447.8 338.0L451.5 337.1L452.2 334.3L456.0 333.4L456.7 331.5L456.5 330.7L449.8 329.6L449.3 333.4L447.7 334.5L447.1 335.9L443.0 336.1L441.3 338.9L443.6 340.2L447.8 339.3ZM465.4 92.6L467.1 90.3L470.8 91.1L470.8 88.3L466.7 87.8L466.1 86.5L467.6 84.8L469.5 84.4L471.3 79.3L470.1 78.2L467.3 79.0L465.6 78.3L465.3 76.4L466.8 75.2L470.0 77.3L471.0 74.4L470.7 73.6L467.7 72.0L467.0 71.1L463.2 72.4L462.5 72.3L460.2 74.9L461.7 77.0L459.2 79.6L461.1 80.7L460.6 84.0L461.1 84.4L461.4 88.7L462.1 88.7ZM467.1 111.9L473.3 109.3L473.4 109.0L471.7 107.3L466.3 110.4L466.5 111.5ZM473.2 159.3L472.4 160.5L473.2 161.5L473.0 163.6L474.3 168.4L476.3 168.9L478.4 167.0L482.1 172.7L485.4 170.8L485.9 170.1L486.1 169.0L489.4 168.3L491.4 166.5L490.2 163.9L491.2 162.0L489.1 160.7L486.8 161.5L485.4 159.7L482.9 159.8L481.5 158.1L479.8 158.5L478.8 159.7L479.1 160.6L482.4 163.6L482.8 162.7L486.7 161.6L487.1 164.9L485.5 167.6L482.2 165.4L478.7 166.4L475.5 164.3L475.9 161.3L476.7 159.9L475.9 158.9L475.2 155.8L475.7 155.6L476.8 152.7L476.2 151.0L475.1 150.4L473.6 150.4L471.6 147.3L470.3 146.7L469.0 147.2L469.0 149.8L471.0 152.2L470.8 152.7L472.4 154.9ZM465.0 183.6L464.1 186.1L461.3 187.4L461.8 189.6L468.1 190.4L467.5 187.1L468.7 185.3L468.1 181.4L471.6 179.6L470.4 178.0L470.8 176.5L469.2 172.2L466.4 171.8L465.4 170.9L462.2 172.4L462.1 173.1L457.1 175.4L456.9 176.1L461.5 177.3L461.9 179.5L464.6 180.3L464.3 182.6ZM476.0 190.0L473.9 188.5L471.8 188.7L469.1 191.3L469.6 192.0L474.5 193.6ZM479.8 229.3L478.8 227.6L475.8 228.8L473.7 228.0L471.7 231.6L472.3 232.5L474.0 232.8L475.7 231.6L479.6 230.7ZM477.2 247.3L477.5 243.0L480.1 242.4L482.6 240.2L481.3 237.1L479.3 237.6L478.0 237.4L476.7 237.9L475.0 237.4L473.6 237.8L471.6 236.5L469.5 237.3L468.1 241.0L469.2 241.8L470.3 242.0L472.6 245.8L473.5 245.5ZM472.5 250.7L472.4 246.0L470.2 246.5L469.6 250.7ZM484.2 259.9L484.6 259.7L485.7 256.5L487.3 255.8L488.0 255.0L492.1 257.8L491.4 258.6L488.2 260.4L489.2 267.5L491.8 267.6L496.0 271.3L499.6 271.1L500.5 268.6L500.5 266.4L500.8 265.7L500.3 261.7L503.0 259.9L503.1 258.9L501.9 257.2L496.1 259.6L497.2 256.7L496.5 254.1L495.1 254.4L492.8 255.7L491.7 252.1L493.6 251.0L497.2 252.9L497.5 252.7L498.3 248.7L497.8 248.0L493.7 250.8L493.1 246.8L488.2 246.9L490.4 242.7L493.2 244.7L493.9 244.0L494.3 239.9L496.6 240.0L497.8 240.8L500.5 239.4L501.7 237.5L501.1 235.9L501.2 234.2L499.4 232.2L497.0 235.6L495.8 236.0L494.6 235.5L493.8 236.1L491.4 236.1L488.9 237.8L490.0 241.7L488.2 241.8L484.6 244.7L484.2 245.7L482.7 245.9L481.5 247.1L477.7 248.2L475.0 250.4L473.1 250.9L473.8 255.6L474.2 255.7L476.1 259.1L479.0 258.2L479.6 256.9L482.6 257.7ZM479.6 265.7L481.9 266.6L482.1 261.2L480.6 261.0L479.7 261.8L476.1 262.2L475.9 264.3L478.6 265.7ZM477.3 293.6L476.1 299.2L476.7 299.5L479.5 298.6L480.3 295.7ZM484.7 321.3L482.9 321.9L479.5 321.1L478.9 322.0L479.9 326.2L479.3 326.9L482.5 330.6L481.8 332.6L482.6 334.1L483.4 334.5L483.8 335.3L481.4 339.0L483.2 340.1L485.7 340.3L485.3 336.5L489.5 334.3L489.1 333.3L486.8 331.9L485.7 329.5L481.6 325.8L485.7 324.5ZM480.4 347.9L483.7 347.5L483.6 350.5L485.6 353.7L485.6 354.6L487.2 355.8L492.9 353.2L495.3 353.6L496.3 358.5L499.5 361.6L502.6 363.9L504.1 368.8L507.3 369.2L509.3 367.6L516.4 365.4L524.0 361.1L524.3 358.6L520.6 360.6L519.5 359.6L519.0 357.2L516.8 355.6L518.9 353.2L514.8 351.8L515.3 355.4L511.1 358.2L509.2 358.6L505.2 355.5L503.8 355.1L502.3 355.3L498.2 352.0L498.3 351.6L496.7 347.1L497.7 344.9L497.3 343.6L495.7 342.9L491.5 345.5L488.4 342.0L488.0 342.0L484.6 346.2L481.4 343.2L478.5 343.1L479.4 347.4ZM457.6 370.8L463.0 372.5L464.7 369.5L466.1 368.5L468.0 368.9L470.7 366.4L471.5 364.4L470.9 361.2L467.1 362.1L462.9 359.5L458.7 361.6L459.2 364.5L458.2 367.0L456.6 368.4ZM491.9 101.5L492.8 99.0L498.0 99.7L497.8 97.8L494.8 97.2L492.7 98.2L491.4 96.6L492.2 95.5L493.8 95.0L495.9 92.9L495.6 92.2L491.7 93.6L489.6 91.6L488.6 91.8L489.6 96.7L488.9 97.3L488.9 98.2ZM502.5 93.4L500.0 92.5L497.0 93.7L498.0 96.8L500.4 95.9ZM507.2 119.9L505.4 116.7L504.3 117.1L501.5 117.1L499.9 118.8L503.7 121.7L507.0 120.7ZM498.4 150.5L498.8 151.7L502.1 153.2L505.6 153.6L506.8 155.7L506.6 156.6L504.4 157.3L501.8 154.1L501.2 154.8L502.4 160.8L506.6 161.6L507.6 158.9L509.9 159.5L512.4 159.6L512.7 158.9L516.3 158.7L515.1 156.0L512.5 157.3L511.7 154.7L509.9 153.7L509.1 148.5L507.4 147.1L505.3 150.0L504.1 149.9L502.9 150.4L501.1 149.1ZM495.4 173.6L497.3 175.9L498.1 176.1L500.1 177.7L500.1 181.6L498.4 182.8L496.1 180.5L495.2 180.1L495.0 177.7L491.3 176.4L491.0 177.5L491.9 179.2L494.6 180.3L492.6 183.0L494.5 184.7L493.6 187.3L494.0 187.7L495.0 188.1L497.2 186.1L497.2 184.1L498.4 182.9L500.5 185.9L500.3 188.0L500.8 189.2L503.3 189.5L504.4 191.1L509.2 191.6L509.2 187.7L510.8 186.5L509.1 183.4L508.4 183.2L509.6 180.2L511.9 179.9L512.5 178.4L510.7 175.5L510.8 174.6L506.9 172.1L500.6 169.5L499.1 171.2L497.2 171.3L495.2 169.1L493.8 169.5L492.8 170.5L492.7 171.4L488.9 172.1L490.4 175.5L491.1 175.9L493.4 173.3ZM490.8 182.9L489.1 182.9L488.8 183.6L488.8 187.2L491.9 187.1ZM500.7 213.1L497.6 212.6L498.7 218.4L499.8 218.2L503.9 221.7L507.7 221.5L508.2 220.1L506.2 218.2L507.4 216.9L508.8 216.6L508.1 213.6L504.7 215.0L503.7 215.8L501.8 215.8L501.2 213.6ZM491.8 217.8L491.4 216.6L488.2 214.9L485.5 219.2L485.6 219.8L490.1 222.4L492.3 222.6L491.9 227.5L498.7 228.6L499.4 227.0L500.0 222.4L498.7 221.2L498.6 218.4L496.4 219.0L494.3 217.8ZM485.8 237.0L489.0 233.1L488.7 232.3L491.8 228.5L491.7 227.8L488.9 227.2L488.2 225.8L485.2 224.0L483.7 225.3L484.4 228.2L483.9 229.1L485.6 231.6L484.3 233.5L483.0 233.3L481.5 235.2L481.5 236.9ZM482.4 275.1L483.8 280.2L486.0 279.8L487.2 270.1L487.0 268.7L486.7 268.7ZM489.6 299.1L491.4 302.2L493.8 302.2L495.8 299.3L493.7 296.7L498.0 293.0L497.6 292.2L491.9 292.6L490.5 292.2L487.4 295.6L489.7 298.2ZM490.8 316.5L493.8 320.8L494.3 320.5L499.9 320.8L499.7 309.8L500.3 307.6L496.8 308.9L496.0 308.5L492.9 309.1L491.9 309.6L492.7 313.2ZM495.9 326.1L493.7 320.9L491.3 322.6L490.8 327.6L491.6 328.4L493.1 328.7L495.0 331.4L494.2 334.0L497.0 337.0L497.7 337.1L499.8 340.7L501.8 341.1L504.1 339.4L504.2 338.4L503.8 337.6L500.0 335.3L501.5 331.5L502.5 330.8L502.2 329.7L501.7 328.6L499.0 326.4L498.0 326.5ZM528.7 88.9L529.9 91.8L531.3 91.6L532.6 90.2L536.4 90.4L537.9 92.6L540.0 91.8L541.9 91.7L543.1 90.9L543.9 89.2L545.9 87.5L546.9 87.8L548.0 89.0L551.1 87.4L549.6 85.5L549.4 83.8L548.1 86.4L534.0 87.8L530.2 87.2ZM525.5 98.9L527.2 96.2L526.0 94.3L526.2 92.6L524.4 91.1L521.5 92.4L521.2 94.1L519.1 95.5L519.5 99.2L520.3 99.3L523.0 101.7ZM531.2 113.9L531.7 114.4L536.1 112.8L534.8 110.0L533.6 109.3L531.8 111.2ZM506.0 113.9L505.9 115.6L508.5 116.6L510.5 118.4L511.5 116.2L510.4 113.8L509.6 113.4ZM539.8 117.1L539.6 115.6L537.5 114.3L535.2 116.8L533.6 117.5L533.4 118.7L533.9 120.5L537.9 119.4L538.3 118.3ZM550.8 124.7L553.5 125.0L553.7 128.0L555.7 130.2L558.9 128.7L559.2 128.0L558.2 126.7L554.1 124.8L555.5 121.8L553.9 119.8L553.9 118.3L553.0 117.1L552.2 117.1L548.6 114.4L547.3 114.3L546.6 115.2L548.8 119.1L548.6 120.1L549.3 123.8ZM541.5 121.3L545.3 122.7L545.7 121.0L544.5 117.8L542.2 118.9ZM520.2 129.6L518.3 126.8L515.0 127.9L517.9 131.6ZM541.1 151.5L541.9 152.4L544.6 153.1L545.9 149.2L548.4 149.8L549.5 148.2L552.4 148.3L555.2 147.5L552.9 142.5L550.9 142.8L549.0 142.1L545.5 143.2L544.6 143.2L541.6 141.3L539.4 141.6L538.7 140.3L535.7 139.6L534.7 140.0L533.4 142.5L536.4 145.9L541.6 148.2ZM509.6 141.9L507.3 144.6L507.5 145.2L512.0 144.8L512.5 142.9ZM519.3 152.9L516.6 147.9L515.0 148.1L515.1 153.0L516.4 153.7ZM546.9 154.0L550.1 154.3L550.4 151.4L548.6 150.2ZM521.6 159.3L521.7 156.6L521.0 155.7L517.6 157.8L517.1 158.8L517.8 160.4L521.1 160.4ZM538.7 162.9L537.6 163.5L537.5 164.7L541.1 166.8L542.6 165.6L540.6 163.0ZM534.4 177.2L537.9 175.6L539.9 176.6L539.2 179.7L542.0 181.0L543.1 182.5L538.8 185.0L535.5 185.0L534.4 187.2L534.7 188.5L536.5 189.7L536.5 193.1L537.0 194.4L537.5 194.6L537.8 196.6L536.4 200.4L542.5 202.0L545.1 201.4L546.4 205.0L547.8 205.0L548.6 203.1L551.5 204.3L552.4 201.8L549.9 199.3L548.1 199.1L547.0 198.1L542.7 196.7L541.9 194.3L544.8 190.3L542.5 188.1L544.6 184.5L543.9 182.8L547.4 179.4L546.3 178.2L546.0 176.7L543.0 173.8L543.4 172.7L541.9 169.5L538.8 169.8L537.0 172.3L533.9 174.2L533.7 176.4ZM550.6 192.2L553.8 191.2L554.9 192.3L554.5 193.8L553.2 195.0L553.5 197.3L554.9 198.0L557.5 198.3L558.5 197.2L556.5 192.0L557.2 191.5L557.3 190.9L556.2 188.5L557.7 187.1L556.8 185.7L555.7 184.9L552.5 184.3L551.9 183.0L550.2 181.9L548.1 184.7L549.8 187.4L548.3 189.2L547.0 189.4L545.5 190.4L546.9 192.9L549.4 194.2L550.1 193.7ZM549.9 210.1L551.7 206.8L548.5 205.9L546.9 208.8ZM540.4 210.1L540.5 210.7L544.9 211.7L545.5 209.0L543.9 207.2L542.7 207.5ZM529.1 212.0L532.5 213.7L533.5 213.3L531.8 209.4ZM508.1 213.3L509.6 211.3L508.6 210.6L505.1 212.5ZM545.3 213.3L541.7 213.9L539.8 213.4L538.4 214.4L542.0 216.7L542.4 216.2L545.5 215.9L546.4 214.5ZM540.5 225.5L537.9 227.4L538.1 229.2L539.9 230.3L539.8 233.1L537.7 234.7L537.7 235.7L540.4 237.1L540.2 240.3L543.5 235.6L549.6 233.6L550.5 232.9L550.1 232.1L548.0 231.0L546.3 230.9L544.0 232.0L541.1 230.0L543.0 227.4L543.8 227.9L547.2 226.9L547.4 225.3L545.9 224.2L545.6 223.0L549.0 220.9L549.1 219.9L552.4 219.1L553.8 220.1L557.7 216.3L559.7 213.3L558.2 212.5L557.1 210.2L557.9 207.3L552.4 207.1L554.4 210.8L554.1 211.1L550.2 211.2L548.1 214.5L548.6 215.1L548.7 219.5L546.4 219.2L545.1 217.7L542.6 219.4L541.6 218.7L539.9 218.5L538.6 216.7L538.4 214.4L536.3 213.8L534.6 216.9L535.3 219.3L538.9 220.1L539.1 222.4L542.9 221.4L543.2 221.8L541.5 225.6ZM530.6 226.6L531.9 225.1L528.6 220.4L529.7 217.9L527.2 216.4L524.5 218.7L525.4 220.7L524.5 223.8L526.3 226.3ZM512.2 281.4L514.1 278.5L511.5 276.5L509.9 278.4ZM507.9 345.5L507.5 344.8L507.6 345.7ZM554.1 75.9L553.5 75.3L552.6 75.3L551.2 76.8L551.2 78.0L554.3 79.4ZM561.3 85.0L565.0 84.5L562.5 81.4L561.4 81.1L561.1 81.3ZM587.2 94.0L586.4 91.1L582.8 88.6L581.2 92.4L582.1 93.5L582.5 94.8L584.6 95.8L586.9 95.9ZM569.3 93.2L570.1 95.6L572.9 95.9L573.1 92.5L569.5 92.5ZM575.1 105.8L578.5 104.1L579.5 105.8L579.0 106.8L575.3 107.9L576.5 110.7L575.0 112.3L575.4 116.4L578.8 116.0L580.2 113.6L580.4 109.5L581.1 108.6L582.1 105.6L583.5 105.0L584.3 107.7L586.2 108.6L586.2 112.3L588.1 112.4L590.1 116.9L591.0 117.3L593.2 114.9L591.9 111.5L589.9 111.3L589.2 108.7L591.5 107.4L590.5 105.8L593.1 103.8L590.9 102.7L590.6 102.1L587.6 102.6L587.4 103.1L583.9 104.0L582.6 102.5L580.5 101.9L578.7 102.6L577.9 102.0L578.5 99.7L580.5 99.3L580.9 97.2L577.8 97.1L576.7 96.5L575.1 97.0L575.6 101.4L572.9 103.2ZM592.2 107.6L593.4 109.9L594.2 109.8L594.9 109.2L595.9 104.8L597.5 104.4L598.9 105.8L600.1 105.8L603.4 107.4L604.5 103.1L604.0 102.2L601.1 102.7L595.0 104.7L594.5 104.4ZM562.3 101.5L566.1 102.6L566.3 100.3L565.5 99.7L563.5 99.4ZM565.6 114.2L561.1 112.6L559.7 114.7L559.8 116.6L560.5 118.7L563.5 118.4L565.5 119.4L566.5 115.3ZM582.8 120.0L585.2 117.0L582.9 116.2L581.5 117.1ZM572.1 134.2L570.0 135.7L571.1 137.4L572.7 138.5L572.4 139.2L570.3 140.2L569.7 143.7L573.1 143.0L574.3 143.7L576.8 140.9L575.6 138.6L578.2 138.0L579.9 139.2L582.4 138.8L582.7 138.4L580.5 136.3L580.7 132.3L583.0 131.7L583.6 132.1L585.0 135.7L587.5 134.6L587.9 131.8L587.7 131.0L588.9 129.0L587.0 127.1L585.4 126.7L583.2 129.2L580.7 127.7L580.2 126.6L577.7 126.2L578.5 130.5L578.3 131.3L576.2 131.8L575.2 135.7ZM574.6 130.5L574.9 127.7L571.7 126.0L570.5 127.1L571.1 130.7ZM571.1 154.5L572.7 153.9L578.0 154.3L579.3 157.6L578.5 159.4L578.9 159.9L578.0 164.1L575.2 163.8L575.1 159.8L571.0 154.7L565.3 158.3L565.9 159.9L565.8 161.5L562.3 164.0L562.8 165.6L564.9 165.8L566.5 164.4L570.1 166.1L571.8 166.4L572.4 168.1L575.1 169.7L576.9 168.1L580.8 167.3L581.6 172.7L584.2 172.4L585.2 169.2L581.0 167.0L581.1 165.8L582.0 164.7L588.2 166.8L590.2 165.2L589.1 162.1L586.2 160.5L586.1 160.0L583.4 159.0L584.1 154.5L582.4 154.9L580.0 153.9L582.6 151.7L580.4 150.2L581.0 147.4L580.1 146.7L575.7 147.2L575.4 147.8L571.5 148.2L570.9 152.4ZM565.8 152.2L565.6 151.5L563.6 150.3L561.5 151.4L560.6 158.0L562.8 158.5L564.9 158.2L564.3 154.5ZM554.9 161.9L552.7 166.1L554.0 167.9L554.6 168.1L557.3 166.6L557.3 163.9L559.6 162.5L559.8 159.0L555.3 161.1L554.5 157.4L551.2 157.4L549.9 158.7L551.3 161.6ZM554.1 175.7L558.1 176.0L558.1 178.0L560.4 179.9L562.8 179.5L563.6 178.5L563.8 177.9L558.9 175.6L559.6 174.5L562.0 173.5L562.8 171.1L564.2 170.3L562.8 167.4L560.3 169.6L559.8 169.5L558.9 171.0L555.8 171.4L553.0 173.7ZM574.8 182.7L577.9 180.7L579.6 181.4L580.7 187.2L578.0 189.6L575.5 188.3L574.1 190.8L573.1 190.7L570.5 192.7L571.5 193.9L569.6 197.9L569.0 198.2L566.1 193.9L568.4 191.5L568.4 190.5L566.8 188.0L564.7 188.0L563.2 186.6L561.1 186.0L559.7 187.5L559.9 188.7L560.7 189.8L560.2 192.8L563.6 191.6L565.7 194.0L561.7 196.8L563.2 199.3L568.3 200.3L568.5 201.8L565.0 204.1L565.4 205.7L569.9 202.0L573.5 200.3L571.2 197.9L572.8 197.5L572.4 194.0L574.4 193.8L574.8 193.1L578.6 192.1L583.5 191.6L581.7 187.7L583.6 187.3L585.6 189.1L586.4 188.7L589.8 189.5L590.2 183.8L590.9 182.6L591.2 179.7L594.4 179.8L593.8 177.6L590.0 178.2L589.1 177.5L588.3 178.4L587.4 182.2L585.3 182.1L584.5 180.4L580.9 179.6L581.3 177.0L580.9 176.3L576.1 176.1L574.5 173.8L571.1 173.6L570.4 176.6L571.4 177.5L572.7 176.8L574.3 179.3L572.5 180.4L572.5 181.9L571.6 183.6L575.2 186.4L575.8 185.7ZM578.5 196.6L574.5 193.9L574.3 197.4L575.3 198.2L578.4 197.4ZM558.6 206.2L560.9 203.8L557.5 199.4L555.4 202.5ZM620.1 105.8L618.5 105.3L616.5 105.5L614.7 104.3L612.3 104.9L610.7 104.2L608.4 106.2L607.0 107.9L603.7 107.9L602.5 110.4L602.6 111.1L604.5 112.4L608.6 111.7L610.5 111.9L611.6 111.1L615.8 111.1L617.0 113.0L621.1 111.3L622.8 111.7L626.0 110.3L626.1 109.5L625.5 109.8L621.4 106.8L620.7 105.4ZM628.9 119.0L626.3 117.2L622.5 119.0L621.7 120.2L622.2 121.2L622.1 122.3L624.1 126.2L620.3 127.7L619.0 126.4L618.0 126.1L616.1 126.9L613.8 123.1L611.3 124.4L611.8 126.5L611.5 127.0L611.6 129.0L608.3 131.1L603.1 130.2L602.7 131.9L599.3 132.3L598.5 135.1L599.0 135.4L598.8 138.2L600.8 139.7L602.4 138.7L600.5 135.7L603.3 133.6L607.8 133.2L608.4 131.8L611.7 132.6L612.1 135.8L613.9 137.2L615.7 136.3L616.2 133.3L619.8 132.6L620.0 129.8L620.5 128.9L623.3 130.2L624.7 129.9L625.1 127.6L629.2 127.4L632.6 121.5L633.2 121.2L633.3 116.7L634.3 116.0L634.6 115.2L635.9 113.7L635.1 110.3L634.6 109.7L632.8 108.9L630.5 109.1L628.6 113.6L631.0 116.6ZM605.6 119.5L608.3 117.8L607.3 115.9L605.0 115.4L604.6 115.6L601.6 114.3L600.5 115.1L601.8 118.3L602.8 118.2ZM609.9 120.2L614.4 121.9L615.1 120.8L613.0 117.0L612.5 116.9L609.8 118.4ZM605.4 122.1L603.6 123.5L602.7 125.0L602.8 125.8L606.9 126.6L609.5 123.4L609.3 122.8ZM595.3 127.1L595.5 125.2L591.2 124.0L591.1 128.0L594.3 128.2ZM639.3 129.9L641.7 131.7L645.2 131.3L646.2 130.1L647.4 130.1L649.6 129.3L652.0 130.9L653.1 128.1L655.3 128.9L656.1 127.0L655.8 126.4L654.2 125.6L655.0 123.1L658.0 123.5L659.9 121.0L658.7 119.2L659.8 116.2L658.7 115.3L656.6 115.6L654.4 119.5L653.9 119.7L652.9 119.1L648.7 118.8L647.7 116.7L647.9 113.7L650.9 111.9L653.1 114.5L655.6 114.7L657.5 111.3L656.5 109.7L654.6 109.5L650.9 111.8L650.8 111.5L649.9 111.9L639.9 108.6L639.4 109.2L639.2 112.7L640.9 114.2L643.7 110.2L646.1 113.1L642.8 115.6L641.2 115.6L639.8 118.0L637.7 118.3L636.5 117.9L633.8 121.3L636.3 122.9L634.1 126.4L633.0 126.6L632.8 132.3L629.8 131.3L627.5 132.7L626.2 132.3L623.4 134.2L623.2 138.6L627.2 140.1L628.0 136.1L630.4 136.4L633.0 133.3L633.0 132.5L634.1 132.0L637.2 132.0ZM643.9 121.3L648.2 122.3L649.3 123.5L645.7 127.6L643.7 126.1L643.1 121.6ZM598.0 145.4L600.6 147.7L600.6 148.2L602.8 151.2L602.0 152.9L599.7 152.1L597.7 153.2L598.4 156.0L601.2 155.3L601.8 159.0L603.0 159.5L604.2 162.8L605.9 162.4L608.7 165.3L610.2 165.0L610.6 164.2L608.8 160.7L610.6 159.6L612.2 160.2L614.1 160.2L614.4 162.0L616.6 163.7L618.3 159.6L621.0 160.7L622.7 157.7L623.6 157.1L626.1 157.5L626.0 154.5L627.6 153.4L626.6 151.7L624.5 149.9L624.9 148.7L622.7 145.8L624.2 143.7L624.3 142.8L621.9 140.8L620.0 143.9L620.4 145.2L619.9 146.0L620.0 151.1L618.5 153.3L618.5 156.4L617.0 158.2L616.6 158.1L614.3 155.4L611.6 156.2L609.9 153.6L608.9 153.0L608.5 151.8L612.0 151.0L611.5 148.6L613.3 146.9L614.9 150.4L615.5 150.7L617.6 150.0L617.2 148.4L613.9 145.0L608.8 146.0L608.5 143.5L609.2 142.4L605.2 139.5L606.1 143.5L604.9 145.3L603.7 144.4L602.1 144.6L598.8 143.3ZM604.8 154.1L606.0 156.7L605.0 157.3L601.3 155.1L602.1 153.1ZM634.2 141.5L629.6 141.8L629.8 144.7L628.9 147.8L631.1 150.4L632.6 149.9L632.8 146.4L631.3 145.1L634.5 143.4ZM590.8 159.2L592.0 156.7L592.7 154.8L591.1 153.0L588.0 152.0L587.5 152.5L588.6 156.6L587.2 158.8ZM632.0 162.2L630.7 157.7L631.5 156.2L634.1 158.0L637.6 155.7L635.7 153.7L631.5 155.4L630.0 154.0L626.4 157.8L627.1 159.2L626.8 161.0ZM620.6 172.0L622.9 174.0L625.5 172.8L625.8 173.5L629.6 175.9L629.4 177.2L630.7 178.1L634.4 174.0L633.0 172.8L631.2 173.8L628.2 171.0L625.2 171.2L626.5 166.2L626.8 166.0L626.6 161.2L624.2 161.3L623.2 166.0L620.5 164.7L618.8 167.9L620.5 169.6ZM599.4 164.3L597.3 161.4L595.7 161.2L594.5 161.9L593.7 163.2L594.4 164.9L596.6 166.4ZM595.9 175.4L599.7 173.6L601.2 174.1L601.6 173.7L601.5 170.5L600.8 169.3L598.5 169.0L597.4 169.6L596.8 171.3L593.7 172.1L593.8 173.3ZM620.8 176.7L619.7 174.4L619.8 172.8L616.0 171.7L614.7 172.7L616.7 175.7L616.3 177.7L617.2 178.3ZM596.9 178.4L596.4 179.3L599.7 182.0L600.4 180.8L602.2 180.0L601.0 175.5L599.3 177.5ZM600.6 189.4L603.9 186.9L605.0 187.5L606.1 182.7L605.9 182.2L605.3 182.1L603.1 183.7L599.9 183.2L599.3 186.3ZM595.4 187.7L595.9 187.2L596.3 183.2L595.5 182.3L594.0 183.0L593.4 185.9ZM662.1 110.1L663.4 108.4L667.0 107.3L667.3 104.2L662.1 106.8L659.7 107.6ZM682.5 110.8L683.9 111.2L682.1 109.4ZM673.7 113.5L676.0 113.3L672.4 108.5L671.7 109.0L671.8 109.9ZM679.3 116.9L681.0 116.3L680.0 111.0L678.0 110.4L676.0 113.3ZM664.7 124.9L664.5 126.4L664.8 127.1L668.8 126.2L667.9 120.7L668.8 120.6L671.8 117.9L671.1 114.7L668.9 114.0L665.5 119.2L666.6 120.3ZM672.4 132.7L673.2 133.3L676.6 132.9L678.1 134.9L676.8 138.0L680.1 139.1L681.1 138.4L681.4 137.7L682.5 137.4L683.9 131.7L680.9 129.7L679.7 127.7L681.0 124.5L679.5 121.3L679.1 121.0L677.3 122.3L677.9 127.1L678.8 127.7L677.4 129.7L672.7 130.0L672.5 129.3L670.3 127.5L667.1 131.5L667.7 132.9ZM665.8 135.2L670.2 138.8L670.2 136.8L667.6 133.1ZM647.1 138.4L648.8 140.2L648.9 141.2L650.1 142.9L651.0 142.9L654.2 145.5L653.9 147.2L653.5 147.5L652.8 152.3L654.8 153.9L657.4 149.2L658.3 149.2L660.3 147.3L659.3 144.4L659.7 143.8L663.7 143.0L664.3 142.0L661.5 139.4L662.6 135.8L658.7 135.8L658.0 137.8L657.0 137.9L653.8 136.5L653.0 138.5L652.3 138.4L648.4 136.0L645.4 133.0L644.7 134.1L644.0 138.5L644.5 139.1ZM644.5 149.3L645.3 150.8L644.9 153.6L645.7 154.0L647.2 154.1L649.0 153.6L649.6 152.6L648.9 150.8L649.0 147.7L647.6 146.4L646.3 146.9L641.2 143.9L645.9 143.3L646.0 142.4L644.4 139.4L639.8 144.6L641.0 146.1L642.4 149.8ZM666.3 152.4L667.9 154.4L678.4 147.5L680.3 145.6L679.5 144.2L679.9 142.6L675.0 139.6L674.8 143.1L670.3 143.3L669.0 142.6L667.2 147.4L667.9 148.8L666.2 150.7ZM652.7 157.3L650.8 158.2L650.5 158.8L652.4 160.9L655.3 159.9ZM647.7 162.4L644.2 164.2L643.8 165.8L647.6 163.2ZM639.9 165.5L640.5 168.5L643.7 165.9ZM634.2 167.0L632.6 170.2L633.1 172.5L637.2 170.4L637.5 169.5L636.9 166.2L635.3 165.8Z" fill="#a09a70"/><path d="M540.5 157.0L541.1 157.6L538.7 162.9L540.6 163.0L543.0 162.2L543.5 160.3L546.4 160.1L547.7 158.5L549.9 158.7L551.2 157.4L554.5 157.4L555.3 161.1L559.8 159.0L559.6 162.5L557.3 163.9L557.3 166.6L554.6 168.1L554.0 167.9L552.7 166.1L554.9 161.9L551.3 161.6L548.3 163.8L548.5 165.2L545.1 166.9L544.4 165.7L542.6 165.6L541.1 166.8L541.6 169.4L543.4 172.7L543.0 173.8L546.0 176.7L546.3 178.2L547.4 179.4L543.9 182.8L544.6 184.5L542.5 188.1L544.8 190.3L541.9 194.3L542.7 196.7L547.0 198.1L548.1 199.1L549.9 199.3L552.4 201.8L551.5 204.3L548.6 203.1L547.8 205.0L546.4 205.0L545.1 201.4L542.5 202.0L536.4 200.4L537.8 196.6L537.5 194.6L537.0 194.4L536.5 193.1L536.5 189.7L534.7 188.5L534.4 187.2L535.5 185.0L538.8 185.0L543.1 182.5L542.0 181.0L539.2 179.7L539.9 176.6L537.9 175.6L534.4 177.2L533.7 176.4L533.9 174.2L537.0 172.3L537.1 171.7L535.1 170.4L532.0 170.9L529.3 170.3L529.1 170.6L529.2 171.5L530.9 174.1L530.0 176.9L529.0 177.4L531.0 180.8L530.2 183.4L530.6 184.3L530.4 186.8L529.0 188.2L529.8 192.7L530.7 193.1L530.6 195.1L527.3 197.6L527.3 198.3L529.5 199.5L531.1 202.0L530.2 203.3L527.0 205.1L527.8 207.1L532.2 208.3L531.8 209.4L533.5 213.3L532.5 213.7L529.1 212.0L527.9 212.3L531.4 216.2L530.5 217.7L534.0 221.5L535.3 219.3L534.6 216.9L536.3 213.8L538.4 214.4L538.6 216.7L539.9 218.5L541.6 218.7L542.6 219.4L545.1 217.7L546.4 219.2L548.7 219.5L548.6 215.1L548.1 214.5L550.2 211.2L554.1 211.1L554.4 210.8L552.4 207.1L557.9 207.3L558.5 206.7L560.6 208.1L561.3 211.0L565.4 205.7L565.0 204.1L561.6 203.5L560.9 203.8L558.6 206.2L555.5 202.8L555.4 202.5L557.5 199.4L557.5 198.3L554.9 198.0L553.5 197.3L553.2 195.0L554.5 193.8L554.9 192.3L553.8 191.2L550.6 192.2L550.1 193.7L549.4 194.2L546.9 192.9L545.5 190.4L547.0 189.4L548.3 189.2L549.8 187.4L548.1 184.7L550.2 181.9L551.9 183.0L552.5 184.3L555.7 184.9L556.8 185.7L557.7 187.1L556.2 188.5L557.3 190.9L557.2 191.5L556.5 192.0L558.5 197.2L560.4 196.5L561.7 196.8L565.7 194.0L563.6 191.6L560.2 192.8L560.7 189.8L559.9 188.7L559.7 187.5L561.1 186.0L563.2 186.6L564.7 188.0L566.8 188.0L568.4 190.5L568.4 191.5L566.1 193.9L569.0 198.2L569.6 197.9L571.5 193.9L570.5 192.7L573.1 190.7L574.1 190.8L575.5 188.3L578.0 189.6L580.7 187.2L579.6 181.4L577.9 180.7L574.8 182.7L575.8 185.7L575.2 186.4L571.6 183.6L572.5 181.9L572.5 180.4L574.3 179.3L572.7 176.8L571.4 177.5L570.4 176.6L571.1 173.6L574.5 173.8L576.1 176.1L580.9 176.3L581.3 177.0L580.9 179.6L584.5 180.4L585.3 182.1L587.4 182.2L588.3 178.4L589.1 177.5L590.0 178.2L593.8 177.6L594.4 179.8L593.4 179.9L593.2 182.7L594.0 183.0L595.5 182.3L596.3 183.2L595.9 187.2L599.3 186.3L599.9 183.2L603.1 183.7L605.3 182.1L604.1 180.1L602.2 180.0L600.4 180.8L599.7 182.0L596.4 179.3L596.9 178.4L599.3 177.5L601.0 175.5L601.2 174.1L599.7 173.6L595.9 175.4L593.8 173.3L593.7 172.1L596.8 171.3L597.4 169.6L598.5 169.0L600.8 169.3L601.5 170.5L601.6 173.7L605.6 173.0L608.9 176.1L609.2 180.1L605.9 182.2L606.1 182.7L605.0 187.5L605.4 188.2L607.4 189.7L611.9 188.6L609.8 186.1L611.1 183.0L614.7 183.2L615.6 185.6L614.3 188.0L622.4 185.9L627.0 182.9L630.5 178.3L629.4 177.2L626.9 179.0L624.6 178.4L623.2 177.0L620.8 176.7L617.2 178.3L616.3 177.7L616.7 175.7L614.7 172.7L616.0 171.7L619.8 172.8L620.7 171.8L620.5 169.6L618.8 167.9L617.4 168.0L615.7 165.5L616.6 163.7L614.4 162.0L613.1 163.8L611.9 163.7L610.6 164.2L610.2 165.0L608.7 165.3L605.9 162.4L604.2 162.8L603.0 159.5L601.8 159.0L601.2 155.3L598.4 156.0L597.7 153.2L599.7 152.1L602.0 152.9L602.8 151.2L600.6 148.2L600.6 147.7L598.0 145.4L598.8 143.3L602.1 144.6L603.7 144.4L604.9 145.3L606.1 143.5L605.2 139.5L609.2 142.4L608.5 143.5L608.8 146.0L613.9 145.0L617.2 148.4L617.6 150.0L615.5 150.7L614.9 150.4L613.3 146.9L611.5 148.6L612.0 151.0L608.5 151.8L608.9 153.0L609.9 153.6L611.6 156.2L614.3 155.4L616.6 158.1L617.0 158.2L618.5 156.4L618.5 153.3L620.0 151.1L619.9 146.0L620.4 145.2L620.0 143.9L621.9 140.8L624.3 142.8L624.2 143.7L622.7 145.8L624.9 148.7L624.5 149.9L626.6 151.7L627.6 153.4L626.0 154.5L626.1 157.5L623.6 157.1L622.7 157.7L621.4 160.6L624.2 161.3L626.6 161.2L627.1 159.2L626.4 157.8L630.0 154.0L631.5 155.4L635.7 153.7L637.6 155.7L634.1 158.0L631.5 156.2L630.7 157.7L632.0 162.2L634.6 163.4L635.3 165.8L636.9 166.2L637.5 169.5L637.2 170.4L637.7 170.8L640.5 168.5L639.7 165.3L640.1 163.0L638.3 159.3L639.6 156.6L640.0 156.5L641.3 157.5L642.1 159.3L642.1 162.0L642.7 162.3L644.2 164.2L647.7 162.4L647.6 163.2L649.9 161.7L652.4 160.9L650.5 158.8L650.8 158.2L652.7 157.3L655.3 159.9L662.1 157.6L666.2 155.6L668.6 154.0L667.9 154.4L666.3 152.4L666.2 150.7L667.9 148.8L667.3 147.6L662.0 148.2L660.3 147.3L658.3 149.2L657.4 149.2L654.8 153.9L652.8 152.3L653.5 147.5L653.9 147.2L654.2 145.5L651.0 142.9L650.1 142.9L648.9 141.2L648.8 140.2L647.1 138.4L644.5 139.1L644.0 138.5L644.7 134.1L645.4 133.0L648.4 136.0L652.3 138.4L653.0 138.5L653.8 136.5L657.0 137.9L658.0 137.8L658.7 135.8L662.6 135.8L661.5 139.4L664.3 142.0L668.7 141.9L669.0 142.6L670.3 143.3L674.8 143.1L675.0 139.6L679.9 142.8L682.5 142.0L682.5 137.4L681.4 137.7L681.1 138.4L680.1 139.1L676.8 138.0L678.1 134.9L676.6 132.9L673.2 133.3L672.4 132.7L667.7 132.9L667.1 131.5L670.3 127.5L672.5 129.3L672.7 130.0L677.4 129.7L678.8 127.7L677.9 127.1L677.3 122.3L679.1 121.0L679.5 121.3L681.0 124.5L679.7 127.7L680.9 129.7L683.9 131.7L684.5 129.2L682.5 121.0L684.5 118.0L686.5 113.8L683.9 111.2L682.5 110.8L682.1 109.4L680.5 107.8L674.4 103.7L668.2 103.7L667.3 104.2L667.0 107.3L663.4 108.4L662.1 110.3L657.5 111.3L655.6 114.7L653.1 114.5L650.9 111.9L647.9 113.7L647.7 116.7L648.7 118.8L652.9 119.1L653.9 119.7L654.4 119.5L656.6 115.6L658.7 115.3L659.8 116.2L658.7 119.2L659.9 121.0L658.0 123.5L655.0 123.1L654.2 125.6L655.8 126.4L656.1 127.0L655.3 128.9L653.1 128.1L652.0 130.9L649.6 129.3L647.4 130.1L646.2 130.1L645.2 131.3L641.7 131.7L639.3 129.9L637.2 132.0L634.1 132.0L633.0 132.5L633.0 133.3L630.4 136.4L628.0 136.1L627.2 140.1L623.2 138.6L623.4 134.2L626.2 132.3L627.5 132.7L629.8 131.3L632.8 132.3L633.0 126.6L634.1 126.4L636.3 122.9L633.8 121.3L636.5 117.9L637.7 118.3L639.8 118.0L641.2 115.6L642.8 115.6L646.1 113.1L643.7 110.2L640.9 114.2L639.2 112.7L639.4 109.2L635.1 110.3L635.9 113.7L634.6 115.2L634.3 116.0L633.3 116.7L633.2 121.2L632.6 121.5L629.2 127.4L625.1 127.6L624.7 129.9L623.3 130.2L620.5 128.9L620.0 129.8L619.8 132.6L616.2 133.3L615.7 136.3L613.9 137.2L612.1 135.8L611.7 132.6L608.4 131.8L607.8 133.2L603.3 133.6L600.5 135.7L602.4 138.7L600.8 139.7L598.8 138.2L599.0 135.4L598.5 135.1L599.3 132.3L602.7 131.9L603.1 130.2L608.3 131.1L611.6 129.0L611.5 127.0L611.8 126.5L611.3 124.4L613.8 123.1L616.1 126.9L618.0 126.1L619.0 126.4L620.3 127.7L624.1 126.2L622.1 122.3L622.2 121.2L621.7 120.2L622.5 119.0L626.3 117.2L628.9 119.0L631.0 116.6L628.6 113.6L630.5 109.1L630.2 107.8L626.1 109.5L626.0 110.3L622.8 111.7L621.1 111.3L617.0 113.0L615.8 111.1L611.6 111.1L610.5 111.9L608.6 111.7L604.5 112.4L602.6 111.1L602.5 110.4L603.7 107.9L607.0 107.9L608.4 106.2L610.7 104.2L612.3 104.9L614.7 104.3L616.5 105.5L618.5 105.3L620.1 105.8L620.7 105.4L619.4 102.7L613.3 103.7L607.2 101.7L604.0 102.2L604.5 103.1L603.4 107.4L600.1 105.8L598.9 105.8L597.5 104.4L595.9 104.8L594.9 109.2L593.4 109.9L592.2 107.6L594.5 104.4L593.1 103.8L590.5 105.8L591.5 107.4L589.2 108.7L589.9 111.3L591.9 111.5L593.2 114.9L591.0 117.3L590.1 116.9L588.1 112.4L586.2 112.3L586.2 108.6L584.3 107.7L583.5 105.0L582.1 105.6L581.1 108.6L580.4 109.5L580.2 113.6L578.8 116.0L575.4 116.4L575.0 112.3L576.5 110.7L575.3 107.9L579.0 106.8L579.5 105.8L578.5 104.1L575.1 105.8L572.9 103.2L575.6 101.4L575.1 97.0L576.7 96.5L577.8 97.1L580.9 97.2L580.5 99.3L578.5 99.7L577.9 102.0L578.7 102.6L580.5 101.9L582.6 102.5L583.9 104.0L587.4 103.1L587.6 102.6L590.6 102.1L588.9 98.6L588.9 93.6L588.2 89.9L586.3 91.4L587.2 94.0L586.9 95.9L584.6 95.8L582.5 94.8L582.1 93.5L581.2 92.4L578.2 90.8L580.0 86.7L578.5 85.4L576.6 85.4L571.7 82.2L566.0 80.1L562.5 81.4L565.0 84.5L561.3 85.0L559.5 87.2L560.1 88.5L561.0 89.1L563.4 89.5L564.9 90.7L565.7 90.4L568.6 91.0L569.5 92.5L573.1 92.5L572.9 95.9L570.1 95.6L568.3 96.9L568.7 99.0L566.3 100.3L566.1 102.6L562.3 101.5L560.8 102.6L561.5 106.1L560.0 109.2L560.2 110.9L561.6 113.0L565.6 114.2L566.5 115.3L565.5 119.4L563.5 118.4L560.5 118.7L559.8 119.7L558.4 120.6L560.9 123.3L559.1 124.3L558.2 126.7L559.2 128.0L558.9 128.7L559.4 130.4L561.1 132.0L561.1 135.3L558.7 135.8L559.0 141.2L558.5 142.2L553.6 142.0L552.9 142.5L555.2 147.5L552.4 148.3L549.5 148.2L548.4 149.8L545.9 149.2L544.6 153.1L541.9 152.4ZM594.5 161.9L595.7 161.2L597.3 161.4L599.4 164.3L596.6 166.4L594.4 164.9L593.7 163.2ZM590.8 159.2L587.2 158.8L588.6 156.6L587.5 152.5L588.0 152.0L591.1 153.0L592.7 154.8ZM591.2 124.0L595.5 125.2L595.3 127.1L594.3 128.2L591.1 128.0ZM563.0 165.7L562.3 164.0L565.8 161.5L565.9 159.9L565.3 158.3L571.0 154.7L575.1 159.8L575.2 163.8L578.0 164.1L578.9 159.9L578.5 159.4L579.3 157.6L578.0 154.3L572.7 153.9L571.1 154.5L570.9 152.4L571.5 148.2L575.4 147.8L575.7 147.2L580.1 146.7L581.0 147.4L580.4 150.2L582.6 151.7L580.0 153.9L582.4 154.9L584.1 154.5L583.4 159.0L586.1 160.0L586.2 160.5L589.1 162.1L590.2 165.2L588.2 166.8L582.0 164.7L581.1 165.8L581.0 167.0L585.2 169.2L584.2 172.4L581.6 172.7L580.8 167.3L576.9 168.1L575.1 169.7L572.4 168.1L571.8 166.4L570.1 166.1L566.5 164.4L564.9 165.8ZM562.8 158.5L560.6 158.0L561.5 151.4L563.6 150.3L565.6 151.5L565.8 152.2L564.3 154.5L564.9 158.2ZM575.2 135.7L576.2 131.8L578.3 131.3L578.5 130.5L577.7 126.2L580.2 126.6L580.7 127.7L583.2 129.2L585.4 126.7L587.0 127.1L588.9 129.0L587.7 131.0L587.9 131.8L587.5 134.6L585.0 135.7L583.6 132.1L583.0 131.7L580.7 132.3L580.5 136.3L582.7 138.4L582.4 138.8L579.9 139.2L578.2 138.0L575.6 138.6L576.8 140.9L574.3 143.7L573.1 143.0L569.6 143.6L570.3 140.2L572.4 139.2L572.7 138.5L571.1 137.4L570.0 135.7L572.1 134.2ZM546.9 154.0L548.6 150.2L550.4 151.4L550.1 154.3ZM558.9 171.0L559.8 169.5L560.3 169.6L562.8 167.4L564.2 170.3L562.8 171.1L562.0 173.5L559.6 174.5L558.9 175.6L563.8 177.9L563.6 178.5L562.8 179.5L560.4 179.9L558.1 178.0L558.2 176.1L554.1 175.7L553.0 173.7L555.8 171.4ZM551.6 206.7L549.9 210.1L546.9 208.8L548.5 205.9ZM542.7 207.5L543.9 207.2L545.5 209.0L544.9 211.7L540.5 210.7L540.4 210.1ZM542.4 216.2L542.0 216.7L538.4 214.4L539.8 213.4L541.7 213.9L545.3 213.3L546.4 214.5L545.5 215.9ZM574.9 127.7L574.6 130.5L571.1 130.7L570.5 127.1L571.7 126.0ZM582.5 116.2L585.2 117.0L582.8 120.0L581.5 117.1ZM629.6 145.0L629.6 141.8L634.2 141.5L634.5 143.4L631.3 145.1L632.8 146.4L632.6 149.9L631.1 150.4L628.9 147.8ZM603.6 123.5L605.4 122.1L609.3 122.8L609.5 123.4L606.9 126.6L602.8 125.8L602.7 125.0ZM615.1 120.8L614.4 121.9L609.9 120.2L609.8 118.4L612.5 116.9L613.0 117.0ZM605.6 119.5L602.8 118.2L601.8 118.3L600.5 115.1L601.6 114.3L604.6 115.6L605.0 115.4L607.3 115.9L608.3 117.8ZM639.8 144.6L644.4 139.4L646.0 142.4L645.9 143.3L641.2 143.9L646.3 146.9L647.6 146.4L649.0 147.7L648.9 150.8L649.6 152.6L649.0 153.6L647.2 154.1L645.7 154.0L644.9 153.6L645.3 150.8L644.5 149.3L642.4 149.8L641.0 146.1ZM668.9 114.0L671.1 114.7L671.8 117.9L668.8 120.6L667.9 120.7L668.8 126.2L664.8 127.1L664.5 126.4L664.7 124.9L666.6 120.3L665.5 119.2ZM671.8 109.9L671.7 109.0L672.4 108.5L676.0 113.3L673.7 113.5ZM676.0 113.3L678.0 110.4L680.0 111.0L681.0 116.3L679.3 116.9ZM670.2 138.8L665.8 135.2L667.6 133.1L670.2 136.8ZM543.8 227.9L543.0 227.4L541.1 230.0L544.0 232.0L546.3 230.9L548.0 231.0L550.5 228.6L553.4 229.7L553.8 230.4L558.4 228.2L558.9 226.9L555.7 224.4L553.8 220.1L552.4 219.1L549.1 219.9L549.0 220.9L545.6 223.0L545.9 224.2L547.4 225.3L547.2 226.9ZM540.5 225.5L541.5 225.6L543.2 221.8L542.9 221.4L539.1 222.4ZM586.2 194.1L585.4 193.8L584.2 191.8L585.6 189.1L583.6 187.3L581.7 187.7L583.5 191.6L578.8 192.2L578.9 195.8L578.5 197.3L581.5 197.1L586.6 195.4ZM605.9 156.8L604.8 154.1L602.1 153.1L601.3 155.1L605.0 157.3ZM648.2 122.3L643.9 121.3L643.1 121.6L643.7 126.1L645.7 127.6L649.3 123.5Z" fill="#eedd48"/><path d="M359.5 36.6L359.8 36.8L359.9 40.9L358.4 42.9L356.3 43.0L355.9 42.6L354.9 38.4L354.2 38.2L350.8 39.5L351.6 42.9L350.1 44.6L351.4 48.5L351.7 48.8L352.0 50.4L349.5 52.8L349.5 54.7L351.6 55.8L351.9 56.5L351.1 58.0L350.7 59.8L351.0 60.7L347.6 64.1L347.5 65.1L350.4 65.9L353.1 71.0L352.5 71.4L350.1 71.0L347.4 69.4L345.5 71.7L343.3 71.7L342.5 66.1L340.7 65.3L338.1 69.3L338.7 71.5L342.2 72.5L341.8 74.3L339.6 77.6L340.3 78.3L342.7 77.8L345.2 76.4L346.8 76.4L346.5 77.4L344.9 79.3L344.7 80.7L345.2 81.6L347.4 80.9L350.3 80.7L349.4 85.3L350.0 86.1L349.4 89.2L350.1 90.5L353.4 90.8L354.5 92.2L356.5 91.6L358.6 89.0L360.5 89.3L362.1 88.4L362.7 86.4L362.5 85.4L359.8 81.9L360.3 80.8L360.5 78.7L358.8 77.8L357.7 74.9L359.6 74.1L363.4 75.4L362.4 77.5L365.5 80.8L365.7 81.6L367.5 81.8L369.0 80.5L369.0 78.5L370.0 77.1L370.4 74.7L370.0 73.0L368.4 71.5L368.0 70.1L366.7 69.3L364.3 69.8L365.0 72.7L363.9 74.7L361.8 69.3L360.1 69.5L359.1 69.0L359.1 65.2L357.3 63.5L357.5 62.8L360.6 61.2L361.2 61.5L363.6 59.0L363.3 57.8L363.9 56.4L363.5 55.2L367.4 52.3L368.6 55.1L369.9 55.5L370.3 61.0L370.8 61.5L371.2 61.6L373.4 60.1L376.2 59.9L377.5 61.3L381.6 60.4L380.4 63.3L381.6 66.0L378.6 68.6L378.9 70.2L378.4 72.1L382.4 76.0L383.2 82.2L382.9 82.6L381.5 82.3L377.6 84.2L378.0 87.1L381.6 88.8L381.7 89.7L385.9 90.6L386.3 91.4L388.5 90.5L389.4 89.4L392.2 90.7L393.0 89.9L397.4 91.6L398.2 90.7L401.4 89.7L399.3 84.5L400.9 81.3L398.9 79.1L398.4 78.0L399.3 75.5L401.7 74.8L399.4 70.5L402.5 69.2L402.5 68.6L401.4 67.1L401.7 64.0L398.3 61.9L398.7 66.8L395.5 68.2L395.0 70.6L392.0 72.2L391.2 71.1L387.8 70.3L390.7 66.9L389.4 63.4L390.4 62.3L391.1 62.0L392.4 63.9L395.5 64.3L397.9 61.8L398.2 61.9L401.3 57.4L403.5 55.7L399.3 53.0L399.1 52.5L401.7 48.5L403.6 48.9L405.3 47.4L404.6 45.1L405.0 43.4L397.4 42.3L388.3 42.3L388.6 44.5L388.2 46.1L388.8 46.3L392.2 50.1L392.1 50.8L387.3 51.0L385.1 48.5L384.3 49.1L382.8 51.9L383.7 54.4L387.2 53.1L388.5 55.0L387.4 57.5L384.1 56.5L381.9 60.1L379.9 58.0L379.8 56.1L380.5 55.6L380.2 52.2L377.8 51.3L377.7 50.0L379.5 48.3L379.6 47.0L378.4 44.7L380.9 42.6L380.2 41.2L377.0 40.7L376.3 39.6L372.7 39.0L372.1 38.2L371.8 36.0L369.9 34.3L369.0 34.7L366.9 38.7L366.4 38.7L364.4 35.2L365.7 34.3L363.1 34.3L359.6 35.5ZM354.6 84.0L356.7 82.0L358.6 82.2L357.6 86.2L356.9 86.9L355.0 86.6ZM363.3 55.0L359.5 54.0L360.6 51.1L363.4 51.5ZM368.2 50.8L367.5 51.0L366.5 46.4L367.2 45.6L369.0 46.7L369.6 47.8ZM368.2 43.6L367.2 45.6L364.0 43.1L364.6 41.3ZM372.2 50.8L373.7 52.7L373.2 55.0L370.4 55.3L370.7 51.3ZM387.4 74.4L391.9 73.5L392.5 74.6L395.7 74.1L396.1 74.6L395.2 78.0L393.0 78.6L392.2 78.3L389.2 79.6L388.4 79.3L387.6 78.2ZM420.1 42.0L420.1 40.8L418.4 39.1L415.5 42.1L415.6 43.1L419.1 42.8ZM414.6 48.1L415.6 48.5L416.8 47.7L419.2 46.8L418.6 46.0L415.5 43.5L413.2 45.2L413.5 46.6Z" fill="#00ae55"/><path d="M192.8 36.9L190.8 29.1L189.6 30.0L185.5 36.8L185.9 37.8L191.1 40.1L196.4 45.9L198.8 44.9L199.0 44.3L204.1 40.9L203.2 39.7L201.2 34.9L202.8 31.0L200.4 27.3L194.9 25.7L194.3 26.4L196.0 35.0ZM221.1 53.4L220.7 46.8L218.5 46.3L214.8 50.8L214.4 55.3ZM199.3 65.9L204.2 70.0L207.1 73.5L209.7 74.5L211.5 71.8L211.8 70.9L208.9 65.7L213.5 59.3L213.1 56.8L211.5 56.5L207.1 46.4L204.3 48.6L204.8 56.0L206.0 57.3L203.3 62.4L200.0 64.6ZM166.4 416.7L163.5 412.2L160.4 413.3L158.9 415.7L164.4 418.7L165.3 418.8ZM182.0 436.2L181.0 438.1L181.7 439.1L187.2 440.8L189.2 432.6L185.5 429.1L182.0 432.4ZM167.3 437.3L167.0 431.5L162.7 435.6ZM214.1 437.8L214.4 434.5L207.9 430.8L206.7 434.1L212.8 439.0ZM206.3 450.0L208.0 447.6L209.8 442.1L205.1 440.8L203.4 441.6L199.0 438.6L196.4 439.2L195.8 441.8L204.9 450.4ZM208.0 491.0L200.7 494.3L202.1 497.8L209.3 496.9ZM200.9 510.5L197.7 511.6L196.9 513.3L202.8 520.0L204.1 520.5L204.9 519.8L212.7 518.6L209.3 508.3L209.8 507.6L209.7 506.2L209.9 505.6L211.8 504.3L216.0 498.2L211.1 498.3L209.7 500.7L207.5 501.5L201.9 499.1L201.1 501.2L198.9 503.2L198.7 504.5L201.2 507.8ZM300.4 410.9L301.2 417.9L306.4 414.3L304.6 409.2L301.8 409.0ZM233.1 422.7L229.9 425.4L230.2 428.9L235.0 432.0L232.9 434.1L231.2 438.2L233.5 440.2L238.5 437.7L237.6 431.4L238.4 430.6L248.5 434.1L251.0 433.1L248.6 426.7L249.0 421.6L244.2 421.8L240.1 425.6L238.8 426.1L236.6 423.0ZM264.4 451.7L266.6 452.2L270.1 442.0L267.9 440.6L267.5 440.6L262.9 447.5ZM227.7 446.9L219.4 451.7L220.3 453.1L220.4 456.6L219.6 459.2L223.3 460.1L230.6 456.7L232.0 452.1L230.2 448.8ZM299.2 459.8L297.5 460.7L299.1 465.9L303.9 464.5L304.1 464.1L308.2 461.9L306.4 456.7L311.7 456.4L312.0 452.8L311.3 451.6L308.0 450.9L304.6 453.3L303.1 452.6L298.5 454.8ZM227.4 472.1L239.1 467.6L240.1 462.7L239.9 461.3L237.2 461.9L231.0 460.0L230.3 463.5L225.9 466.7L223.7 469.3L225.0 470.9ZM283.7 472.3L279.7 470.8L275.8 471.6L276.7 474.2L282.4 476.5ZM260.5 481.5L258.9 475.4L257.3 475.0L253.8 471.5L251.1 472.0L249.0 475.2L250.8 479.9L254.3 482.1L255.6 483.9ZM289.1 487.6L288.5 482.8L286.2 480.8L283.3 480.4L278.6 484.0L279.9 489.4L283.3 492.7ZM217.2 521.4L230.6 517.0L231.8 517.9L236.9 515.3L234.7 505.0L232.8 504.5L230.3 507.3L230.5 516.7L226.2 514.3L216.1 516.8L214.7 518.9ZM451.6 69.0L449.0 69.6L448.1 72.2L452.7 75.4L452.8 79.6L453.5 80.5L456.8 80.2L459.1 84.0L458.2 85.0L453.8 84.8L452.9 84.5L451.5 85.3L449.9 87.3L450.3 90.6L454.1 90.0L455.3 90.6L456.6 92.3L461.4 88.7L461.1 84.4L460.6 84.0L461.1 80.7L459.2 79.6L461.7 77.0L460.2 74.9L462.5 72.3L461.6 70.9L461.5 69.8L457.9 68.3L455.8 70.0L454.6 69.4ZM329.4 392.2L329.9 394.4L328.6 397.5L329.9 401.0L334.7 402.6L342.4 402.1L344.1 397.6L343.5 393.5L343.8 392.5L340.0 382.9L332.0 385.1L331.3 389.1ZM319.3 394.2L317.1 404.8L319.4 405.4L322.9 397.8L323.1 396.7L322.4 395.3L321.0 394.3ZM378.3 425.1L377.0 427.8L379.8 432.4L387.3 432.9L390.8 429.0L385.7 417.6L381.0 415.5L377.8 416.0L376.0 418.8ZM317.9 446.1L322.0 444.6L322.9 438.6L322.7 438.4L320.2 439.3L317.1 443.7L317.0 444.8ZM311.7 471.2L315.9 462.9L315.4 462.3L311.3 462.9L308.3 470.6L309.5 471.4Z" fill="#a5d94a"/><path d="M249.9 84.1L251.0 86.4L255.3 87.2L254.2 81.4L256.2 80.1L257.9 74.3L257.4 73.6L248.6 74.1L248.2 76.5L253.2 81.2ZM152.6 121.6L152.7 124.3L152.4 124.4L151.4 129.5L155.7 131.2L156.2 130.7L154.6 124.6L158.4 124.5L159.4 123.4L159.0 121.0L158.0 120.0L156.3 120.5L155.1 119.9ZM214.7 140.7L214.7 140.0L210.7 138.6L210.4 141.0L214.2 141.1ZM263.4 141.7L259.5 141.4L260.2 145.2L261.1 145.4L263.9 142.7ZM223.1 147.9L226.5 147.0L227.1 145.9L227.0 143.3L225.3 142.9L222.0 144.1L221.3 144.8L222.2 147.3ZM185.3 147.6L180.5 149.7L180.5 150.2L182.1 151.8L183.1 151.5L185.4 149.3ZM195.8 176.0L198.6 178.2L199.8 177.7L198.9 175.2L196.9 174.8ZM261.2 184.6L262.0 182.3L257.5 181.7L256.7 184.1ZM209.5 194.4L209.2 196.6L212.6 196.6L213.3 194.1L212.8 193.2ZM180.2 209.3L182.6 209.4L182.9 207.5L181.7 206.6L180.3 208.0ZM271.6 207.4L269.4 207.0L268.6 208.3L271.3 210.0L272.0 209.5ZM201.0 221.8L201.6 222.7L204.4 222.4L206.4 219.5L205.8 219.0L203.9 218.6ZM250.1 222.5L249.0 224.4L250.9 225.9L253.1 225.1L252.9 224.1ZM233.0 231.2L234.3 229.0L231.7 227.7L230.1 229.8ZM204.8 241.4L205.8 243.3L208.2 242.9L208.8 240.2ZM182.4 246.5L184.0 245.0L183.4 243.4L179.6 244.2L179.7 244.9ZM253.9 252.6L251.8 253.2L251.0 258.0L251.6 258.5L254.9 256.5ZM299.7 90.3L301.9 90.5L302.4 86.4L301.4 85.4L299.0 89.0ZM307.3 87.6L307.3 90.3L309.0 92.8L310.6 92.1L309.7 88.5ZM315.5 90.7L320.1 93.8L320.5 90.7L318.3 89.1ZM321.3 102.7L322.2 100.0L319.9 98.8L317.2 99.0L318.0 101.5ZM296.5 106.0L299.8 105.4L298.6 102.3L296.3 104.0L296.0 105.6ZM308.2 116.7L308.2 113.4L305.4 113.6L304.9 114.4L306.7 117.1ZM287.1 121.6L288.4 121.0L289.7 119.1L287.3 116.5L284.1 119.5ZM286.7 137.2L285.2 135.5L282.9 135.7L281.5 139.1L281.7 139.7L282.5 140.0L286.9 138.1ZM313.3 162.3L315.1 161.2L315.6 159.6L310.5 159.4L309.0 160.3L308.8 161.7L310.7 163.3ZM298.7 179.0L295.1 181.9L295.2 182.0L298.4 183.5L298.9 183.3ZM317.4 182.5L315.0 186.0L316.3 187.5L319.6 186.9L319.6 185.8L318.2 182.1ZM272.4 192.4L270.5 191.8L269.8 192.3L270.2 196.2L272.4 196.4ZM327.3 199.5L324.9 199.8L324.4 202.0L324.8 202.9L327.0 202.5L328.3 201.7ZM323.3 205.3L320.9 204.4L320.4 204.7L320.2 209.6L323.7 206.8ZM283.7 208.5L282.8 209.1L283.0 213.1L288.3 211.8ZM270.7 231.8L270.1 232.7L271.7 236.0L272.1 236.0L273.5 232.0L273.0 231.0ZM299.5 238.1L302.8 236.1L301.6 233.7L299.8 234.3L298.7 236.9ZM317.2 235.1L320.2 239.1L321.9 238.0L322.4 236.8L321.8 235.2L318.2 234.1ZM329.5 238.6L330.3 241.1L332.1 241.0L333.8 237.6L331.8 236.5ZM299.6 255.6L296.7 254.6L297.1 258.8L297.7 259.3L298.7 259.1L300.4 257.0ZM362.7 93.9L367.5 93.2L365.3 90.6L364.1 90.6ZM338.0 92.2L338.1 93.7L339.4 94.9L340.5 95.1L342.8 91.5L340.4 90.1ZM330.6 96.3L331.8 97.0L332.9 91.0L330.8 90.5L330.3 92.3ZM346.2 93.3L343.2 96.8L345.5 100.7L347.2 100.1L349.0 96.8L346.7 93.4ZM365.3 100.4L366.4 97.6L365.9 96.0L362.4 94.5L361.8 97.1L363.1 99.9ZM354.0 112.5L356.0 111.8L355.2 108.0L353.3 109.3L353.4 111.5ZM360.4 111.6L361.4 113.6L364.8 115.3L365.5 114.0L363.8 109.9L363.4 109.8ZM409.4 114.6L405.1 114.8L403.2 117.2L405.3 118.9L406.6 119.3ZM336.4 129.2L336.8 131.8L338.0 132.4L340.4 132.3L341.7 131.6L342.3 128.6L341.1 126.4ZM343.3 136.3L344.7 137.9L346.0 137.6L347.7 136.6L346.5 133.1L343.4 132.7ZM355.7 140.3L355.0 140.9L355.1 141.9L359.8 146.5L360.3 146.5L360.5 146.0L359.5 142.0ZM396.9 151.0L400.3 153.1L401.6 152.4L401.3 151.4L398.0 148.4L396.7 149.6ZM337.5 151.2L334.8 149.7L333.1 149.6L331.2 151.9L331.8 152.7L331.9 156.1L333.2 157.3L335.9 153.1L337.1 152.4ZM344.8 159.7L345.8 159.8L347.0 155.6L342.6 157.1ZM388.8 165.3L385.0 165.6L385.3 167.9L388.3 166.9ZM353.5 173.8L352.3 174.2L353.1 179.0L355.4 177.6L355.8 176.2ZM397.4 193.1L401.3 190.6L400.4 189.2L395.5 189.5ZM357.6 253.8L356.2 253.8L355.2 255.2L355.6 256.7L358.2 258.6L360.7 257.3L360.7 256.8Z" fill="#f7a040"/><path d="M436.8 45.7L434.9 45.4L435.4 46.1ZM415.3 52.4L415.9 55.0L418.4 55.8L419.3 55.1L418.8 51.9L417.8 51.3L416.5 51.3ZM422.7 61.9L420.0 63.3L420.1 63.6L424.3 67.0L425.6 62.8ZM403.0 74.5L404.4 70.2L402.8 69.5L401.7 74.8ZM433.3 74.9L432.5 73.4L428.4 72.9L426.8 75.5L427.7 77.1L429.1 77.0L432.7 75.7ZM409.3 78.3L406.7 76.2L405.9 76.4L404.4 78.9L404.5 79.2L408.1 79.1ZM423.1 80.4L422.7 82.7L426.5 85.0L427.2 84.2L427.0 83.0L425.3 80.1ZM416.4 86.1L413.5 88.9L413.9 89.6L419.1 90.2L418.6 87.8ZM434.0 96.3L436.3 98.5L437.3 97.0L437.2 94.1L434.3 94.7ZM413.3 98.9L414.1 100.1L417.6 99.7L417.9 99.2L417.2 97.3L414.3 97.3ZM430.2 107.3L431.6 105.7L430.3 104.4L427.6 103.9L426.8 106.0L427.6 107.3ZM440.2 48.0L440.8 48.6L440.4 46.1L440.0 46.1ZM443.4 59.3L440.4 58.3L440.6 57.1L439.5 57.4L439.4 61.0L440.6 61.5L443.1 61.3ZM462.5 72.3L463.2 72.4L467.0 71.1L467.6 71.8L471.7 70.0L470.4 69.2L467.0 71.1L466.9 69.7L463.5 66.5L462.9 67.0L461.5 69.8L461.6 70.9ZM441.9 69.8L438.7 68.7L436.4 70.8L437.5 72.6L438.8 73.0ZM467.3 79.0L470.1 78.2L470.0 77.3L466.8 75.2L465.3 76.4L465.6 78.3ZM451.6 74.9L446.6 77.0L445.6 78.3L445.5 81.8L446.3 82.5L449.8 79.8L452.8 79.6L452.7 75.4ZM470.8 88.3L471.7 86.6L471.1 85.3L469.5 84.4L467.6 84.8L466.1 86.3L466.7 87.8ZM444.3 86.6L445.0 89.0L446.3 88.7L447.7 87.2L445.6 84.7Z" fill="#888888"/><defs><clipPath id="cm"><polygon points="136.0,21.4 129.9,16.8 120.8,13.7 115.4,12.2 113.1,9.9 111.6,15.3 110.1,11.4 102.4,10.7 99.4,12.2 94.8,14.5 93.3,19.8 87.2,20.6 84.1,24.4 81.1,26.7 80.3,30.5 84.1,32.8 81.1,35.1 82.6,38.1 78.0,38.1 71.9,38.9 62.7,39.7 53.6,40.4 50.5,44.2 46.0,45.8 45.2,50.3 38.3,52.6 34.5,54.2 35.3,57.2 30.7,61.0 29.9,67.1 32.2,70.2 38.3,74.2 40.4,79.3 46.5,79.3 44.4,82.4 41.4,88.5 40.4,94.6 44.4,100.7 50.5,97.6 47.5,103.7 48.5,109.8 53.6,111.9 55.6,114.9 55.6,121.0 52.6,127.1 50.5,129.2 51.6,137.3 51.6,144.4 56.6,140.3 62.7,133.2 68.9,130.2 79.0,127.1 87.2,126.1 90.2,130.2 87.2,138.3 86.2,143.4 90.2,148.5 99.4,147.5 105.5,145.4 113.6,146.4 121.8,146.4 127.9,147.5 134.0,145.4 142.1,141.4 150.3,139.3 162.5,140.3 170.5,139.2 173.6,142.2 172.6,148.3 174.6,156.4 182.7,160.5 189.9,165.6 188.9,169.7 185.8,173.7 184.8,178.8 180.7,182.9 176.6,184.9 170.5,188.0 166.5,191.0 162.4,197.1 158.3,200.2 153.2,203.2 156.3,207.3 156.3,213.4 158.3,217.5 159.3,225.6 158.3,229.7 160.4,235.8 158.3,243.9 159.0,248.1 157.0,254.2 150.9,258.3 148.9,263.4 153.9,268.5 156.0,276.6 153.9,280.7 152.9,286.8 149.9,290.8 147.8,295.9 140.7,296.9 130.5,296.9 121.4,298.0 125.4,301.0 130.5,307.1 135.6,311.2 137.7,318.3 136.6,325.4 140.7,329.5 141.7,334.6 148.9,339.7 147.8,343.7 143.8,349.8 136.6,359.3 134.6,366.4 132.6,375.6 132.6,380.7 138.7,385.8 141.7,392.9 146.8,396.9 149.9,398.0 144.8,401.0 140.7,407.1 135.6,410.2 132.6,417.3 128.5,425.4 123.4,435.6 122.4,439.7 125.4,443.7 126.5,449.8 127.5,455.9 129.3,463.6 136.5,462.5 144.6,463.6 152.7,464.6 158.9,467.6 167.0,471.7 173.1,476.8 177.2,481.9 180.2,486.9 179.2,493.1 181.2,499.2 186.3,506.3 189.4,511.4 192.4,517.5 195.5,523.6 201.6,527.6 209.7,531.7 217.9,535.8 223.0,538.8 228.1,536.8 230.1,531.7 236.2,527.6 240.3,519.5 242.3,511.4 248.4,508.3 256.6,506.3 262.7,505.3 268.1,507.5 276.3,503.4 280.4,498.3 284.4,494.2 292.6,493.2 300.7,492.2 308.9,491.6 319.0,492.2 329.2,494.2 337.4,493.2 345.5,492.2 353.6,490.2 361.8,492.2 369.9,495.3 376.0,494.2 382.1,489.2 390.3,487.1 398.4,490.2 402.5,492.2 408.6,487.1 414.7,483.1 416.7,479.0 417.8,472.9 419.7,465.6 421.2,461.0 424.3,454.9 427.3,450.3 431.9,448.8 438.0,445.8 442.6,440.4 448.7,438.1 454.8,438.9 462.4,437.4 468.5,437.4 473.1,435.8 477.7,433.6 474.7,432.0 471.6,429.0 471.6,424.4 475.4,421.4 476.2,416.8 477.7,412.2 480.0,407.6 483.5,401.4 487.5,396.3 489.6,389.2 493.6,383.1 499.7,379.0 505.9,374.9 510.9,372.9 514.0,368.8 520.1,363.7 526.2,359.7 524.2,356.6 520.1,353.6 514.0,351.5 509.9,348.5 505.9,342.4 503.8,336.3 501.8,328.1 499.7,320.0 499.7,309.8 501.7,301.7 504.8,293.6 508.9,285.4 513.9,279.3 519.0,273.2 523.1,267.1 527.2,261.0 531.2,254.9 535.3,248.8 538.4,242.7 541.4,238.6 543.5,235.6 549.6,233.6 553.6,230.5 559.7,227.5 555.7,224.4 553.6,220.3 557.7,216.3 561.8,210.2 565.9,205.1 569.9,202.0 574.0,200.0 576.6,198.9 582.7,196.6 590.4,194.3 598.0,191.3 604.1,190.5 610.2,189.0 616.3,187.5 622.4,185.9 627.0,182.9 631.6,176.8 637.7,170.8 643.8,165.8 649.9,161.7 656.0,159.7 662.1,157.6 666.2,155.6 672.3,151.5 678.4,147.5 682.5,143.4 682.5,137.3 684.5,129.2 682.5,121.0 684.5,118.0 686.6,113.9 680.5,107.8 674.4,103.7 668.2,103.7 662.1,106.8 656.0,108.8 649.9,111.9 643.8,109.8 637.7,107.8 629.6,107.8 625.5,109.8 621.4,106.8 619.4,102.7 613.3,103.7 607.2,101.7 601.1,102.7 595.0,104.7 590.9,102.7 588.9,98.6 588.9,93.6 587.8,87.5 582.7,85.4 576.6,85.4 570.5,81.4 566.5,80.3 560.4,78.3 554.2,75.3 551.2,75.3 551.2,80.3 548.1,86.4 534.0,87.8 527.9,86.8 521.8,85.8 513.6,86.8 509.6,82.7 503.5,78.6 497.4,77.6 491.2,80.7 485.1,78.6 479.0,75.6 472.9,72.5 475.0,68.5 468.9,68.5 460.7,65.4 452.6,62.4 446.5,60.3 440.4,58.3 441.4,52.2 440.4,46.1 432.2,45.1 426.1,43.1 418.0,38.9 411.1,42.3 404.3,43.5 397.4,42.3 390.5,42.3 383.7,42.3 376.8,37.8 369.9,34.3 363.1,34.3 356.2,36.6 349.3,40.0 342.4,35.5 335.6,32.0 328.7,28.6 321.8,29.7 315.0,30.9 308.1,32.0 301.2,33.2 294.4,34.3 287.5,36.6 278.3,36.6 269.2,34.3 258.4,33.6 250.3,31.5 242.1,28.5 232.0,26.4 223.8,25.4 215.7,23.4 211.6,19.3 207.5,19.3 203.5,22.4 197.4,23.4 187.2,24.4 177.0,23.4 166.8,24.4 156.6,25.4 146.5,25.4 138.3,25.4"/></clipPath><pattern id="pN" width="60" height="60" patternUnits="userSpaceOnUse"><path d="M20.9 46.6L23.1 49.3M29.9 23.6L27.8 26.3M47.0 18.5L46.9 20.6M-1.5 20.6L-0.2 17.3M47.1 52.2L49.5 51.3M44.2 46.3L44.7 48.0M49.2 36.3L49.2 33.6M23.3 29.2L20.6 30.1M15.0 20.8L13.6 22.8M40.0 48.8L44.7 48.0M10.4 -0.2L8.3 -0.1M55.9 13.4L55.7 13.9M-0.5 25.7L-0.1 27.9M58.2 15.4L63.0 14.7M5.5 10.8L4.0 11.7M32.3 49.5L31.5 50.6M28.3 35.4L28.0 35.7M28.9 57.0L26.9 59.8M6.6 9.5L5.5 10.8M28.2 8.8L32.7 7.5M36.3 25.0L35.9 25.8M46.6 9.8L48.1 6.8M44.5 14.5L44.7 14.5M18.1 33.3L18.1 33.3M55.2 14.6L55.7 13.9M27.8 13.9L26.6 12.4M50.7 56.0L51.4 57.0M2.9 29.9L-2.1 33.2M30.5 50.2L31.5 50.6M12.7 62.2L13.0 62.2M8.6 21.8L8.7 23.6M9.0 16.2L14.0 14.5M49.5 51.3L50.0 50.5M23.9 11.4L23.3 4.7M20.4 27.5L20.4 26.9M17.2 31.6L19.9 31.2M2.6 8.6L1.9 10.4M14.8 48.2L14.9 48.2M31.8 17.5L34.0 18.8M25.2 11.5L26.6 4.9M27.6 18.8L29.3 20.6M54.0 38.5L53.5 35.7M12.4 36.1L10.2 35.0M34.9 47.7L32.3 49.5M51.7 5.5L51.5 4.9M24.8 51.9L27.6 55.3M58.5 20.6L61.9 22.5M34.7 39.0L32.9 41.2M54.7 20.4L55.5 23.6M6.8 25.1L9.4 24.6M40.0 48.8L42.4 52.9M12.6 43.0L12.3 42.0M25.8 -0.7L23.5 2.3M38.2 8.8L37.3 10.9M12.4 49.7L9.9 47.9M24.1 59.3L21.9 58.2M34.0 18.8L34.3 16.9M49.6 6.8L51.7 5.7M10.0 24.8L11.2 25.4M14.5 5.0L14.0 7.1M25.9 31.6L28.3 35.4M20.5 54.7L22.4 54.9M47.7 22.9L46.7 24.3M53.7 48.9L56.1 46.3M36.5 35.0L39.5 34.2M4.4 7.4L2.7 7.3M17.4 1.7L17.4 3.1M2.6 22.0L3.4 15.7M2.7 7.3L2.6 7.4M47.7 22.9L46.9 20.6M56.8 32.4L56.0 32.2M15.8 51.0L14.9 48.2M40.0 26.4L40.8 23.9M50.0 50.5L53.2 48.7M46.7 16.7L47.3 16.1M42.1 16.4L44.7 18.6M16.1 5.4L14.5 5.0M19.3 59.0L20.4 59.1M34.1 52.9L36.2 52.6M14.1 19.0L15.0 20.8M10.6 21.9L13.1 22.9M18.1 33.3L19.9 31.2M50.7 40.9L50.1 39.9M14.7 7.9L14.0 7.1M16.1 24.4L16.3 27.1M34.7 39.0L38.8 39.4M32.0 52.1L34.1 52.9M24.0 19.5L20.8 13.7M44.0 2.0L44.3 2.1M43.5 60.6L51.4 57.0M40.6 43.4L38.9 41.8M11.7 26.5L11.2 25.4M40.6 44.8L39.5 45.4M33.4 4.8L31.9 4.3M14.5 33.4L17.5 34.0M45.2 41.4L46.5 38.7M44.4 21.1L44.8 23.1M9.3 55.9L11.7 56.5M41.2 37.6L40.6 38.5M43.8 20.5L44.7 18.6M49.2 33.6L54.1 33.1M17.9 56.1L19.0 54.4M12.4 49.7L11.6 51.8M23.3 4.7L19.4 3.8M18.2 53.0L20.1 49.9M41.9 41.9L40.6 43.4M45.2 42.3L45.2 41.4M46.3 38.0L46.5 38.7M17.5 34.0L18.1 33.3M25.6 56.7L25.3 58.2M29.5 4.2L27.7 1.4M5.1 53.3L5.0 60.5M0.4 11.3L-0.1 12.0M48.7 13.1L49.0 13.7M58.7 3.2L57.8 1.0M10.7 46.6L11.0 46.4M23.3 29.2L25.2 31.8M32.9 41.2L32.0 41.0M44.5 29.5L46.6 28.0M16.4 21.2L19.6 19.2M39.9 52.9L42.4 52.9M15.3 29.3L19.9 28.9M1.0 7.4L-1.6 6.8M14.8 52.9L11.6 51.8M44.9 36.5L46.3 38.0M24.8 56.0L22.7 57.3M34.2 10.1L29.2 11.5M27.2 39.7L25.1 39.3M55.5 23.6L52.2 26.5M5.5 10.8L6.4 13.4M19.8 16.8L14.1 19.0M6.1 41.2L8.7 40.0M58.4 6.8L57.9 6.6M16.6 46.0L15.5 47.9M39.8 19.8L40.8 21.1M37.3 10.9L38.1 11.6M9.9 7.4L8.5 4.2M38.6 29.8L38.6 30.9M18.3 48.3L15.5 47.9M19.0 49.2L15.8 51.0M16.1 24.4L17.7 23.5M46.3 38.0L49.2 36.3M19.0 49.2L18.3 48.3M35.9 20.7L34.3 20.0M8.7 40.0L8.4 36.1M27.7 1.4L25.8 3.3M42.3 15.9L44.5 14.5M4.7 60.5L5.0 60.5M26.9 59.8L27.7 60.9M39.0 49.4L39.9 52.9M9.7 29.7L6.9 30.1M54.2 16.3L50.0 14.8M3.5 53.7L0.9 54.1M60.2 56.9L56.0 59.5M28.2 27.5L27.1 30.2M5.6 47.3L5.5 47.2M21.5 22.5L20.6 23.6M40.7 23.9L41.0 22.3M52.6 41.0L52.6 41.0M48.1 6.8L49.2 6.8M38.6 53.5L38.6 55.0M20.7 26.3L20.6 23.6M24.8 50.1L30.5 50.2M8.3 59.9L8.5 58.1M6.8 25.1L7.2 23.8M17.5 36.4L16.6 38.2M37.0 50.0L36.4 52.6M24.8 51.9L23.4 54.4M1.0 7.4L0.4 11.3M19.9 28.9L20.6 30.1M2.7 7.3L2.6 4.1M48.6 18.4L49.4 16.2M17.2 44.3L16.7 45.1M37.3 27.7L40.0 26.4M39.9 32.6L41.7 33.6M38.6 30.9L39.3 31.4M25.3 58.2L22.7 57.3M54.7 32.6L50.7 28.6M49.0 13.7L47.3 16.1M2.8 14.2L3.7 12.1M2.6 22.0L4.1 21.6M45.2 41.4L41.5 37.5M8.7 40.0L10.9 40.8M19.5 42.0L23.4 42.0M38.5 -0.2L38.1 -0.3M59.9 12.0L58.4 6.8M10.4 -0.2L12.7 2.2M38.6 53.5L39.9 52.9M16.4 21.2L15.0 20.8M8.7 44.3L6.1 41.2M47.1 52.2L49.6 55.7M52.8 58.4L52.9 58.9M17.7 3.4L16.1 5.4M33.7 42.7L31.2 46.2M14.4 56.8L14.2 57.0M52.1 21.8L47.7 22.9M10.9 30.7L9.7 32.4M37.3 16.5L36.7 16.2M5.5 26.5L6.8 25.1M5.9 52.7L5.6 47.3M4.4 7.4L7.0 3.6M55.7 13.9L58.2 15.4M6.2 0.9L6.5 1.1M9.7 47.4L10.7 46.6M57.8 61.0L60.2 56.9M63.0 14.7L63.5 15.5M44.9 48.4L45.0 51.7M44.3 2.1L48.1 6.8M42.7 9.4L43.1 3.2M34.4 4.6L34.4 4.4M34.4 4.4L37.3 -0.7M51.7 5.7L51.7 5.5M34.7 39.0L34.9 34.7M48.6 18.4L53.4 20.4M53.0 59.0L52.9 58.9M6.1 53.7L6.7 55.7M39.0 49.4L37.0 50.0M38.9 41.8L38.8 39.4M19.2 4.0L19.4 3.8M19.4 41.9L19.5 42.0M36.4 57.5L35.9 58.3M22.4 54.9L22.7 57.3M30.2 4.6L29.5 4.2M2.6 4.1L1.2 2.0M11.4 57.4L10.4 59.8M22.0 11.8L21.1 12.6M17.7 3.4L17.4 3.1M54.5 51.4L51.5 53.6M52.4 46.1L55.4 43.2M18.6 47.0L18.3 48.3M29.1 35.4L31.5 33.7M46.6 28.0L47.4 25.8M4.0 11.7L2.6 8.6M27.7 1.4L27.7 0.9M20.7 13.8L20.8 13.7M13.8 17.8L20.7 13.8M50.2 38.0L53.5 35.7M9.4 24.6L8.7 23.6M25.8 3.3L24.0 3.2M59.5 25.7L56.1 25.8M14.7 8.7L14.7 7.9M23.1 49.3L24.2 49.3M18.1 33.3L17.2 31.6M25.5 59.0L25.3 58.2M31.2 46.2L32.3 49.5M26.1 19.7L24.7 23.7M19.8 16.8L19.8 18.1M19.3 45.7L18.6 47.0M25.2 11.5L23.9 11.4M29.1 35.4L32.0 41.0M40.7 23.9L40.8 23.9M50.3 11.7L48.8 12.5M20.7 30.8L19.9 31.2M19.8 7.9L19.2 4.0M55.6 8.8L57.9 6.6M33.4 4.8L34.4 4.6M40.8 21.1L43.8 20.5M6.4 13.4L9.7 10.4M9.3 55.9L6.1 53.7M44.9 48.4L47.7 47.8M38.6 55.0L36.4 57.5M23.1 49.3L22.1 49.7M54.2 16.3L54.1 20.1M11.4 57.4L12.0 56.8M25.2 31.8L25.2 31.8M19.3 45.7L20.9 46.6M9.9 24.8L10.0 24.8M35.4 12.7L36.7 16.2M18.7 43.4L17.2 44.3M31.8 17.5L29.3 20.6M39.5 34.2L39.9 32.6M9.9 7.4L9.3 9.7M14.2 57.0L12.0 56.8M49.2 6.8L49.8 3.4M55.3 42.4L55.4 43.2M58.8 40.3L58.5 44.6M2.0 22.5L1.9 22.5M4.1 21.6L6.9 22.7M10.0 7.3L12.1 6.4M48.9 43.0L50.7 40.9M54.9 50.6L53.7 48.9M18.9 40.3L16.8 39.0M16.7 45.1L13.9 45.5M1.0 7.4L2.6 7.4M49.6 6.8L49.2 6.8M14.4 56.8L14.8 52.9M31.9 4.3L31.1 0.2M1.2 38.7L0.9 38.4M23.4 42.0L23.4 42.0M52.4 46.1L52.0 46.9M33.3 58.6L31.6 59.4M3.4 44.7L1.0 45.9M30.2 4.6L28.2 8.8M34.1 27.6L30.8 28.7M56.3 44.7L58.5 44.6M28.9 57.0L28.7 55.5M13.3 3.2L14.5 5.0M24.0 3.2L23.5 2.3M47.1 1.6L49.8 3.4M28.7 55.5L30.4 54.2M55.6 8.8L55.1 10.1M16.8 39.0L16.6 38.2M32.9 8.2L29.2 11.5M52.0 46.9L50.1 46.1M39.3 31.4L43.4 31.0M62.8 14.2L63.0 14.7M45.6 34.7L44.9 36.5M27.2 39.7L28.0 35.7M51.5 9.9L55.1 10.1M38.1 -0.3L37.3 -0.7M13.1 22.9L11.2 25.4M10.9 40.8L12.1 41.9M10.2 35.0L10.3 34.0M28.3 35.4L29.1 35.4M54.6 3.3L51.7 5.5M47.0 18.4L47.0 18.5M-0.1 27.9L-3.2 32.4M14.8 48.2L13.9 45.5M62.2 0.5L61.2 2.0M6.7 27.6L6.9 30.1M8.9 57.7L8.5 58.1M45.6 34.7L44.5 33.7M8.6 17.1L9.0 16.2M14.5 33.4L14.2 31.5M20.6 23.6L17.8 23.5M30.2 4.6L31.9 4.3M44.7 18.6L47.0 18.4M8.4 36.1L5.2 32.9M7.9 27.4L6.7 27.6M54.6 3.3L53.0 -1.0M20.1 49.9L19.0 49.2M34.3 16.9L33.4 14.2M14.6 -1.6L18.2 -0.5M36.0 44.1L39.5 45.4M24.2 49.3L25.3 46.1M42.8 28.0L44.3 29.5M38.9 41.8L36.0 44.1M55.6 8.8L51.7 5.7M2.6 22.0L2.0 22.5M24.3 38.8L24.3 38.6M29.9 23.6L30.2 23.1M56.0 32.2L54.7 32.6M57.2 46.7L59.5 45.3M20.4 54.7L19.0 54.4M14.4 30.7L15.1 29.9M24.8 50.6L30.4 54.2M21.5 22.4L23.5 19.8M4.0 11.7L3.7 12.1M27.8 26.3L26.3 25.8M51.0 2.3L51.5 4.9M9.9 27.9L9.7 29.7M59.0 51.4L54.9 50.6M20.5 54.7L20.5 59.1M43.3 60.2L43.5 60.6M47.1 61.6L50.9 60.5M17.9 56.1L14.4 56.8M48.8 12.5L46.6 9.8M15.1 29.9L17.2 31.6M17.5 34.0L17.5 36.4M19.2 4.0L17.7 3.4M25.1 36.5L28.0 35.7M43.4 31.0L44.3 29.5M12.3 42.0L12.1 41.9M48.3 33.2L48.4 33.2M21.8 44.4L25.3 46.1M27.6 55.3L28.7 55.5M3.6 41.6L3.4 44.7M2.6 4.1L7.0 3.6M19.4 41.9L18.7 43.4M20.7 30.8L21.5 32.0M27.3 44.8L25.4 46.1M34.6 33.8L34.9 34.7M51.0 2.3L50.9 0.5M53.0 -1.0L56.0 -0.5M40.8 23.9L42.9 25.8M48.3 33.2L44.5 29.5M35.9 -1.7L37.3 -0.7M14.2 31.5L10.3 34.0M9.9 7.4L10.0 7.3M28.2 27.5L30.8 28.7M25.3 26.3L20.7 26.3M13.4 48.6L11.0 46.4M34.2 10.1L32.9 8.2M48.9 43.0L45.7 43.0M13.6 22.8L14.5 24.5M15.7 52.4L14.8 52.9M41.5 37.4L41.5 37.5M29.2 11.5L26.6 12.4M44.2 10.7L44.3 10.6M27.8 26.3L28.2 27.5M47.0 18.5L48.6 18.4M38.1 6.7L38.2 8.8M11.7 56.5L12.0 56.8M41.0 22.3L44.8 23.1M19.6 19.2L21.5 22.4M16.1 24.4L14.5 24.5M52.2 26.5L51.4 26.3M6.8 47.0L9.7 47.4M13.6 18.5L9.4 18.5M33.7 42.7L35.0 44.1M25.4 41.8L28.1 43.3M45.7 24.1L46.7 24.3M54.9 56.2L54.5 51.4M8.5 4.2L7.2 3.5M50.7 56.0L51.5 53.6M36.7 5.6L38.5 -0.2M19.0 54.4L18.2 53.0M36.4 57.5L36.2 52.6M15.3 29.3L15.1 29.9M2.2 60.5L4.7 60.5M41.0 22.3L40.8 21.1M20.1 49.9L22.1 49.7M24.0 19.5L23.5 19.8M9.0 18.1L9.4 18.5M34.7 27.5L34.1 27.6M17.2 44.3L12.6 43.0M25.4 41.8L23.4 42.0M43.1 3.2L43.2 3.1M15.7 52.4L15.8 51.0M55.4 43.2L56.3 44.7M11.7 30.4L10.9 30.7M3.5 53.7L5.1 53.3M38.8 39.4L40.6 38.5M39.2 47.2L39.5 45.4M50.7 40.9L52.6 41.0M13.8 17.8L14.0 14.5M20.4 26.9L17.6 26.1M26.6 4.9L25.8 3.3M10.7 27.6L9.9 27.9M10.3 34.0L9.7 32.4M24.7 23.7L21.5 22.5M5.6 15.7L6.4 13.4M3.7 12.1L1.9 10.4M36.0 44.1L35.0 44.1M19.8 16.8L20.7 13.8M31.8 17.5L28.2 14.1M44.5 33.7L43.4 31.5M38.1 6.7L36.7 5.6M59.5 48.5L57.2 46.7M27.3 44.8L28.6 45.9M12.7 43.9L11.0 46.4M28.2 14.1L27.8 13.9M30.7 54.1L30.4 54.2M43.8 20.5L44.4 21.1M34.4 4.6L35.0 4.8M55.3 42.4L52.6 41.0M38.6 53.5L36.4 52.6M9.6 20.4L8.6 21.8M25.6 11.6L26.6 12.4M4.6 26.2L2.0 22.5M50.9 60.5L52.9 58.9M19.5 42.0L21.8 44.4M23.4 54.4L24.8 56.0M35.9 20.7L38.0 19.8M14.4 30.7L11.7 30.4M-0.8 50.7L5.5 47.2M57.2 46.7L56.1 46.3M54.6 3.3L57.6 4.7M48.7 13.1L44.7 14.5M5.5 47.2L3.4 44.7M25.9 31.6L25.2 31.8M30.7 54.1L32.0 52.1M28.2 8.8L25.6 11.6M58.5 44.6L59.5 45.3M9.5 52.0L10.7 52.2M32.9 8.2L32.7 7.5M8.6 17.1L9.0 18.1M31.1 60.2L27.7 60.9M5.5 26.5L4.6 26.2M6.9 22.7L7.2 23.8M49.5 51.3L51.5 53.6M6.7 55.7L8.5 58.1M0.6 36.4L5.2 32.9M23.4 54.4L22.4 54.9M21.1 34.5L20.9 34.0M58.8 40.3L55.3 42.4M32.5 33.3L34.6 33.8M26.1 19.7L24.0 19.5M41.2 37.6L41.3 37.5M24.5 39.0L24.3 38.8M54.7 20.4L54.1 20.1M14.8 11.8L10.6 11.2M5.5 26.5L6.7 27.6M20.4 39.2L21.6 35.8M48.3 56.2L49.6 55.7M44.5 33.7L41.8 34.2M41.3 37.5L41.5 37.5M9.9 24.8L9.4 24.6M15.2 28.5L14.1 27.3M34.7 27.5L35.9 26.5M55.1 10.1L55.9 13.4M43.4 31.0L43.4 31.5M38.5 59.8L43.2 60.1M43.1 59.5L43.8 53.3M41.6 28.1L42.8 28.0M5.4 32.3L2.9 29.9M33.3 58.6L30.7 54.1M33.3 -1.4L33.9 -1.4M-1.0 51.4L-0.8 50.7M11.7 56.5L10.7 52.2M40.6 44.8L44.2 46.3M29.3 20.6L30.4 22.0M9.0 16.2L10.6 11.2M23.4 42.0L25.4 46.1M34.7 33.6L34.6 33.8M34.7 27.5L34.7 33.6M9.9 47.9L9.7 47.4M35.0 47.7L34.9 47.7M50.0 14.8L49.4 16.2M25.1 39.3L25.4 41.8M54.7 20.4L58.5 20.6M35.0 44.1L34.9 47.7M44.3 62.1L44.0 62.0M4.7 60.5L3.5 53.7M39.6 48.8L39.2 47.2M4.4 7.4L6.6 9.5M20.6 30.1L20.7 30.8M20.4 26.9L20.7 26.3M59.0 51.4L60.9 54.1M7.0 3.6L7.2 3.5M8.3 -0.1L6.5 1.1M34.0 18.8L34.3 20.0M3.6 41.6L6.1 41.2M27.1 30.2L31.5 33.7M11.7 30.4L10.7 27.6M13.6 18.5L13.8 17.8M10.6 21.9L9.6 20.4M-1.6 6.8L-2.1 6.6M26.3 25.8L25.3 26.3M53.5 35.7L54.1 33.1M8.7 44.3L6.8 47.0M9.1 44.2L12.1 41.9M39.2 47.2L35.0 47.7M42.4 52.9L43.7 53.1M49.9 3.4L51.5 4.9M47.7 47.8L50.1 46.1M39.3 31.4L39.9 32.6M30.4 22.0L34.3 20.0M12.6 43.0L12.7 43.9M41.8 34.2L41.7 33.6M42.8 28.0L42.9 25.8M0.9 38.4L0.6 36.4M38.6 30.9L34.7 33.6M49.2 36.3L50.2 38.0M51.0 2.3L49.9 3.4M38.0 19.8L39.8 19.8M9.1 44.2L10.7 46.6M21.4 1.1L19.4 3.8M50.1 39.9L50.2 38.0M22.0 11.8L19.8 7.9M17.9 56.1L19.3 59.0M34.3 16.9L36.7 16.2M14.8 11.8L14.7 8.7M47.4 25.8L46.7 24.3M24.8 50.1L24.2 49.3M35.4 12.7L36.5 11.2M8.6 21.8L6.9 22.7M34.2 10.1L36.5 11.2M36.7 5.6L35.0 4.8M50.0 50.5L47.7 47.8M20.4 39.2L24.3 38.8M25.9 31.6L27.1 30.2M45.7 43.0L44.2 46.3M45.0 51.7L47.1 52.2M10.9 40.8L12.4 36.1M21.5 32.0L20.9 34.0M23.9 35.2L21.6 35.2M22.0 11.8L23.9 11.4M8.6 17.1L5.6 15.7M9.7 32.4L6.6 31.2M14.8 11.8L14.8 11.8M50.7 28.6L48.9 29.7M12.1 6.4L14.0 7.1M10.6 11.2L9.7 10.4M33.4 14.2L35.4 12.7M14.1 27.3L11.7 26.5M56.1 46.3L56.3 44.7M16.8 39.0L12.3 42.0M41.9 41.9L40.6 38.5M32.5 33.3L31.5 33.7M52.6 41.0L52.4 46.1M53.2 48.7L52.0 46.9M58.2 15.4L59.8 17.3M16.2 6.7L14.7 7.9M52.1 21.8L51.4 26.3M41.6 16.8L38.5 15.4M49.0 13.7L50.0 14.8M20.5 54.7L20.4 54.7M9.9 27.9L7.9 27.4M21.9 58.2L22.7 57.3M41.6 16.8L42.1 16.4M23.5 28.2L25.3 26.3M21.6 35.2L21.1 34.5M36.3 25.0L40.7 23.9M27.6 18.8L27.8 13.9M16.3 27.1L17.6 26.1M42.9 25.8L45.7 24.1M24.8 50.6L24.8 50.1M20.4 27.5L19.9 28.9M41.7 33.6L43.4 31.5M14.6 58.4L14.2 57.0M43.3 60.2L48.3 56.2M20.5 59.1L21.9 58.2M36.5 35.0L41.2 37.6M43.2 60.1L43.1 59.5M38.5 15.4L38.1 11.6M42.3 15.9L40.5 12.7M14.8 11.8L21.1 12.6M13.2 2.4L13.3 3.2M21.6 35.8L24.3 38.6M23.5 28.2L20.4 27.5M14.5 33.4L14.0 35.9M56.1 25.8L55.3 27.6M56.1 25.8L55.5 23.6M25.1 36.5L23.9 35.2M3.6 41.6L1.2 38.7M12.4 36.1L14.0 35.9M44.4 21.1L46.9 20.6M0.4 11.3L1.9 10.4M39.6 48.8L40.0 48.8M13.6 18.5L14.1 19.0M44.0 2.0L43.2 3.1M48.9 43.0L50.1 46.1M9.3 55.9L8.9 57.7M38.0 19.8L37.3 16.5M14.8 48.2L13.4 48.6M41.5 37.4L41.8 34.2M43.8 53.3L48.3 56.2M54.9 56.2L60.4 55.1M35.1 -1.8L35.9 -1.7M20.4 39.2L18.9 40.3M8.7 44.3L9.1 44.2M2.2 60.5L0.4 56.7M24.1 59.3L25.5 59.0M5.7 53.1L6.1 53.7M44.9 36.5L41.5 37.4M13.6 22.8L13.1 22.9M42.3 15.9L42.1 16.4M29.5 4.2L26.6 4.9M43.3 60.2L43.2 60.1M51.4 26.3L50.8 26.7M8.4 36.1L8.4 36.1M55.2 14.6L54.2 16.3M37.0 50.0L35.0 47.7M55.9 13.4L59.8 12.2M36.5 35.0L34.9 34.7M53.0 -1.0L52.9 -1.1M43.1 59.5L38.6 55.0M14.0 14.5L14.8 11.8M28.1 43.3L27.3 44.8M2.6 7.4L2.6 8.6M59.8 17.3L63.4 15.7M48.4 33.2L49.2 33.6M28.9 57.0L31.6 59.4M44.8 10.3L44.3 10.6M13.9 45.5L12.7 43.9M5.2 32.9L5.4 32.3M53.7 48.9L53.2 48.7M47.3 16.1L49.4 16.2M21.5 32.0L25.2 31.8M23.5 28.2L23.3 29.2M58.8 40.3L60.1 38.9M14.9 48.2L15.5 47.9M36.5 11.2L37.3 10.9M1.2 38.7L8.4 36.1M38.6 29.8L37.3 27.7M8.7 23.6L7.2 23.8M36.3 25.0L35.9 20.7M10.0 24.8L10.6 21.9M25.6 56.7L24.8 56.0M29.3 41.9L27.2 39.7M45.2 42.3L45.7 43.0M39.8 19.8L41.6 16.8M29.9 23.6L34.1 27.6M29.3 41.9L28.1 43.3M7.2 3.5L6.5 1.1M57.8 61.0L56.0 59.5M20.4 59.1L20.5 59.1M5.6 15.7L3.5 15.5M30.8 28.7L32.5 33.3M51.5 9.9L50.3 11.7M-1.6 6.8L-0.1 12.0M24.8 51.9L24.8 50.6M-3.2 32.4L-2.1 33.2M11.4 57.4L8.9 57.7M54.1 33.1L54.7 32.6M2.9 29.9L2.7 28.5M48.9 29.7L46.6 28.0M16.6 46.0L18.6 47.0M17.6 26.1L17.8 23.5M43.2 3.1L44.8 10.3M10.7 27.6L11.7 26.5M13.0 2.2L13.2 2.4M33.9 -1.4L34.4 4.4M48.8 12.5L48.7 13.1M14.3 -0.5L17.4 1.7M14.2 31.5L14.4 30.7M9.5 52.0L5.9 52.7M5.9 52.7L5.7 53.1M39.6 48.8L39.0 49.4M21.6 35.8L21.6 35.2M21.5 22.5L21.5 22.4M18.2 -0.5L17.4 1.7M32.9 41.2L33.7 42.7M40.5 12.7L38.1 11.6M50.7 56.0L49.6 55.7M46.7 16.7L47.0 18.4M26.3 25.8L24.7 23.7M38.1 6.7L43.1 3.2M15.7 52.4L18.2 53.0M19.8 18.1L23.5 19.8M27.6 55.3L25.6 56.7M54.9 56.2L52.8 58.4M38.6 29.8L41.6 28.1M36.2 52.6L36.4 52.6M16.7 45.1L16.6 46.0M9.9 24.8L7.9 27.4M15.2 28.5L16.3 27.1M25.1 39.3L24.5 39.0M16.6 38.2L14.0 35.9M32.0 52.1L31.5 50.6M9.6 20.4L9.4 18.5M23.5 2.3L21.4 1.1M18.7 43.4L19.3 45.7M19.4 41.9L18.9 40.3M40.5 12.7L44.2 10.7M52.6 41.0L54.0 38.5M46.6 9.8L44.8 10.3M0.6 36.4L-2.1 33.2M4.6 26.2L2.7 28.5M61.0 45.9L59.5 45.3M6.6 9.5L9.3 9.7M38.5 15.4L37.3 16.5M28.6 45.9L30.5 50.2M5.6 47.3L6.8 47.0M28.2 14.1L33.4 14.2M48.4 33.2L48.9 29.7M17.5 36.4L21.1 34.5M40.6 44.8L40.6 43.4M24.5 39.0L23.4 42.0M35.9 26.5L35.9 25.8M-2.4 4.7L-2.1 6.6M50.8 26.7L47.4 25.8M60.9 38.4L60.1 38.9M5.4 32.3L6.6 31.2M45.2 42.3L41.9 41.9M40.0 26.4L41.6 28.1M25.3 46.1L25.4 46.1M54.5 51.4L54.9 50.6M14.6 -1.6L14.3 -0.5M44.8 23.1L45.7 24.1M15.2 28.5L15.3 29.3M39.5 34.2L41.3 37.5M30.2 23.1L30.4 22.0M2.7 28.5L-0.1 27.9M63.5 15.5L63.4 15.7M35.9 26.5L37.3 27.7M10.9 30.7L9.7 29.7M27.6 18.8L26.1 19.7M6.2 60.9L6.7 55.7M31.2 46.2L28.6 45.9M51.4 57.0L52.8 58.4M25.1 36.5L24.3 38.6M10.7 52.2L11.6 51.8M50.1 39.9L46.5 38.7M42.7 9.4L44.3 10.6M45.6 34.7L48.3 33.2M6.9 30.1L6.6 31.2M14.5 24.5L14.1 27.3M44.7 14.5L46.7 16.7M16.1 5.4L16.2 6.7M49.9 3.4L49.8 3.4M35.1 58.2L34.1 52.9M21.1 12.6L20.8 13.7M20.4 54.7L22.1 49.7M44.5 14.5L44.2 10.7M44.3 29.5L44.5 29.5M44.9 48.4L44.7 48.0M52.1 21.8L53.4 20.4M45.0 51.7L43.7 53.1M43.8 53.3L43.7 53.1M13.2 2.4L17.4 3.1M30.2 23.1L35.9 25.8M60.1 38.9L54.0 38.5M24.0 3.2L23.3 4.7M-1.3 3.2L-2.4 4.7M17.8 23.5L17.7 23.5M12.4 49.7L13.4 48.6M4.1 21.6L9.0 18.1M38.2 8.8L42.7 9.4M50.7 28.6L50.8 26.7M55.3 27.6L56.0 32.2M25.6 11.6L25.2 11.5M8.5 4.2L12.7 2.2M16.4 21.2L17.7 23.5M60.9 54.1L60.4 55.1M54.1 20.1L53.4 20.4M19.8 7.9L16.2 6.7M59.9 12.0L59.8 12.2M33.4 4.8L32.7 7.5M10.0 7.3L14.7 8.7M5.1 53.3L5.7 53.1M60.4 -3.3L60.2 -3.1M50.3 11.7L55.2 14.6M51.5 9.9L49.6 6.8M21.4 1.1L21.4 1.1M12.1 6.4L13.3 3.2M8.4 36.1L10.2 35.0M60.4 -3.3L62.2 0.5M52.2 26.5L55.3 27.6M9.3 9.7L9.7 10.4M29.3 41.9L32.0 41.0M9.5 52.0L9.9 47.9M22.7 57.3L22.7 57.3M33.9 -1.4L35.1 -1.8M23.9 35.2L25.2 31.8M20.9 46.6L21.8 44.4M35.0 4.8L38.1 -0.3M31.1 60.2L31.6 59.4M18.1 33.3L20.9 34.0M19.6 19.2L19.8 18.1M-0.8 50.7L-0.5 48.5" fill="none" stroke="#fff" stroke-width="0.6"/></pattern><pattern id="pS" width="90" height="90" patternUnits="userSpaceOnUse"><path d="M19.8 26.7L23.6 21.4M23.3 86.8L23.6 82.7M4.8 86.2L6.7 83.1M76.5 58.2L69.8 59.1M20.8 38.5L22.1 41.9M45.0 68.8L47.0 72.9M53.1 30.7L53.3 30.2M-0.5 78.1L3.5 70.7M52.3 15.6L47.5 15.7M17.2 82.6L18.0 82.4M92.7 1.7L92.8 1.6M66.1 85.9L65.6 85.9M31.0 86.3L30.9 86.4M8.7 33.4L9.3 32.4M79.5 3.8L92.7 1.7M54.8 57.5L51.7 61.4M53.9 3.5L56.5 9.6M19.7 1.8L18.6 -0.1M55.6 19.7L55.9 17.8M70.0 43.6L68.6 45.7M71.4 51.9L69.3 46.5M58.3 11.1L56.5 9.6M70.3 30.6L77.2 34.4M57.1 91.1L59.5 91.3M34.0 63.5L35.3 59.5M85.9 75.1L89.5 68.0M5.1 37.6L8.8 45.2M66.6 19.3L63.8 13.8M46.1 77.1L38.1 82.3M3.9 22.4L3.1 22.4M31.2 28.7L31.2 32.8M77.0 91.5L70.9 90.7M8.2 16.0L3.2 12.5M77.5 34.2L78.6 35.7M58.4 13.2L56.1 13.0M57.1 68.0L51.6 66.8M76.1 53.2L76.9 49.1M77.2 77.3L85.9 75.7M23.6 21.4L24.5 20.7M18.0 82.4L23.6 82.7M-0.5 68.0L0.8 68.3M2.1 35.2L3.5 36.1M11.6 14.2L12.3 15.2M1.2 28.0L-0.7 25.5M19.8 10.7L19.0 11.8M40.3 38.8L39.1 35.9M61.7 18.5L60.5 15.7M58.5 64.1L54.8 57.5M64.5 51.5L66.2 46.2M3.6 28.4L2.5 27.5M67.7 6.3L66.0 5.8M54.7 92.5L49.3 87.7M9.3 32.4L4.7 28.0M68.2 61.3L75.1 65.4M62.2 19.4L66.6 19.3M-2.5 16.9L-0.7 19.5M68.1 70.2L65.2 72.2M3.4 17.3L2.5 12.8M46.6 57.7L46.9 56.3M77.0 58.8L76.5 58.2M75.1 65.4L77.9 64.1M31.2 32.8L39.1 35.9M64.4 56.0L61.0 57.0M20.1 51.3L23.4 51.4M47.7 22.9L45.5 25.7M70.0 34.3L75.5 35.8M52.4 51.2L47.9 45.9M0.0 64.1L4.0 61.0M57.2 65.5L57.1 68.0M4.2 78.5L3.5 70.7M-3.1 82.8L4.8 86.2M86.9 82.8L85.5 85.2M77.7 34.0L76.0 26.7M46.9 56.3L44.3 53.7M18.6 89.9L23.3 86.8M44.3 30.0L45.3 25.7M84.9 58.1L89.2 58.6M40.9 56.1L41.1 57.1M40.5 68.7L36.1 74.9M13.5 7.1L13.3 2.4M46.6 87.2L43.5 83.9M62.2 80.7L65.5 74.8M34.5 81.5L35.8 81.1M65.6 85.9L59.9 91.2M76.4 78.7L77.9 81.4M51.2 35.3L50.5 33.6M24.5 20.7L24.6 20.7M30.2 10.3L27.6 10.8M30.2 69.4L36.1 74.9M8.1 20.0L10.6 21.0M42.6 60.8L40.5 62.0M34.4 54.2L40.9 56.1M3.5 36.1L3.9 36.1M36.1 74.9L36.1 75.0M15.9 18.9L18.5 16.9M37.7 66.7L40.5 68.7M73.3 78.3L71.3 79.1M6.7 83.1L8.7 82.9M41.4 63.5L46.0 66.5M19.8 26.7L13.8 23.6M76.9 42.6L74.6 37.7M52.9 15.4L52.9 14.9M76.4 78.7L77.2 77.3M76.9 49.1L81.7 44.9M11.6 12.9L11.6 14.2M11.6 12.6L13.0 7.5M81.7 84.6L78.8 93.4M74.6 37.7L75.5 35.8M20.8 45.2L20.8 47.0M53.9 93.5L54.7 92.5M46.6 87.2L46.6 87.2M10.8 73.4L10.2 71.3M14.3 69.9L16.1 71.0M51.6 66.8L49.3 64.8M56.1 13.0L54.4 11.5M42.5 14.9L37.4 21.8M89.5 68.0L89.2 67.6M63.2 35.7L63.0 36.0M15.8 73.7L16.1 71.0M3.4 1.1L13.2 2.4M79.5 3.8L80.8 8.1M68.8 26.2L70.9 24.2M58.7 28.2L61.1 34.2M27.1 22.0L24.6 20.7M14.3 69.9L10.8 70.2M32.5 12.9L30.6 10.3M62.2 19.4L61.7 18.5M33.0 51.9L38.8 46.1M23.6 21.4L15.3 21.7M10.9 69.8L5.9 64.6M66.6 12.8L68.9 7.9M70.3 30.6L70.0 34.3M-0.5 78.1L-3.2 78.2M68.6 84.0L71.3 79.1M50.4 21.7L50.4 22.0M1.6 52.2L1.1 54.1M8.1 20.0L7.7 18.1M4.8 -3.1L3.4 1.1M32.0 18.5L27.1 22.0M76.4 78.7L73.3 78.3M14.4 57.6L2.4 58.7M76.0 26.7L78.2 26.0M4.2 78.5L-0.5 78.1M79.1 24.3L79.0 21.9M24.8 19.3L19.8 10.7M13.1 41.4L14.1 39.5M14.7 0.3L13.3 2.4M85.9 75.7L85.9 75.1M61.7 18.5L57.1 20.9M61.0 25.4L60.3 26.0M55.5 37.2L58.3 41.5M28.1 24.0L27.1 22.0M56.5 9.6L54.4 11.5M20.8 47.0L28.2 40.5M40.0 58.2L40.1 61.9M46.1 77.1L46.1 77.1M2.5 27.5L1.2 28.0M26.2 60.5L18.7 62.0M81.4 22.9L81.9 21.7M30.2 10.3L30.6 10.3M2.5 12.8L3.2 12.5M67.4 84.8L66.1 85.9M46.3 33.8L40.3 38.8M34.0 63.5L40.1 61.9M52.9 14.9L56.1 13.0M25.9 51.2L28.2 45.3M37.4 21.8L37.1 21.6M13.8 23.6L15.3 21.7M48.2 81.8L46.6 87.2M58.0 34.5L55.5 37.2M34.4 54.2L33.0 51.9M3.4 17.3L2.4 21.0M14.9 53.6L15.0 53.6M13.0 7.5L13.5 7.1M83.7 52.1L86.2 47.2M16.2 38.5L18.8 35.9M20.2 30.9L21.2 32.4M90.7 57.5L90.7 57.5M11.7 47.2L11.6 47.1M52.4 27.6L52.2 23.6M44.3 53.7L41.1 55.6M49.9 43.7L51.2 35.3M40.3 1.7L46.0 -2.2M46.6 87.2L49.3 87.7M13.0 75.4L15.8 73.7M55.7 73.3L55.2 79.9M58.3 41.5L58.3 41.5M83.8 40.3L78.6 35.7M59.6 55.5L64.5 51.5M80.8 8.1L87.4 9.0M70.9 0.7L67.7 6.3M5.6 10.2L3.2 12.5M78.8 20.2L82.8 18.5M76.3 85.4L77.0 91.5M93.0 22.6L92.4 23.2M54.0 81.1L57.1 91.1M52.9 14.9L52.5 11.8M61.0 71.2L58.3 71.0M86.8 78.2L86.5 79.3M9.3 32.4L10.1 31.6M53.1 30.7L50.9 32.8M70.9 90.7L66.1 85.9M8.7 33.4L3.9 36.1M7.7 61.6L4.0 61.0M77.0 58.8L84.1 57.0M42.6 14.4L42.5 14.9M23.8 4.4L19.7 1.8M46.3 33.8L50.5 33.6M84.1 57.0L84.9 58.1M67.9 54.0L64.5 51.5M26.7 2.1L28.4 -0.3M63.8 13.8L60.5 15.7M58.9 27.9L60.3 26.0M38.1 82.3L35.8 81.1M45.2 45.7L44.3 53.7M29.3 27.4L21.4 32.4M61.0 57.0L59.6 55.5M0.7 57.5L14.7 55.7M11.7 47.2L-1.2 48.6M61.1 34.2L63.2 35.7M3.9 22.4L8.1 25.8M33.2 64.7L31.9 65.2M86.2 47.2L87.3 47.3M5.1 37.6L3.9 36.1M50.4 22.0L47.7 22.9M78.2 43.3L73.8 46.9M77.9 72.8L77.8 72.7M50.9 32.8L46.6 26.5M18.2 14.9L19.0 11.8M70.7 40.0L74.6 37.7M59.9 9.8L58.3 11.1M58.0 34.5L61.1 34.2M38.5 83.1L43.5 83.9M58.5 64.1L57.2 65.5M2.0 34.8L3.6 28.4M-0.2 30.0L1.2 28.0M67.8 36.3L70.7 40.0M52.1 23.0L60.3 26.0M76.1 53.2L71.4 51.9M64.3 13.1L63.8 13.8M66.9 62.0L68.1 70.2M17.2 82.6L15.6 77.5M77.9 64.1L79.2 64.8M58.5 64.1L62.7 62.0M2.4 21.0L-0.7 19.5M89.2 67.6L83.5 65.3M59.5 15.5L58.4 13.2M83.0 65.4L83.5 65.3M40.0 58.2L41.1 57.1M54.8 57.5L56.4 54.4M24.6 73.4L22.3 71.6M59.9 1.2L66.0 5.8M18.0 82.4L20.6 76.7M79.5 3.8L85.4 -2.3M15.7 87.7L8.7 82.9M92.1 35.2L92.0 34.8M3.1 22.4L3.0 22.6M29.7 37.1L30.2 39.0M35.3 59.5L40.0 58.2M18.8 35.8L21.2 32.4M73.3 78.3L71.1 70.5M67.9 45.7L68.6 45.7M87.0 22.3L86.8 22.3M46.1 58.0L41.3 57.2M46.1 77.1L39.9 74.6M58.7 28.2L58.9 27.9M40.1 30.0L38.4 30.9M5.1 79.2L4.2 78.5M37.1 21.6L28.1 24.0M10.8 70.2L10.2 71.3M14.6 57.4L18.7 62.0M64.6 45.8L66.2 46.2M77.9 81.4L86.5 79.3M64.4 56.0L67.9 54.0M62.2 80.7L60.0 80.1M14.7 55.7L14.6 57.4M6.0 6.1L13.2 2.4M43.5 83.9L48.2 81.8M77.2 77.3L77.9 72.8M19.7 1.8L18.1 8.7M65.2 72.2L65.5 74.8M59.9 1.2L59.5 1.3M20.6 71.8L16.1 71.0M57.2 65.5L51.7 61.4M67.8 36.3L70.0 34.3M47.0 72.9L46.1 77.1M40.3 1.7L40.2 2.1M61.0 25.4L60.8 24.8M63.6 35.7L64.1 35.9M21.2 32.4L21.4 32.4M76.3 53.4L76.5 58.2M5.1 79.2L6.7 83.1M54.7 92.5L57.1 91.1M60.5 45.2L55.5 52.7M81.7 44.9L78.4 43.3M68.6 45.7L69.3 46.5M82.8 18.5L83.1 18.0M3.5 36.1L0.6 44.3M24.4 75.0L20.6 76.7M27.6 10.8L24.4 9.4M84.4 28.0L78.2 26.0M37.7 66.7L41.4 63.5M71.9 70.2L77.8 72.7M50.4 21.7L47.5 15.7M76.3 53.4L76.1 53.2M46.3 33.8L44.3 30.0M6.3 7.1L6.0 6.1M62.7 62.0L63.5 61.2M83.0 65.4L79.2 64.8M87.5 16.9L83.2 17.6M41.1 55.6L40.9 56.1M28.2 40.5L28.6 40.5M8.8 45.2L0.6 44.3M10.1 31.6L18.8 35.8M49.9 43.7L58.3 41.5M51.7 61.4L51.4 61.5M93.0 22.6L93.1 22.4M11.6 12.9L19.0 11.8M39.5 42.2L40.2 44.0M77.9 81.4L77.9 82.2M83.2 17.6L83.1 18.0M29.3 27.4L28.1 24.0M5.1 79.2L10.8 73.4M32.0 18.5L34.6 19.6M86.8 22.3L84.9 24.7M40.3 91.7L40.2 92.1M84.8 27.6L84.4 28.0M62.2 19.4L60.8 24.8M3.6 28.4L4.7 28.0M4.8 86.9L14.7 90.3M83.0 65.4L81.3 72.4M20.6 71.8L15.8 73.7M18.8 35.9L20.8 38.5M22.1 41.9L25.8 40.3M40.2 44.0L39.7 44.7M41.4 63.5L40.5 62.0M63.6 9.2L60.5 7.6M61.0 71.2L60.0 80.1M61.5 71.2L65.2 72.2M76.9 42.6L70.0 43.6M52.5 72.3L51.6 66.8M54.0 81.1L52.6 81.1M71.1 21.1L70.9 24.2M78.8 20.2L79.0 21.9M13.6 76.6L15.6 77.5M14.9 53.6L11.7 47.2M45.3 25.7L45.5 25.7M66.6 12.8L64.3 13.1M49.9 43.7L47.9 45.9M59.5 91.3L59.9 91.2M79.1 24.3L81.4 22.9M18.2 14.9L18.5 16.9M45.3 25.7L42.3 24.6M12.5 16.1L15.9 18.9M53.3 30.2L52.4 27.6M13.6 76.6L13.0 75.4M31.0 86.3L40.2 92.1M34.4 54.2L35.3 59.5M57.1 20.9L60.8 24.8M46.0 66.5L46.1 66.4M46.1 77.1L49.2 80.3M1.6 52.2L14.9 53.6M65.6 -4.1L59.9 1.2M66.9 62.0L63.5 61.2M56.4 54.4L55.5 52.7M87.4 9.0L92.7 1.7M69.4 56.6L69.3 54.4M8.2 16.0L7.7 18.1M31.1 66.4L30.2 69.4M33.2 64.7L37.7 66.7M30.9 86.4L24.4 81.5M75.3 13.6L79.3 11.4M83.5 31.9L84.4 28.0M24.6 20.7L24.8 19.3M61.0 71.2L61.5 71.2M33.2 64.7L34.0 63.5M59.5 15.5L55.9 17.8M79.3 11.4L83.2 17.6M26.2 60.5L23.4 51.4M67.4 84.8L66.4 75.7M59.6 55.5L56.4 54.4M64.1 35.9L67.8 36.3M86.3 27.6L84.8 27.6M7.7 18.1L3.4 17.3M23.3 -3.2L18.6 -0.1M52.6 81.1L49.3 87.7M68.1 70.2L71.1 70.5M72.3 18.6L78.8 20.2M38.4 30.9L39.1 35.9M11.7 80.6L13.6 76.6M44.4 61.4L46.1 66.4M11.2 26.6L11.3 29.1M5.6 10.2L11.6 12.6M15.0 53.6L20.1 51.3M13.0 75.4L10.8 73.4M83.7 52.1L84.1 55.7M76.3 53.4L83.7 52.1M51.2 35.3L55.5 37.2M18.6 -0.1L16.1 -0.8M50.4 22.0L51.9 22.6M87.1 35.7L83.5 31.9M52.4 27.6L46.6 26.5M62.2 80.7L65.6 85.9M41.9 24.7L37.8 23.3M32.5 12.9L32.0 18.5M2.4 58.7L4.0 61.0M14.7 0.3L4.8 -3.1M3.1 1.5L3.4 1.1M20.1 51.3L20.8 47.0M63.5 11.5L59.9 9.8M12.5 16.1L10.6 21.0M44.5 8.2L40.0 3.7M78.2 43.3L76.9 42.6M31.1 66.4L18.8 62.1M64.6 45.8L63.0 36.0M26.7 2.1L30.2 10.3M14.7 90.3L16.1 89.2M31.0 86.3L34.5 81.5M44.0 68.9L40.5 68.7M16.2 38.5L20.8 45.2M49.2 80.3L52.6 81.1M58.4 13.2L58.3 11.1M40.1 61.9L40.5 62.0M89.2 67.6L90.0 64.1M49.3 64.8L46.1 66.4M72.5 17.4L75.3 13.6M23.4 33.9L29.7 37.1M24.4 38.9L25.8 40.3M40.1 30.0L41.9 24.7M58.3 71.0L55.7 73.3M47.5 15.7L43.5 13.3M84.8 27.6L84.7 25.7M78.6 35.7L78.4 43.3M6.3 7.1L5.6 10.2M76.9 49.1L73.8 46.9M2.4 23.2L0.1 24.4M51.4 61.5L46.6 57.7M2.8 1.6L3.1 1.5M52.2 23.6L52.1 23.0M43.5 13.3L42.6 14.4M15.9 18.9L15.3 21.7M53.9 93.5L51.2 95.0M52.3 15.6L50.4 21.7M0.6 44.3L-2.7 47.3M12.7 23.9L11.2 26.6M71.1 21.1L72.3 18.6M53.1 30.7L58.0 34.5M55.6 19.7L51.9 22.6M89.3 19.5L87.0 22.3M53.3 30.2L58.7 28.2M37.6 14.3L34.6 19.6M48.3 7.2L52.5 11.8M39.9 74.6L44.0 68.9M5.9 64.6L7.7 61.6M46.6 26.5L45.5 25.7M86.8 22.3L83.1 18.0M41.1 57.1L41.3 57.2M28.4 -0.3L23.3 -3.2M42.3 24.6L41.9 24.7M35.8 81.1L36.1 75.0M34.9 28.1L31.2 28.7M29.5 61.6L28.6 52.2M13.5 7.1L18.1 8.7M14.4 57.6L10.9 69.8M83.5 65.3L84.9 58.1M31.9 65.2L29.5 61.6M78.8 93.4L79.5 93.8M34.8 5.1L30.6 10.3M3.5 70.5L10.2 71.3M13.1 41.4L11.6 47.1M78.2 26.0L79.1 24.3M20.2 30.9L19.8 26.7M46.6 87.2L46.0 87.8M44.5 8.2L43.5 13.3M82.7 19.9L81.9 21.7M42.6 14.4L37.6 14.3M19.8 10.7L19.8 10.7M67.4 84.8L68.6 84.0M60.0 80.1L55.2 79.9M10.6 21.0L12.7 23.9M-2.7 47.3L-1.2 48.6M82.7 19.9L82.8 18.5M18.8 62.1L18.7 62.0M85.9 75.1L81.3 72.4M43.7 18.5L42.5 14.9M84.7 25.7L81.4 22.9M85.4 87.7L79.5 93.8M67.1 26.8L63.6 35.7M3.0 22.6L5.0 27.5M81.3 72.4L77.9 72.8M14.1 39.5L16.2 38.5M4.8 86.9L4.8 86.2M77.9 82.2L81.7 84.6M76.3 85.4L77.9 82.2M70.0 43.6L70.7 40.0M68.6 84.0L76.3 85.4M52.4 51.2L46.9 56.3M12.3 15.2L18.2 14.9M14.7 0.3L16.1 -0.8M55.5 52.7L52.4 51.2M25.5 77.9L24.4 75.0M12.5 16.1L12.3 15.2M16.6 83.4L11.7 80.6M67.7 6.3L68.9 7.9M28.2 40.5L25.8 40.3M37.6 14.3L32.5 12.9M79.0 21.9L81.9 21.7M52.5 72.3L47.0 72.9M30.2 69.4L24.6 73.4M48.3 7.2L51.2 5.0M59.9 9.8L60.5 7.6M4.7 28.0L5.0 27.5M86.3 27.6L89.3 25.5M92.8 1.6L85.4 -2.3M80.8 8.1L79.3 11.4M78.6 3.2L69.5 8.0M24.4 81.5L25.5 77.9M68.2 61.3L66.9 62.0M29.5 61.6L26.2 60.5M13.2 2.4L13.3 2.4M28.6 40.5L30.2 39.0M48.3 7.2L44.5 8.2M71.9 70.2L75.1 65.4M69.3 54.4L67.9 54.0M37.1 21.6L34.6 19.6M55.9 17.8L52.9 15.4M83.5 44.9L81.7 44.9M44.4 61.4L42.6 60.8M61.0 57.0L63.5 61.2M1.6 52.2L-1.2 48.6M0.1 24.4L-0.7 25.5M8.1 20.0L3.9 22.4M14.4 57.6L7.7 61.6M70.9 0.7L66.1 -4.1M86.8 78.2L85.9 75.7M34.9 28.1L38.4 30.9M79.5 3.8L79.5 3.8M84.1 57.0L84.1 55.7M52.3 15.6L52.9 15.4M64.3 13.1L63.5 11.5M27.6 10.8L24.8 19.3M5.1 37.6L13.1 41.4M77.7 34.0L83.5 31.9M45.0 68.8L46.0 66.5M41.3 57.2L42.6 60.8M90.7 57.5L89.2 58.6M44.3 30.0L40.1 30.0M60.5 7.6L59.5 1.3M66.0 5.8L63.6 9.2M24.4 38.9L23.4 33.9M14.4 57.6L14.6 57.4M85.4 87.7L85.5 85.2M63.6 9.2L63.5 11.5M24.5 20.7L18.5 16.9M30.2 39.0L39.5 42.2M68.8 26.2L70.3 30.6M40.3 38.8L39.5 42.2M69.8 59.1L68.2 61.3M52.2 23.6L58.9 27.9M14.4 57.6L14.4 57.6M2.4 58.7L0.7 57.5M77.5 34.2L77.2 34.4M15.7 87.7L16.6 83.4M31.1 66.4L31.9 65.2M10.9 69.8L10.8 70.2M50.9 32.8L50.5 33.6M3.5 70.5L3.5 70.7M66.6 12.8L72.5 17.4M8.8 45.2L11.6 47.1M73.8 46.9L69.3 46.5M6.3 7.1L13.0 7.5M18.8 62.1L19.7 67.1M31.2 32.8L29.7 37.1M26.7 2.1L23.8 4.4M77.2 34.4L75.5 35.8M28.6 52.2L25.9 51.2M63.6 35.7L63.2 35.7M60.5 15.7L59.5 15.5M41.1 55.6L38.8 46.1M24.4 9.4L19.8 10.7M22.1 41.9L20.8 45.2M84.9 24.7L84.7 25.7M46.1 58.0L44.4 61.4M49.3 64.8L51.4 61.5M2.4 23.2L2.5 27.5M2.4 21.0L3.1 22.4M24.4 81.5L23.6 82.7M71.3 79.1L66.4 75.7M16.6 83.4L17.2 82.6M78.6 93.2L78.8 93.4M6.0 6.1L3.1 1.5M45.2 45.7L40.2 44.0M89.8 30.0L91.2 28.0M45.0 68.8L44.0 68.9M67.1 26.8L68.8 26.2M71.4 51.9L69.3 54.4M37.4 21.8L37.8 23.3M66.6 19.3L71.1 21.1M83.8 40.3L83.5 44.9M28.2 45.3L39.7 44.7M64.1 35.9L67.9 45.7M63.0 36.0L58.3 41.5M72.5 17.4L72.3 18.6M8.7 33.4L14.1 39.5M70.9 24.2L76.0 26.7M40.3 91.7L46.0 87.8M37.8 23.3L34.9 28.1M86.3 27.6L89.8 30.0M43.7 18.5L42.3 24.6M11.6 12.6L11.6 12.9M65.5 74.8L66.4 75.7M79.2 64.8L77.8 72.7M20.8 38.5L24.4 38.9M21.4 32.4L23.4 33.9M11.2 26.6L8.1 25.8M0.6 12.5L2.5 12.8M14.7 55.7L15.0 53.6M46.1 58.0L46.6 57.7M24.6 73.4L24.4 75.0M69.5 8.0L68.9 7.9M38.5 83.1L40.3 91.7M69.4 56.6L64.4 56.0M8.7 82.9L11.7 80.6M55.7 73.3L52.5 72.3M2.1 35.2L2.0 34.8M29.3 27.4L31.2 28.7M61.5 71.2L62.7 62.0M18.1 8.7L19.8 10.7M51.2 5.0L46.0 -2.2M93.5 36.1L90.6 44.3M11.3 29.1L10.1 31.6M12.7 23.9L13.8 23.6M82.7 19.9L84.9 24.7M90.1 24.4L87.0 22.3M87.1 35.7L83.8 40.3M55.2 79.9L54.0 81.1M60.5 45.2L58.3 41.5M90.0 64.1L89.2 58.6M85.5 85.2L81.7 84.6M87.1 35.7L92.1 35.2M28.6 52.2L33.0 51.9M11.3 29.1L20.2 30.9M52.5 11.8L54.4 11.5M0.8 68.3L3.5 70.5M86.2 47.2L83.5 44.9M78.4 43.3L78.2 43.3M39.9 74.6L36.1 75.0M28.2 45.3L28.6 40.5M89.3 25.5L91.2 28.0M23.8 4.4L24.4 9.4M69.5 8.0L75.3 13.6M15.6 77.5L20.6 76.7M5.9 64.6L0.8 68.3M34.5 81.5L25.5 77.9M84.1 55.7L91.1 54.1M77.0 58.8L77.9 64.1M8.2 16.0L11.6 14.2M19.7 67.1L14.3 69.9M-0.8 58.6L0.7 57.5M38.5 83.1L38.1 82.3M58.3 71.0L57.1 68.0M5.0 27.5L8.1 25.8M19.7 67.1L22.3 71.6M47.7 22.9L43.7 18.5M67.9 45.7L66.2 46.2M51.9 22.6L52.1 23.0M71.9 70.2L71.1 70.5M23.4 51.4L25.9 51.2M40.2 2.1L40.0 3.7M15.7 87.7L16.1 89.2M67.1 26.8L61.0 25.4M93.5 36.1L92.1 35.2M22.3 71.6L20.6 71.8M69.8 59.1L69.4 56.6M55.6 19.7L57.1 20.9M77.5 34.2L77.7 34.0M30.9 86.4L29.0 89.6M45.2 45.7L47.9 45.9M60.5 45.2L64.6 45.8M48.2 81.8L49.2 80.3M18.8 35.8L18.8 35.9M38.8 46.1L39.7 44.7" fill="none" stroke="#fff" stroke-width="0.5"/></pattern></defs><g clip-path="url(#cm)" opacity="0.45"><rect x="0" y="0" width="786" height="255" fill="url(#pN)"/><rect x="0" y="255" width="786" height="350" fill="url(#pS)"/></g><g fill="none" stroke="#f4f8fa" stroke-width="1.4" stroke-linejoin="round" stroke-linecap="round"><polyline points="112.6,10.2 109.6,22.4 106.5,32.5 101.4,40.7 101.4,52.9 102.4,61.0 100.4,71.2 98.4,76.3 100.4,81.4 102.4,87.5 101.4,95.6"/><polyline points="55.6,85.4 60.7,83.4 66.8,82.4 72.9,81.4 81.1,79.3 89.2,77.3 98.4,76.3"/><polyline points="101.4,95.6 93.3,95.6 85.1,96.6 80.1,99.7 79.0,105.8 81.1,113.9 83.1,120.0"/><polyline points="101.4,95.6 115.7,103.7 125.9,106.8 136.0,106.8 142.1,102.7 148.2,99.7 154.4,100.7 160.5,102.7 164.5,107.8 170.6,113.9 180.0,116.9"/><polyline points="142.1,25.4 142.1,35.6 147.2,43.7 154.4,53.9 152.3,61.0 150.3,67.1 152.3,69.2 162.5,69.2 172.7,68.1 180.0,67.1"/><polyline points="152.3,69.2 150.3,77.3 148.2,85.4 147.2,91.5 148.2,97.6 150.3,101.7"/><polyline points="259.4,49.4 263.5,46.8 269.6,43.1 275.7,39.7"/><polyline points="350.2,38.6 348.1,46.8 342.0,51.9 340.0,53.3"/><polyline points="388.9,38.6 387.8,48.8 384.8,56.9 382.7,61.0"/><polyline points="352.2,54.9 360.4,61.0 370.5,63.1 382.7,61.0 390.9,67.1 397.0,71.2"/><polyline points="419.4,39.7 415.3,48.8 409.2,56.9 403.1,63.1 399.0,69.2 397.0,71.2"/><polyline points="397.0,71.2 395.0,77.3 392.9,83.4 390.9,89.5 388.9,93.6"/><polyline points="340.0,71.2 348.1,77.3 356.3,83.4 364.4,89.5 372.6,93.6 380.7,94.6 388.9,93.6"/><polyline points="366.5,79.3 380.7,79.3 383.8,85.4 380.7,89.5 368.5,89.5 365.4,84.4 366.5,79.3"/><polyline points="388.9,93.6 401.1,101.7 409.2,105.8 417.4,111.9 420.4,120.0"/><polyline points="473.3,69.2 468.2,78.3 462.1,87.5 450.9,95.6 445.9,105.8 442.8,120.0"/><polyline points="148.2,131.2 154.4,126.1 162.5,122.0 180.0,120.0"/><polyline points="470.3,129.3 482.5,144.6 490.6,154.7 500.0,162.9"/><polyline points="554.3,90.5 555.3,106.8 552.3,125.1 547.2,141.4 539.0,155.6 533.9,161.7 530.9,171.9 528.9,180.0"/><polyline points="480.0,138.3 488.1,145.4 496.3,155.6 504.4,163.7 510.5,171.9 512.6,180.0"/><polyline points="606.8,102.4 609.9,108.5 605.8,116.6 604.8,126.8 603.8,139.0 593.6,151.2 589.5,161.4 580.4,167.5 572.2,173.6 560.0,181.7"/><polyline points="605.8,116.6 612.9,114.6 621.1,115.6 625.1,120.7 629.2,125.8 637.4,127.8 641.4,130.8 643.5,134.9 641.4,141.0 638.4,145.1 641.4,149.2 649.6,153.2 657.7,155.3 661.8,157.3"/><polyline points="589.5,163.4 593.6,175.6 597.7,183.7 599.7,189.8"/><polyline points="160.7,258.6 172.9,252.5 185.1,244.4 191.2,243.4 205.5,251.5 217.7,255.6 225.9,260.7 230.9,259.1 242.1,262.7 248.2,266.8 254.4,264.7 262.5,258.6 270.6,255.6 280.0,252.5"/><polyline points="235.0,266.8 235.0,281.0 242.1,291.2 250.3,305.4 256.4,314.6"/><polyline points="138.3,319.7 144.4,315.6 150.5,314.6 156.6,317.6 160.7,321.7 163.8,327.8 168.9,329.8 181.1,330.8 189.2,329.8 197.4,331.9 205.5,333.9 211.6,333.9 221.8,330.8 234.0,330.8 242.1,327.8 250.3,323.7 256.4,314.6"/><polyline points="256.4,314.6 262.5,309.5 270.6,305.4 280.0,303.4"/><polyline points="256.4,314.6 260.5,321.7 262.5,329.8 266.6,340.0"/><polyline points="335.0,220.0 341.1,228.1 347.2,236.3 351.2,242.4 350.2,250.5 351.2,260.7 350.2,269.8 341.1,270.8 332.9,272.9 324.8,275.9 318.7,279.0 313.6,281.0"/><polyline points="280.0,255.6 292.2,256.6 304.4,260.7 312.6,263.7 324.8,267.8 329.9,270.8"/><polyline points="350.2,270.8 353.3,281.0 358.4,293.2 363.5,301.4 369.6,311.5 372.6,321.7 370.6,333.9 369.6,340.0"/><polyline points="298.3,305.4 300.4,315.6 308.5,321.7 318.7,323.7 330.9,319.7 341.1,312.5 351.2,311.5 361.4,314.6 371.6,320.7 381.8,321.7 392.0,322.7 397.0,322.1"/><polyline points="450.5,279.3 448.5,289.5 446.5,295.6 442.4,299.7 438.3,305.8 436.3,311.9 434.2,320.0"/><polyline points="481.1,287.5 479.0,295.6 481.1,301.7 485.1,307.8 489.2,313.9 492.3,320.0"/><polyline points="223.8,380.8 232.0,372.7 242.1,365.6 252.3,361.5 262.5,367.6 270.6,373.7 280.0,378.8"/><polyline points="153.6,399.2 166.8,403.2 175.0,407.3 181.1,410.3 191.2,412.4 201.4,405.3 209.6,400.2 215.7,399.2 222.8,401.2"/><polyline points="222.8,401.2 223.8,391.0 223.8,380.8"/><polyline points="222.8,401.2 229.9,409.3 236.0,419.5 242.1,427.6 250.3,429.7 256.4,433.7 260.5,441.9 262.5,450.0"/><polyline points="181.1,410.3 179.0,419.5 177.0,427.6 175.4,434.7 179.0,441.9 182.1,450.0"/><polyline points="280.0,381.9 292.2,383.9"/><polyline points="369.6,330.0 367.5,338.1 365.5,346.3 369.6,352.4 373.6,356.4 375.7,360.5 373.6,366.6 371.6,370.7 369.6,375.8"/><polyline points="292.6,383.9 295.3,395.1 292.2,411.4 292.2,421.5 296.3,429.7 292.2,437.8 288.1,445.9 286.1,450.0"/><polyline points="394.0,401.2 402.1,393.1 412.3,389.0 422.5,385.9 430.6,382.9 440.0,370.7"/><polyline points="434.6,314.2 448.9,322.4 451.9,330.5 450.9,337.6 457.0,343.7 465.1,346.8 467.2,354.9 465.1,359.0"/><polyline points="466.2,358.0 479.4,355.9 485.5,359.0 491.6,354.9 499.7,351.9 507.9,350.8"/><polyline points="465.1,359.0 450.9,360.0 442.7,364.1 439.7,371.2 438.7,381.4 433.6,385.4 424.4,387.5 412.2,392.5 400.0,397.6"/><polyline points="461.1,361.0 459.0,381.4 461.1,389.5 463.1,397.6 467.2,407.8 473.3,416.9"/><polyline points="181.1,430.0 183.1,440.2 184.1,450.3 183.1,460.5 182.1,470.7 183.1,478.8 185.1,482.5"/><polyline points="185.1,482.5 197.4,484.5 207.5,483.3 217.7,480.8 225.9,477.8 230.9,473.7 238.1,470.7 246.2,466.2 254.4,461.5 262.5,458.5 272.7,460.5 280.0,460.5"/><polyline points="244.2,480.8 240.1,491.0 232.0,499.2 223.8,506.9"/><polyline points="237.0,497.1 237.7,511.4 239.1,517.5"/><polyline points="254.4,430.0 257.4,440.2 262.5,448.3 268.6,454.4 272.7,460.5"/><polyline points="295.4,420.0 296.5,428.1 302.6,438.3 300.5,448.5 292.4,457.6 291.4,466.8 296.5,475.9 306.6,482.0 315.8,486.1 317.8,491.2"/><polyline points="293.1,384.5 302.2,383.7 311.4,383.0 317.5,382.2 325.1,381.4 329.7,379.2 332.7,380.7 338.9,378.4 345.0,377.6 351.1,376.9 357.2,376.9 363.3,376.1 369.4,376.1 375.5,376.1 380.1,377.6 381.6,380.7 383.1,385.3 385.4,389.8 387.7,392.9 386.2,397.5 384.7,400.5 381.6,405.1 378.5,408.1 375.5,411.2 372.4,414.2 369.4,418.8 366.3,423.4 364.8,428.0 363.3,431.0 360.2,434.1 355.6,435.6 351.1,435.6 345.0,434.1 340.4,434.1 335.8,435.6 331.2,436.4 326.6,437.1 322.1,440.2 317.5,443.2 311.4,447.8 306.8,449.3 302.2,447.8 299.2,443.2 296.1,437.1 294.6,431.0 293.1,424.9 294.6,418.8 293.1,412.7 294.6,406.6 296.1,400.5 294.6,394.4 293.1,388.3 293.1,384.5"/><polyline points="387.7,392.9 393.8,395.2 399.9,392.9 406.0,389.8 410.0,386.8"/><polyline points="290.0,384.8 293.1,384.5"/><polyline points="369.6,416.4 366.8,433.1 375.2,447.1 372.4,458.3 364.0,469.5 358.4,483.5 355.6,491.9"/><polyline points="387.7,392.9 394.7,406.6 400.3,416.4 414.3,416.4"/><polyline points="400.3,416.4 405.9,430.3 414.3,441.5 419.9,447.1"/><polyline points="397.0,322.0 406.5,320.7 420.7,322.7 430.9,318.6 439.0,314.6 447.2,306.4 451.2,292.2 453.3,280.0"/><polyline points="150.0,57.2 159.5,57.2 186.3,53.4 211.1,49.5 237.8,43.8 251.1,40.0"/><polyline points="251.1,40.0 264.5,47.6 276.0,51.5 291.2,55.3 295.0,62.9 302.7,72.5 317.9,76.3 329.4,74.4 340.8,66.7 348.5,59.1 363.7,55.3"/><polyline points="258.8,76.3 260.7,97.3 258.0,116.4 258.8,139.3"/><polyline points="292.0,78.2 293.1,108.8 292.0,139.3 287.4,148.9"/><polyline points="161.5,122.1 188.2,120.2 211.1,125.9 228.2,133.6"/><polyline points="228.2,133.6 235.9,148.9 239.7,166.0 237.8,185.1 237.8,192.8"/><polyline points="228.2,133.6 245.4,137.4 258.8,140.1 276.0,143.1 287.4,148.9 302.7,154.6"/><polyline points="302.7,154.6 317.9,162.2 333.2,166.0 340.8,162.2"/><polyline points="340.8,162.2 348.5,150.8 356.1,131.7 358.0,112.6 356.1,93.5"/><polyline points="157.6,185.1 180.5,187.0 203.4,190.9 222.5,196.6 237.8,192.8"/><polyline points="237.8,192.8 256.9,192.8 272.1,190.9 283.6,181.3 295.0,173.7 310.3,169.9 325.6,173.7 340.8,181.3 356.1,185.1"/><polyline points="268.3,192.8 272.1,211.9 276.0,231.0 277.9,260.0"/><polyline points="337.0,183.2 333.2,200.4 329.4,219.5 333.2,238.6 340.8,260.0"/><polyline points="356.1,93.5 371.4,97.3 386.6,93.5 401.9,101.1 413.4,112.6 424.8,124.0 440.1,135.5"/><polyline points="356.1,185.1 363.7,192.8 386.6,200.4 409.5,208.1 432.4,219.5 450.0,227.2"/><polyline points="406.5,170.0 405.4,178.1 404.4,192.4 412.6,196.4 420.7,198.5 428.9,204.6 431.9,210.7 433.3,216.8 433.9,222.9"/><polyline points="380.0,196.4 388.1,199.5 396.3,200.5 404.4,192.4"/><polyline points="380.0,237.1 392.2,231.0 402.4,233.1 410.5,235.1 416.6,241.2 422.7,247.3 428.9,253.4 437.0,259.5 441.1,263.6 445.1,264.6 449.2,269.7 457.4,273.7 465.5,275.8 469.6,275.8"/><polyline points="447.2,265.6 447.2,261.5 451.2,257.5 457.4,255.4"/><polyline points="481.8,182.2 489.9,184.2 496.0,190.3 504.2,192.4 510.3,194.4 518.4,186.3 526.6,182.2 534.7,178.1 540.0,176.1"/><polyline points="496.0,220.8 502.1,222.9 510.3,226.9 518.4,229.0 526.6,233.1 532.7,237.1"/><polyline points="498.1,224.9 500.1,235.1 500.1,245.3 496.0,253.4 492.0,259.5 485.9,265.6 479.7,273.7 475.7,279.8 473.6,290.0"/><polyline points="433.9,222.9 441.1,231.0 447.2,237.1 449.2,243.2 447.2,251.4 447.2,261.5"/></g><polygon points="637.4,303.3 641.5,299.7 647.3,297.2 651.4,293.9 655.6,288.9 661.3,284.8 669.6,280.7 676.2,279.0 682.0,277.9 681.2,280.7 677.9,283.1 681.2,285.6 678.7,288.1 682.9,290.6 687.8,291.4 692.8,290.6 696.1,292.2 696.9,295.5 694.4,299.7 691.9,303.0 689.5,307.9 686.2,312.9 682.9,317.9 677.9,322.8 675.4,323.6 671.3,319.5 668.0,317.9 661.3,316.2 659.7,311.2 655.6,307.1 650.6,305.5 647.3,310.4 644.8,307.9 641.5,306.3 638.2,304.6" fill="#a09a70" /><polygon points="715.1,272.4 719.2,271.6 725.9,270.7 732.5,271.6 735.8,274.0 738.3,276.5 740.7,281.5 739.9,286.4 735.8,285.6 730.8,283.1 727.5,279.8 724.2,278.2 719.2,279.0 715.9,278.2 715.1,274.9" fill="#f00014" /><polygon points="584.0,340.7 586.4,337.8 591.4,336.5 595.5,335.7 598.8,336.9 600.1,339.8 598.0,342.3 595.5,345.6 592.2,347.3 588.9,348.5 586.4,346.4 584.4,344.8" fill="#00aff0" /><polygon points="580.2,346.4 584.0,345.6 587.3,347.3 588.9,348.9 588.9,352.6 586.4,351.8 583.1,351.0 580.2,350.6 579.8,348.1" fill="#f00014" /><polygon points="588.9,362.1 591.0,361.3 591.8,363.0 593.9,364.2 597.2,364.2 597.6,365.5 594.7,365.5 591.4,364.6 589.3,365.5 588.8,363.8" fill="#a09a70" /><polygon points="486.7,515.9 489.4,512.4 493.0,511.5 496.5,512.4 498.3,515.1 500.1,517.7 498.3,520.4 498.3,524.9 496.5,528.4 494.7,532.9 493.0,532.0 491.2,526.6 489.4,521.3 487.6,518.6" fill="#a09a70" /><polygon points="543.3,540.6 547.9,539.1 554.0,539.1 561.6,537.6 567.7,535.3 570.8,532.2 575.3,529.2 583.0,527.6 583.7,529.2 576.9,533.0 572.3,536.8 571.5,541.4 570.0,545.2 567.7,549.0 564.7,554.4 561.6,558.2 557.0,561.3 554.0,560.5 550.9,556.7 547.9,550.6 546.3,545.2 544.8,542.9" fill="#a09a70" /><polygon points="478.4,577.3 483.7,575.8 486.8,573.5 489.8,571.2 491.4,572.7 489.1,577.3 486.8,581.1 485.3,581.9 483.7,578.8 479.2,578.8" fill="#a09a70" /><polygon points="600.7,561.1 606.0,555.8 607.8,553.1 613.2,554.0 616.7,553.1 621.2,552.2 622.1,558.4 623.0,565.6 621.2,570.0 618.5,571.8 613.2,576.3 609.6,575.4 604.3,571.8 600.7,568.2 599.8,563.8" fill="#a09a70" /><polygon points="695.1,519.2 699.5,517.4 704.0,518.3 704.0,526.3 703.1,533.5 701.3,540.6 698.7,546.0 693.3,548.6 688.9,549.5 684.4,553.1 679.1,556.6 673.7,557.5 670.2,556.6 675.5,554.0 680.8,551.3 685.3,546.0 687.1,540.6 689.8,535.3 692.4,529.9 694.2,524.6" fill="#a09a70" /><polygon points="704.0,508.5 704.9,504.1 707.6,499.6 711.1,496.9 716.5,495.2 720.9,493.4 722.7,489.8 721.8,487.1 724.5,490.7 723.6,496.0 720.0,503.2 714.7,505.0 709.3,506.7 706.7,509.4" fill="#a09a70" /><circle cx="526.5" cy="554.4" r="5.3" fill="#a09a70"/><path d="M661.3 284.8L655.6 288.9L658.0 292.2L663.0 293.1L668.0 291.4L670.4 284.8L669.6 280.7Z" fill="#00aff0"/><path d="M638.2 304.6L641.5 306.3L644.8 306.3L646.5 301.3L644.8 298.8L641.5 299.7L637.4 303.3Z" fill="#00aff0"/><path d="M661.3 316.2L668.0 317.9L671.3 319.5L675.4 323.6L677.9 322.8L682.9 317.9L686.2 312.9L689.5 307.9L682.9 307.9L674.6 309.6L671.3 307.9L666.3 304.6L661.3 306.3L659.7 311.2Z" fill="#00aff0"/><path d="M654.7 303.8L659.7 304.6L664.7 303.0L663.0 299.7L658.0 298.0L653.1 299.7Z" fill="#00aff0"/><path d="M672.9 293.1L676.2 295.5L677.9 291.4L674.6 288.1Z" fill="#00aff0"/><path d="M692.9 301.7L693.6 298.8L690.3 298.0L690.3 301.3L692.6 302.0Z" fill="#00aff0"/><path d="M647.3 310.4L650.6 305.5L651.0 305.6L651.4 303.0L648.9 299.7L644.8 301.3L644.8 307.9Z" fill="#f00014"/><path d="M664.7 306.3L668.0 307.9L671.3 305.5L669.6 301.3L664.7 302.1Z" fill="#f00014"/><path d="M666.3 296.4L669.6 297.2L672.9 295.5L671.3 292.2L666.3 293.1Z" fill="#f00014"/><path d="M696.5 296.1L696.4 293.5L696.3 293.1L693.6 292.2L694.1 298.8L695.4 297.9Z" fill="#f00014"/><path d="M730.8 283.1L735.8 285.6L739.9 286.4L740.7 281.5L738.3 276.5L735.8 274.0L732.5 274.9L727.5 275.7L727.5 279.8Z" fill="#00aff0"/><path d="M724.2 278.2L727.2 278.2L726.7 271.2L723.4 271.2Z" fill="#a09a70"/><path d="M487.6 518.6L490.3 518.6L493.0 517.7L495.6 519.5L498.3 520.4L500.1 517.7L498.3 515.1L496.5 512.4L493.0 511.5L489.4 512.4L486.7 515.9Z" fill="#f00014"/><path d="M493.8 517.7L496.5 515.9L495.6 512.4L493.0 512.4Z" fill="#00aff0"/><path d="M491.7 527.0L493.0 526.6L492.1 521.3L490.3 521.3Z" fill="#00aff0"/><path d="M550.9 556.7L554.0 560.5L556.3 560.5L557.0 553.6L555.5 546.7L550.9 545.2L547.1 545.2L547.9 550.6Z" fill="#f00014"/><path d="M564.7 554.4L567.7 549.0L566.2 544.5L560.1 545.2L559.3 552.1L558.5 559.0L561.6 558.2Z" fill="#f00014"/><path d="M547.9 547.5L553.2 546.0L552.4 542.9L546.3 543.7Z" fill="#00aff0"/><path d="M570.0 545.2L570.4 544.3L570.8 542.2L564.7 542.2L565.4 546.7L567.7 548.3L568.8 547.2Z" fill="#00aff0"/><path d="M557.0 542.9L560.1 542.9L560.8 538.3L556.3 539.1Z" fill="#00aff0"/><path d="M568.5 539.9L571.5 539.9L572.3 534.5L567.7 535.3Z" fill="#f00014"/><path d="M479.2 578.8L483.7 578.8L485.3 581.9L486.8 581.1L487.6 578.1L483.7 576.5L478.4 577.3Z" fill="#f00014"/><path d="M525.0 559.5L525.5 559.6L525.7 559.6L527.7 559.4L526.8 555.5L523.4 555.9L524.9 559.4Z" fill="#f00014"/><path d="M606.0 555.8L605.1 558.4L607.8 560.2L612.3 559.3L611.4 554.0L607.8 553.1Z" fill="#00aff0"/><path d="M613.2 576.3L618.5 571.8L618.5 565.6L613.2 563.8L607.8 565.6L607.8 570.9L609.6 575.4Z" fill="#00aff0"/><path d="M601.6 568.2L604.3 571.8L607.8 573.6L607.8 565.6L602.5 565.6Z" fill="#a5d94a"/><path d="M600.4 562.0L601.0 568.2L603.9 567.3L603.4 560.2L600.9 560.9L600.7 561.1Z" fill="#f00014"/><path d="M616.7 553.1L617.6 559.3L621.7 559.3L621.2 552.2Z" fill="#00aff0"/><path d="M614.0 559.3L615.3 559.3L616.4 554.0L614.6 554.0Z" fill="#f00014"/><path d="M622.4 567.1L622.4 565.2L616.7 565.2L616.7 567.0L622.3 567.3Z" fill="#f00014"/><path d="M694.2 524.6L695.1 528.1L703.8 528.1L704.0 526.3L704.0 518.3L699.5 517.4L695.1 519.2Z" fill="#00aff0"/><path d="M687.1 540.6L685.3 546.0L680.8 551.3L675.5 554.0L670.2 556.6L673.7 557.5L679.1 556.6L684.4 553.1L688.0 548.6L691.9 541.5L689.8 537.9L688.2 538.4Z" fill="#f00014"/><path d="M714.7 505.0L715.6 504.7L715.6 501.4L711.1 502.3L711.1 506.1Z" fill="#00aff0"/><path d="M719.1 503.5L719.1 500.5L714.7 501.4L715.5 504.7Z" fill="#f00014"/><polygon points="233.4,545.6 236.5,546.2 238.3,548.8 236.2,549.3" fill="#00aff0"/><polygon points="360.6,586.8 361.5,584.9 362.5,587.2" fill="#00aff0"/><circle cx="669.6" cy="332.7" r="1.5" fill="#fff" stroke="#c8c8c8" stroke-width="0.6"/><polyline points="464.5,605 464.5,503.5 503.6,458.5 778,458.5" fill="none" stroke="#aaa" stroke-width="1.2"/><rect x="740.4" y="48.3" width="36.4" height="33.9" rx="4.2" fill="#fff" stroke="#9c9c9c" stroke-width="2.4"/><line x1="758.6" y1="64.9" x2="767.2" y2="73.1" stroke="#9c9c9c" stroke-width="3.2"/><circle cx="754.6" cy="60.9" r="5.7" fill="#fff" stroke="#9c9c9c" stroke-width="1.7"/><line x1="751.3" y1="60.9" x2="757.9" y2="60.9" stroke="#4a8fd6" stroke-width="1.8"/><line x1="754.6" y1="57.6" x2="754.6" y2="64.2" stroke="#4a8fd6" stroke-width="1.8"/><rect x="740.4" y="87.3" width="36.4" height="34.1" rx="4.2" fill="#fff" stroke="#9c9c9c" stroke-width="2.4"/><line x1="758.6" y1="103.9" x2="767.2" y2="112.1" stroke="#9c9c9c" stroke-width="3.2"/><circle cx="754.6" cy="99.9" r="5.7" fill="#fff" stroke="#9c9c9c" stroke-width="1.7"/><line x1="751.3" y1="99.9" x2="757.9" y2="99.9" stroke="#4a8fd6" stroke-width="1.8"/></svg></body></html>
